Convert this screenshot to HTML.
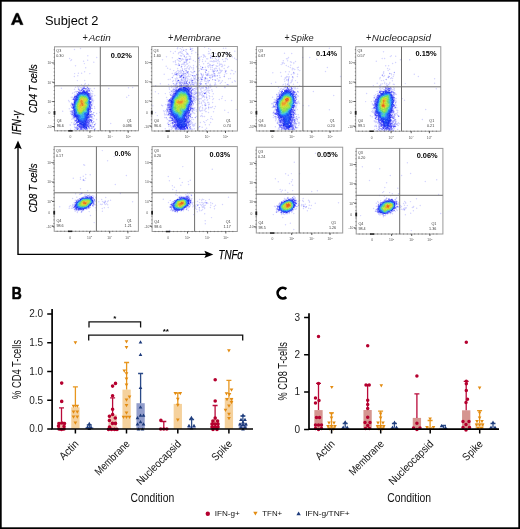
<!DOCTYPE html>
<html><head><meta charset="utf-8"><style>
html,body{margin:0;padding:0;background:#fff;}
svg{display:block;will-change:transform;font-family:"Liberation Sans", sans-serif;}
</style></head><body>
<svg width="520" height="529" viewBox="0 0 520 529">
<rect x="0" y="0" width="520" height="529" fill="none" stroke="#000" stroke-width="3.4"/>
<path d="M11.1 24.7 L15.9 13.4 Q17.15 12.6 18.4 13.4 L23.2 24.7 L20.3 24.7 L19.3 22.2 L15.0 22.2 L14.0 24.7 Z M15.55 20.2 L18.75 20.2 L17.15 16.0 Z" fill="#000" fill-rule="evenodd" stroke="#000" stroke-width="0.35" stroke-linejoin="round"/>
<text x="45.00" y="25.10" font-size="12.6" textLength="53.50" lengthAdjust="spacingAndGlyphs" >Subject 2</text>
<text x="82.60" y="40.9" font-size="10" fill="#222" textLength="5.40" lengthAdjust="spacingAndGlyphs">+</text>
<text x="88.70" y="40.8" font-size="9" font-style="italic" fill="#222" textLength="22.10" lengthAdjust="spacingAndGlyphs">Actin</text>
<text x="168.00" y="40.9" font-size="10" fill="#222" textLength="5.50" lengthAdjust="spacingAndGlyphs">+</text>
<text x="174.10" y="40.8" font-size="9" font-style="italic" fill="#222" textLength="46.60" lengthAdjust="spacingAndGlyphs">Membrane</text>
<text x="284.50" y="40.9" font-size="10" fill="#222" textLength="5.10" lengthAdjust="spacingAndGlyphs">+</text>
<text x="290.60" y="40.8" font-size="9" font-style="italic" fill="#222" textLength="23.10" lengthAdjust="spacingAndGlyphs">Spike</text>
<text x="365.90" y="40.9" font-size="10" fill="#222" textLength="5.40" lengthAdjust="spacingAndGlyphs">+</text>
<text x="371.80" y="40.8" font-size="9" font-style="italic" fill="#222" textLength="59.20" lengthAdjust="spacingAndGlyphs">Nucleocapsid</text>
<text x="21.50" y="134.80" font-size="12.8" font-style="italic" textLength="23.80" lengthAdjust="spacingAndGlyphs" transform="rotate(-90 21.50 134.80)" stroke="#000" stroke-width="0.25">IFN-γ</text>
<text x="37.10" y="113.00" font-size="10.2" font-style="italic" textLength="48.80" lengthAdjust="spacingAndGlyphs" transform="rotate(-90 37.10 113.00)" stroke="#000" stroke-width="0.2">CD4 T cells</text>
<text x="37.30" y="212.60" font-size="10.2" font-style="italic" textLength="49.00" lengthAdjust="spacingAndGlyphs" transform="rotate(-90 37.30 212.60)" stroke="#000" stroke-width="0.2">CD8 T cells</text>
<text x="218.50" y="258.70" font-size="13.4" font-style="italic" textLength="24.40" lengthAdjust="spacingAndGlyphs" stroke="#000" stroke-width="0.25">TNFα</text>
<path d="M18 254.4 V146 M17.3 254.4 H207" stroke="#000" stroke-width="1.4" fill="none"/>
<path d="M18 140.4 L14.2 149.2 L18 147.6 L21.8 149.2 Z" fill="#000"/>
<path d="M213.3 254.4 L204.4 250.7 L206 254.4 L204.4 258.1 Z" fill="#000"/>
<defs><filter id="fb" x="-5%" y="-5%" width="110%" height="110%"><feGaussianBlur stdDeviation="0.6"/></filter></defs>
<g>
<g fill="none" stroke-linecap="round" stroke-width="1.45"><path d="M80.5 48.4h0M74.5 49.4h0M113.4 54.2h0M87.8 55.7h0M96.7 57.5h0M69.6 58.5h0M71.5 59.7h0M70.8 60.6h0M87.7 60.3h0M83.6 61.3h0M93.8 62.3h0M84.4 63.6h0M75.5 65.7h0M85.7 67.8h0M84.6 71.8h0M74.6 73.6h0M78.4 73.2h0M81.6 73.2h0M89.8 73.6h0M77.8 75.7h0M74.4 76.5h0M77.4 80.6h0M84.7 80.5h0M85.4 83.5h0M81.5 84.6h0M84.7 84.4h0M88.5 84.4h0M83.2 85.7h0M77.6 86.6h0M79.2 86.2h0M83.5 86.4h0M84.8 86.5h0M86.3 86.3h0M75.5 87.2h0M78.3 87.6h0M80.4 87.6h0M81.2 87.6h0M82.3 87.5h0M83.6 87.5h0M128.5 87.7h0M132.6 87.4h0M61.4 88.3h0M78.4 88.5h0M81.7 88.3h0M82.7 88.6h0M87.3 88.3h0M89.3 88.4h0M90.6 88.6h0M94.4 88.4h0M108.8 88.4h0M74.5 89.3h0M79.3 89.3h0M83.4 89.6h0M85.8 89.6h0M88.6 89.3h0M89.6 89.4h0M85.3 90.3h0M86.7 90.4h0M88.3 90.4h0M91.5 90.5h0M75.3 91.4h0M76.7 91.5h0M78.6 91.8h0M85.2 91.2h0M89.7 91.6h0M92.7 91.5h0M74.4 92.6h0M76.4 92.8h0M88.4 92.4h0M90.3 92.2h0M72.5 93.3h0M90.8 93.4h0M91.3 93.4h0M92.7 93.7h0M74.8 94.6h0M76.4 94.3h0M90.7 94.5h0M74.5 95.5h0M91.6 95.4h0M92.5 95.4h0M94.8 95.4h0M128.7 95.4h0M90.6 96.4h0M92.5 96.7h0M71.3 97.2h0M72.6 97.3h0M73.3 97.4h0M75.4 97.8h0M126.7 97.3h0M91.6 98.3h0M92.7 98.6h0M72.3 99.3h0M92.4 99.8h0M68.6 100.4h0M93.7 100.3h0M69.3 101.7h0M73.7 101.8h0M93.2 101.7h0M73.7 102.7h0M92.8 103.2h0M71.4 104.4h0M92.6 104.6h0M70.8 105.5h0M71.5 106.7h0M72.4 106.3h0M91.7 106.2h0M94.4 106.6h0M69.3 108.7h0M92.3 108.4h0M94.7 108.3h0M71.4 110.6h0M72.5 110.7h0M89.3 110.2h0M62.7 111.2h0M70.3 111.2h0M71.3 112.3h0M99.8 112.5h0M70.6 113.4h0M71.5 113.7h0M91.7 113.7h0M96.6 113.4h0M71.5 114.4h0M73.6 114.7h0M93.3 114.2h0M91.4 115.7h0M72.3 116.7h0M73.3 116.8h0M92.2 116.7h0M92.5 117.7h0M72.7 118.4h0M73.6 118.5h0M74.7 118.3h0M75.5 118.2h0M89.5 118.5h0M92.3 118.4h0M93.7 118.7h0M71.8 119.3h0M74.3 119.5h0M75.5 119.6h0M88.5 119.3h0M96.6 119.5h0M74.7 120.4h0M77.7 120.3h0M92.3 120.5h0M75.5 121.3h0M71.7 122.6h0M74.4 122.3h0M89.4 122.7h0M90.2 122.8h0M91.5 122.6h0M73.8 123.2h0M76.4 123.7h0M77.6 123.7h0M92.5 123.4h0M95.6 123.4h0M110.7 123.5h0M70.2 124.7h0M73.5 124.6h0M75.2 124.6h0M76.2 124.3h0M89.8 124.6h0M90.6 124.4h0M91.2 124.7h0M92.7 124.8h0M70.3 125.3h0M80.4 125.6h0M91.3 125.4h0M74.6 126.3h0M76.5 126.8h0M77.3 126.4h0M89.4 126.8h0M92.5 126.7h0M74.7 127.5h0M78.5 127.4h0M88.7 127.7h0M92.6 127.8h0M77.3 128.2h0M79.3 128.2h0M82.3 128.3h0M88.3 128.2h0M92.5 128.4h0M94.7 128.8h0M95.3 128.7h0M70.5 129.3h0M74.6 129.4h0M76.3 129.5h0M79.8 129.3h0M83.7 129.4h0" stroke="#2828f8" stroke-opacity="0.2"/>
<path d="M84.3 87.3h0M86.2 88.5h0M78.6 89.5h0M81.4 89.7h0M87.3 89.5h0M79.6 90.5h0M80.4 90.6h0M84.4 90.4h0M77.3 91.6h0M80.5 91.8h0M88.8 91.5h0M78.5 93.5h0M89.2 94.5h0M90.5 95.3h0M74.8 96.8h0M91.6 96.6h0M74.8 98.2h0M91.7 99.5h0M92.2 100.4h0M91.5 101.5h0M91.3 102.3h0M71.5 103.3h0M72.7 103.5h0M73.6 103.6h0M90.7 105.2h0M91.7 105.4h0M90.4 106.2h0M71.7 107.5h0M72.8 107.2h0M89.6 107.2h0M91.7 108.2h0M73.6 109.7h0M71.3 111.5h0M73.7 111.3h0M89.8 112.3h0M90.7 112.3h0M93.8 112.6h0M72.4 113.5h0M73.2 113.8h0M89.3 113.6h0M89.7 114.4h0M91.4 114.6h0M92.6 114.5h0M90.3 115.4h0M94.4 115.8h0M89.4 116.7h0M91.7 116.4h0M73.8 117.8h0M75.7 117.6h0M91.4 117.4h0M88.7 118.7h0M77.8 119.7h0M87.6 120.4h0M76.5 121.8h0M88.8 121.3h0M93.8 121.8h0M79.5 122.7h0M92.8 122.6h0M75.8 123.6h0M89.3 123.4h0M74.7 124.5h0M79.6 125.5h0M89.8 125.3h0M90.4 126.2h0M91.6 126.4h0M75.5 127.7h0M76.4 127.7h0M77.4 127.6h0M79.4 127.3h0M89.2 127.3h0M76.4 128.2h0M80.7 128.2h0M81.5 128.4h0M83.8 128.7h0M87.3 128.6h0M89.6 128.6h0M91.4 128.3h0M80.3 129.6h0M82.6 129.6h0M86.3 129.7h0M87.3 129.6h0" stroke="#2828f8" stroke-opacity="0.4"/>
<path d="M87.6 87.2h0M83.5 88.3h0M85.6 88.7h0M88.6 88.7h0M87.8 90.6h0M89.4 90.5h0M82.8 91.6h0M87.3 91.5h0M79.4 92.3h0M81.3 92.6h0M77.5 93.6h0M89.7 93.7h0M90.7 97.4h0M73.7 98.8h0M75.4 98.2h0M74.3 99.3h0M90.4 101.8h0M90.5 103.3h0M90.7 104.2h0M91.3 104.7h0M72.6 105.2h0M73.4 105.4h0M72.6 108.3h0M90.3 109.7h0M73.5 110.2h0M90.3 110.3h0M72.7 111.3h0M89.7 111.3h0M91.3 111.4h0M72.4 112.4h0M73.7 112.6h0M90.6 114.6h0M88.3 115.5h0M89.7 115.5h0M90.6 116.7h0M74.4 117.3h0M89.7 117.3h0M76.8 119.6h0M89.5 119.5h0M75.3 120.7h0M89.5 120.3h0M89.4 121.4h0M76.7 122.4h0M88.4 123.5h0M77.7 124.7h0M87.2 124.4h0M88.5 124.5h0M94.7 124.8h0M88.3 125.7h0M90.3 125.4h0M78.7 126.3h0M87.2 126.3h0M93.7 126.7h0M82.3 127.8h0M78.2 128.7h0M85.4 128.7h0M85.3 129.2h0M94.5 129.7h0" stroke="#2828f8" stroke-opacity="0.6"/>
<path d="M89.4 100.4h0" stroke="#1840f0" stroke-opacity="0.6"/>
<path d="M86.5 126.4h0" stroke="#1828f0" stroke-opacity="0.6"/>
<path d="M84.2 88.4h0M82.6 89.2h0M81.8 90.5h0M83.7 90.8h0M84.7 91.6h0M86.5 91.3h0M78.7 92.5h0M80.6 92.6h0M86.2 92.3h0M87.3 92.5h0M77.5 94.8h0M88.4 94.4h0M76.3 95.6h0M89.3 95.3h0M75.3 96.4h0M89.7 96.8h0M74.5 97.3h0M90.7 98.2h0M73.4 99.6h0M75.3 99.2h0M74.6 100.3h0M74.6 101.4h0M90.6 102.7h0M72.4 104.5h0M73.6 104.6h0M73.5 106.5h0M90.4 107.3h0M73.7 108.6h0M89.4 108.7h0M90.4 108.7h0M89.3 109.6h0M72.2 114.7h0M73.7 115.8h0M74.8 115.3h0M74.4 116.2h0M88.5 116.8h0M76.7 117.8h0M88.3 117.4h0M76.7 118.7h0M87.5 118.3h0M87.2 119.7h0M90.6 119.8h0M76.3 120.5h0M86.4 120.4h0M88.2 120.3h0M90.6 120.3h0M91.6 120.2h0M77.6 121.5h0M86.3 121.3h0M91.3 121.7h0M77.3 122.4h0M78.8 122.3h0M86.6 122.4h0M87.3 122.8h0M88.7 122.3h0M79.7 123.4h0M86.7 123.4h0M78.3 124.8h0M79.4 124.7h0M80.8 124.7h0M85.4 124.3h0M86.5 124.7h0M77.5 125.6h0M81.4 125.2h0M86.4 125.6h0M87.2 125.3h0M79.7 126.5h0M80.7 126.3h0M81.4 126.7h0M82.6 126.6h0M88.3 126.8h0M80.5 127.7h0M81.6 127.8h0M84.4 128.2h0M86.5 128.5h0M77.5 129.2h0M81.2 129.2h0" stroke="#2828f8" stroke-opacity="0.8"/>
<path d="M87.5 93.5h0M74.6 112.4h0M87.7 116.6h0" stroke="#1830f0" stroke-opacity="0.8"/>
<path d="M89.2 104.8h0" stroke="#1840f0" stroke-opacity="0.8"/>
<path d="M86.7 115.6h0M82.3 123.7h0" stroke="#1838f0" stroke-opacity="0.8"/>
<path d="M80.2 122.6h0M84.2 127.4h0" stroke="#1828f0" stroke-opacity="0.8"/>
<path d="M83.6 91.2h0M88.6 93.6h0M90.2 99.3h0M75.4 116.4h0M78.7 121.7h0M87.2 121.7h0" stroke="#2828f8"/>
<path d="M82.3 92.3h0M83.6 92.7h0M84.7 92.3h0M85.8 92.7h0M88.3 95.6h0M76.4 96.7h0M89.5 97.7h0M74.5 102.4h0M73.6 107.5h0M88.3 113.5h0M74.3 114.4h0M88.6 114.4h0M75.5 115.5h0M76.7 116.4h0M87.8 117.5h0M86.4 119.7h0M78.5 120.4h0M79.3 121.3h0M85.7 122.3h0M80.4 123.5h0M85.7 123.7h0M82.8 125.3h0M85.3 125.3h0M83.3 126.2h0M83.3 127.3h0M86.5 127.5h0" stroke="#1828f0"/>
<path d="M79.4 93.2h0M77.8 95.2h0M76.3 97.3h0M75.3 100.3h0M74.8 103.4h0M74.7 104.3h0M89.5 106.8h0M88.3 109.5h0M88.4 110.4h0M88.5 111.7h0M88.6 112.8h0M74.3 113.4h0M76.5 115.6h0M87.3 115.5h0M77.7 116.4h0M77.2 117.6h0M77.8 118.7h0M86.6 118.3h0M85.3 120.7h0M85.5 121.6h0M84.3 122.8h0M83.6 123.2h0M84.4 123.8h0M81.2 124.4h0M82.6 124.6h0M83.6 124.4h0M84.5 124.3h0M83.5 125.6h0M84.4 125.3h0M84.4 126.4h0M85.3 126.7h0M85.8 127.6h0" stroke="#1830f0"/>
<path d="M80.4 93.8h0M81.6 93.4h0M83.3 93.3h0M84.7 93.7h0M89.6 99.6h0M75.3 101.4h0M89.2 103.5h0M74.5 109.5h0M75.5 113.2h0M87.5 113.7h0M76.2 114.7h0M79.4 120.3h0M84.4 120.6h0M81.5 121.7h0M82.3 121.8h0M83.2 121.6h0" stroke="#1840f0"/>
<path d="M82.3 93.2h0M86.4 93.8h0M78.8 94.5h0M87.4 94.5h0M88.6 96.6h0M76.3 98.7h0M89.3 98.4h0M76.5 99.5h0M89.6 101.5h0M89.7 102.4h0M89.3 105.3h0M88.2 108.4h0M74.6 110.7h0M74.5 111.6h0M75.3 114.7h0M86.5 114.6h0M87.5 114.4h0M77.4 115.7h0M86.6 116.3h0M86.3 117.5h0M78.4 119.4h0M85.2 119.4h0M80.6 121.8h0M84.4 121.6h0M81.8 122.7h0M82.3 122.6h0M83.3 122.2h0M81.7 123.7h0" stroke="#1838f0"/>
<path d="M85.6 93.4h0M77.7 96.6h0M77.5 97.5h0M76.4 100.3h0M74.5 105.8h0M74.2 108.6h0M85.3 114.3h0M85.7 115.8h0M78.2 116.3h0M78.3 117.5h0M78.2 118.4h0M85.5 118.3h0M80.5 120.6h0" stroke="#1848f0"/>
<path d="M79.3 94.2h0M86.2 94.6h0M78.3 95.4h0M87.7 95.4h0M88.7 97.8h0M77.3 98.7h0M77.3 99.4h0M75.4 102.5h0M74.7 106.7h0M88.8 107.7h0M75.6 112.3h0M87.8 112.4h0M86.2 113.3h0M77.3 114.7h0M78.7 115.8h0M85.3 116.5h0M85.5 117.4h0M79.3 119.6h0M84.3 119.2h0M81.4 120.6h0M82.3 120.6h0M83.6 120.7h0" stroke="#1850f8"/>
<path d="M80.4 94.8h0M85.4 94.6h0M77.2 100.6h0M76.3 101.8h0M84.6 114.8h0M84.8 115.5h0M79.4 117.3h0M79.5 118.7h0M80.7 119.5h0" stroke="#2070f8"/>
<path d="M81.3 94.4h0M78.5 96.8h0M88.2 106.3h0M75.6 109.8h0M79.3 115.3h0M84.7 116.3h0M84.6 117.6h0M82.3 119.6h0" stroke="#2078f8"/>
<path d="M82.7 94.3h0M83.2 94.7h0M84.5 94.6h0M75.6 103.5h0M75.5 104.7h0M87.7 108.2h0M75.7 110.3h0M87.6 111.6h0" stroke="#2060f8"/>
<path d="M79.5 95.5h0M88.7 103.2h0M75.6 106.5h0M77.8 113.7h0M80.7 117.6h0M83.6 118.6h0" stroke="#2890f0"/>
<path d="M80.4 95.4h0M82.8 95.5h0M79.5 96.5h0M87.5 97.7h0M86.7 110.3h0M83.7 112.5h0M81.7 114.3h0M82.4 114.7h0M82.5 115.7h0" stroke="#38b8d8"/>
<path d="M81.3 95.3h0M78.7 100.7h0M76.5 108.4h0" stroke="#40c8c8"/>
<path d="M83.3 95.3h0M76.4 110.3h0M86.6 111.7h0M81.4 115.6h0M82.7 116.5h0" stroke="#30b0e0"/>
<path d="M84.3 95.8h0M76.3 102.7h0M83.8 113.7h0M83.3 116.4h0M82.6 117.7h0" stroke="#30a8e8"/>
<path d="M85.7 95.6h0" stroke="#38b0e0"/>
<path d="M86.4 95.4h0M88.2 99.2h0M88.6 100.7h0M88.4 104.7h0M75.6 107.2h0M87.7 107.4h0M76.7 111.3h0M84.4 112.6h0M83.5 114.7h0M80.6 115.7h0M81.8 116.4h0" stroke="#28a0f0"/>
<path d="M80.7 96.4h0M84.5 96.6h0" stroke="#58d888"/>
<path d="M81.7 96.6h0M77.8 104.4h0M77.3 108.8h0M77.6 109.7h0M83.5 110.7h0M82.6 111.2h0" stroke="#78d858"/>
<path d="M82.7 96.6h0M86.4 97.6h0M87.6 99.7h0M77.3 103.7h0M86.6 103.4h0M85.5 109.2h0M81.7 112.4h0" stroke="#70d860"/>
<path d="M83.6 96.5h0M85.2 108.4h0M77.5 110.3h0" stroke="#68d868"/>
<path d="M85.5 96.5h0M87.7 98.7h0" stroke="#58d088"/>
<path d="M86.8 96.7h0" stroke="#48c8b8"/>
<path d="M87.3 96.6h0" stroke="#2088f0"/>
<path d="M78.6 97.4h0M78.5 114.3h0M80.2 118.3h0" stroke="#2888f0"/>
<path d="M79.5 97.5h0M87.4 101.7h0M87.5 103.7h0M76.4 106.6h0M76.3 107.7h0" stroke="#48d0b0"/>
<path d="M80.2 97.6h0M86.4 101.3h0M77.3 107.3h0" stroke="#80e058"/>
<path d="M81.4 97.6h0M82.5 97.4h0M78.8 103.7h0M85.8 106.8h0M83.5 108.8h0M83.7 109.8h0M82.7 110.3h0" stroke="#a0e040"/>
<path d="M83.8 97.4h0M86.5 98.7h0M79.4 100.3h0M84.3 108.7h0M84.8 109.4h0M78.3 110.4h0" stroke="#98e048"/>
<path d="M84.6 97.5h0M85.3 97.8h0M86.2 104.5h0M77.5 105.5h0M85.7 107.5h0M78.5 111.2h0" stroke="#88e050"/>
<path d="M78.3 98.5h0M88.3 105.3h0M85.7 112.5h0M81.2 118.5h0M82.4 118.4h0" stroke="#2898f0"/>
<path d="M79.8 98.3h0M86.7 102.7h0M87.8 105.6h0" stroke="#60d880"/>
<path d="M80.7 98.4h0M81.7 111.7h0" stroke="#a8e038"/>
<path d="M81.6 98.6h0M80.3 99.5h0M84.8 101.3h0M79.2 103.6h0M84.5 103.3h0M85.5 105.7h0M82.8 107.6h0M81.7 108.4h0M80.5 110.6h0" stroke="#c8d830"/>
<path d="M82.8 98.4h0M78.2 105.3h0M83.8 106.5h0M84.3 106.5h0M81.5 110.7h0" stroke="#c0d830"/>
<path d="M83.5 98.7h0M84.3 98.7h0M85.3 98.7h0M86.3 99.5h0M79.3 102.6h0M84.6 102.6h0M78.6 104.2h0M83.3 107.2h0M84.4 107.5h0M79.4 111.3h0M80.7 111.8h0" stroke="#b8e030"/>
<path d="M88.7 98.3h0M88.7 101.2h0M88.3 102.7h0M75.4 105.7h0M75.3 108.7h0M76.4 112.5h0M86.6 112.5h0M84.4 113.8h0M80.3 116.7h0M81.6 119.3h0" stroke="#2080f0"/>
<path d="M78.7 99.4h0M81.3 117.6h0M83.4 117.6h0" stroke="#28a8f0"/>
<path d="M79.4 99.5h0M78.4 112.8h0M80.3 113.7h0" stroke="#70d858"/>
<path d="M81.4 99.2h0M83.8 105.5h0" stroke="#e0c028"/>
<path d="M82.3 99.3h0M83.3 100.7h0M83.3 101.7h0M83.5 102.3h0M79.4 105.5h0M79.7 106.5h0M81.4 106.8h0M79.3 108.4h0M80.7 108.3h0M80.7 109.8h0" stroke="#e0d028"/>
<path d="M83.5 99.7h0M84.4 99.3h0M85.7 100.8h0M79.5 104.3h0M82.2 106.4h0" stroke="#d0d830"/>
<path d="M85.7 99.4h0M81.3 107.7h0" stroke="#d8d830"/>
<path d="M80.4 100.7h0M80.7 102.4h0M84.6 105.6h0M79.5 107.7h0" stroke="#e0c828"/>
<path d="M81.5 100.8h0M81.8 103.3h0" stroke="#e88020"/>
<path d="M82.6 100.6h0M80.6 101.2h0M80.3 103.2h0" stroke="#e8b828"/>
<path d="M84.5 100.7h0" stroke="#d8d828"/>
<path d="M86.6 100.8h0M79.6 101.4h0M85.3 101.5h0M85.2 104.7h0" stroke="#b0e038"/>
<path d="M87.2 100.7h0M86.6 107.5h0" stroke="#68d870"/>
<path d="M77.6 101.6h0M79.3 114.2h0" stroke="#30b0e8"/>
<path d="M78.4 101.3h0" stroke="#60d878"/>
<path d="M81.2 101.3h0" stroke="#e87018"/>
<path d="M82.7 101.5h0M82.6 105.4h0" stroke="#e8a020"/>
<path d="M77.7 102.5h0M82.6 112.6h0" stroke="#50d0a0"/>
<path d="M78.7 102.6h0M85.6 102.4h0M77.4 106.8h0M86.2 106.5h0" stroke="#80e050"/>
<path d="M81.4 102.5h0M81.3 104.3h0M80.5 105.8h0" stroke="#e89020"/>
<path d="M82.7 102.7h0M81.7 105.6h0" stroke="#f09820"/>
<path d="M87.4 102.5h0M76.5 103.5h0M76.6 109.4h0M80.3 114.5h0" stroke="#40c0d0"/>
<path d="M82.2 103.8h0" stroke="#e86018"/>
<path d="M83.7 103.2h0" stroke="#e8b020"/>
<path d="M85.5 103.6h0M79.6 112.4h0M80.4 112.7h0" stroke="#90e048"/>
<path d="M76.3 104.2h0M82.6 113.4h0" stroke="#40c8c0"/>
<path d="M80.7 104.5h0" stroke="#e8b028"/>
<path d="M82.7 104.7h0" stroke="#e86818"/>
<path d="M83.4 104.6h0" stroke="#e8a820"/>
<path d="M84.3 104.3h0M79.4 109.6h0M81.3 109.6h0" stroke="#d8d028"/>
<path d="M87.6 104.5h0M85.6 110.8h0M77.2 111.6h0M83.8 111.5h0M81.4 113.6h0" stroke="#58d090"/>
<path d="M76.2 105.6h0M78.5 113.3h0" stroke="#50d0a8"/>
<path d="M86.2 105.4h0" stroke="#a8e040"/>
<path d="M78.6 106.5h0M78.6 107.7h0M78.4 108.3h0M82.7 108.2h0M82.4 109.3h0M79.2 110.4h0" stroke="#c0e030"/>
<path d="M80.3 106.8h0M80.5 107.6h0" stroke="#e8c028"/>
<path d="M87.4 106.3h0M86.4 108.5h0M86.5 109.7h0M77.8 112.7h0" stroke="#40c0c8"/>
<path d="M74.3 107.3h0M87.3 109.7h0M87.7 110.4h0M75.8 111.3h0M76.2 113.2h0" stroke="#1858f8"/>
<path d="M78.7 109.6h0" stroke="#b8e038"/>
<path d="M84.2 110.3h0M79.4 113.4h0" stroke="#68d860"/>
<path d="M84.5 111.6h0" stroke="#48d0b8"/>
<path d="M85.8 111.6h0" stroke="#48c8c0"/>
<path d="M85.2 113.4h0M79.2 116.2h0" stroke="#1860f8"/>
<path d="M83.3 115.3h0" stroke="#30a8f0"/>
<path d="M84.4 118.5h0M83.4 119.2h0" stroke="#2068f8"/></g>
<g fill="none" stroke-linecap="round" stroke-width="1.45"><path d="M177.7 47.8h0M182.5 47.4h0M190.2 47.6h0M204.6 47.3h0M177.4 48.7h0M180.2 48.5h0M191.5 48.7h0M192.6 48.4h0M208.7 48.4h0M223.5 48.3h0M225.8 48.2h0M181.7 49.7h0M210.5 49.7h0M192.8 50.4h0M170.6 51.4h0M175.3 51.5h0M180.6 51.6h0M182.2 51.7h0M185.8 51.3h0M191.6 51.3h0M208.7 51.4h0M234.8 51.3h0M178.7 52.8h0M179.8 52.2h0M180.6 52.2h0M186.7 52.6h0M195.8 52.5h0M226.3 52.3h0M173.4 53.3h0M178.4 53.8h0M181.3 53.2h0M182.5 53.8h0M191.7 53.5h0M208.4 53.7h0M209.7 53.5h0M215.4 53.4h0M228.6 53.4h0M183.5 54.6h0M186.5 54.2h0M188.3 54.5h0M203.3 54.7h0M226.6 54.8h0M180.4 55.4h0M181.7 55.6h0M184.3 55.6h0M203.7 55.6h0M204.5 55.3h0M210.8 55.5h0M166.5 56.7h0M181.2 56.3h0M186.6 56.8h0M189.3 56.3h0M190.5 56.6h0M201.3 56.5h0M204.6 56.3h0M205.5 56.7h0M217.3 56.4h0M229.6 56.7h0M232.4 56.8h0M172.4 57.8h0M185.5 57.6h0M186.3 57.7h0M199.7 57.3h0M203.5 57.2h0M218.6 57.4h0M219.3 57.5h0M178.6 58.3h0M182.6 58.7h0M190.5 58.2h0M206.7 58.7h0M207.7 58.7h0M210.7 58.3h0M212.5 58.2h0M215.5 58.2h0M225.5 58.7h0M226.5 58.2h0M234.6 58.3h0M162.5 59.7h0M177.4 59.8h0M182.2 59.5h0M183.3 59.6h0M185.4 59.3h0M190.7 59.2h0M199.7 59.8h0M202.6 59.6h0M216.3 59.7h0M218.5 59.6h0M222.6 59.5h0M227.4 59.5h0M236.3 59.5h0M175.5 60.7h0M178.7 60.4h0M181.5 60.3h0M187.4 60.5h0M193.4 60.4h0M199.5 60.4h0M213.7 60.6h0M217.4 60.6h0M218.2 60.6h0M173.3 61.8h0M175.2 61.5h0M179.2 61.3h0M180.3 61.5h0M184.2 61.8h0M186.5 61.8h0M195.4 61.6h0M202.5 61.4h0M205.5 61.3h0M210.2 61.3h0M211.6 61.3h0M212.4 61.6h0M213.6 61.8h0M214.4 61.4h0M215.2 61.3h0M216.4 61.6h0M219.2 61.7h0M223.7 61.4h0M225.3 61.2h0M175.5 62.6h0M185.7 62.3h0M186.4 62.8h0M189.5 62.3h0M199.3 62.3h0M178.6 63.5h0M183.4 63.3h0M187.7 63.8h0M203.6 63.8h0M207.7 63.4h0M208.6 63.2h0M217.6 63.3h0M219.8 63.8h0M175.5 64.5h0M176.6 64.4h0M178.6 64.5h0M181.5 64.5h0M182.5 64.3h0M183.5 64.4h0M184.8 64.6h0M186.8 64.2h0M199.3 64.8h0M209.6 64.4h0M210.4 64.7h0M213.7 64.7h0M219.6 64.7h0M220.8 64.5h0M221.6 64.2h0M178.4 65.4h0M185.2 65.3h0M188.7 65.7h0M193.5 65.5h0M208.3 65.7h0M209.6 65.8h0M210.4 65.3h0M211.5 65.6h0M216.2 65.7h0M219.3 65.4h0M222.6 65.3h0M224.7 65.2h0M166.2 66.3h0M184.7 66.5h0M187.4 66.6h0M190.4 66.4h0M196.7 66.8h0M197.3 66.3h0M200.7 66.4h0M207.8 66.3h0M216.8 66.4h0M217.6 66.3h0M221.5 66.4h0M222.5 66.6h0M228.6 66.5h0M181.2 67.3h0M187.2 67.7h0M189.6 67.7h0M191.6 67.8h0M193.5 67.5h0M205.4 67.3h0M208.4 67.2h0M210.6 67.3h0M212.4 67.5h0M227.6 67.5h0M167.6 68.3h0M177.6 68.4h0M182.4 68.5h0M184.7 68.6h0M185.5 68.6h0M186.4 68.8h0M188.6 68.8h0M193.5 68.2h0M198.4 68.4h0M200.2 68.6h0M214.4 68.6h0M215.4 68.3h0M216.6 68.4h0M219.3 68.3h0M224.2 68.4h0M170.2 69.3h0M182.5 69.6h0M184.6 69.5h0M189.4 69.2h0M193.2 69.7h0M202.2 69.3h0M203.7 69.6h0M205.3 69.4h0M210.6 69.3h0M212.4 69.8h0M214.5 69.6h0M219.8 69.5h0M173.7 70.6h0M177.7 70.5h0M178.7 70.6h0M180.5 70.2h0M185.7 70.7h0M199.3 70.4h0M213.4 70.4h0M214.6 70.3h0M215.2 70.4h0M219.7 70.6h0M220.4 70.4h0M221.4 70.5h0M222.2 70.4h0M225.4 70.5h0M226.3 70.7h0M231.4 70.3h0M232.6 70.6h0M176.6 71.8h0M179.3 71.4h0M180.2 71.5h0M181.3 71.3h0M186.6 71.7h0M190.7 71.6h0M193.7 71.7h0M198.7 71.3h0M205.4 71.2h0M208.7 71.8h0M212.5 71.2h0M214.5 71.5h0M216.8 71.6h0M221.3 71.4h0M235.4 71.7h0M175.7 72.4h0M178.5 72.5h0M180.6 72.6h0M181.4 72.4h0M183.8 72.2h0M191.6 72.3h0M192.3 72.7h0M193.4 72.7h0M213.4 72.3h0M218.7 72.5h0M220.4 72.5h0M225.3 72.8h0M172.3 73.5h0M174.6 73.3h0M176.4 73.7h0M178.3 73.6h0M179.4 73.6h0M180.6 73.2h0M182.4 73.5h0M184.5 73.7h0M188.6 73.2h0M200.8 73.4h0M207.2 73.6h0M208.6 73.7h0M213.6 73.5h0M218.2 73.5h0M219.7 73.3h0M226.7 73.6h0M230.6 73.8h0M233.8 73.7h0M164.2 74.2h0M174.5 74.6h0M178.8 74.3h0M181.7 74.4h0M182.4 74.3h0M186.3 74.2h0M188.8 74.4h0M190.8 74.8h0M198.3 74.4h0M203.4 74.3h0M205.8 74.5h0M208.7 74.4h0M211.8 74.5h0M212.8 74.7h0M214.8 74.8h0M224.5 74.7h0M173.5 75.8h0M176.7 75.5h0M177.4 75.5h0M180.6 75.4h0M184.8 75.8h0M185.5 75.5h0M188.4 75.7h0M193.4 75.4h0M195.7 75.8h0M197.6 75.7h0M201.7 75.5h0M202.5 75.4h0M203.3 75.6h0M206.7 75.2h0M208.7 75.2h0M209.3 75.4h0M210.5 75.4h0M211.2 75.2h0M212.6 75.2h0M213.3 75.7h0M219.5 75.5h0M183.7 76.6h0M185.5 76.7h0M186.8 76.7h0M187.4 76.4h0M188.6 76.4h0M189.8 76.5h0M193.6 76.3h0M202.4 76.5h0M214.4 76.5h0M215.5 76.5h0M176.8 77.6h0M179.4 77.6h0M181.8 77.3h0M184.5 77.6h0M185.3 77.2h0M186.6 77.6h0M193.7 77.7h0M195.5 77.2h0M197.7 77.6h0M198.8 77.5h0M200.6 77.6h0M204.4 77.8h0M205.5 77.4h0M210.8 77.3h0M212.3 77.5h0M219.5 77.4h0M220.3 77.4h0M175.3 78.6h0M176.5 78.7h0M177.5 78.7h0M181.6 78.3h0M183.2 78.5h0M184.3 78.6h0M187.7 78.5h0M191.5 78.2h0M193.7 78.7h0M200.7 78.7h0M201.8 78.2h0M204.7 78.3h0M207.2 78.8h0M210.6 78.6h0M217.3 78.8h0M228.6 78.7h0M230.4 78.5h0M168.3 79.5h0M170.2 79.3h0M175.6 79.3h0M182.2 79.3h0M183.8 79.7h0M184.6 79.2h0M185.6 79.4h0M187.5 79.3h0M189.2 79.7h0M190.8 79.2h0M191.5 79.3h0M194.3 79.8h0M195.2 79.2h0M196.6 79.5h0M197.6 79.4h0M199.8 79.7h0M202.3 79.5h0M204.5 79.8h0M205.6 79.6h0M214.8 79.8h0M173.4 80.5h0M175.5 80.5h0M182.7 80.4h0M183.6 80.5h0M190.5 80.6h0M193.5 80.6h0M204.5 80.7h0M207.5 80.4h0M208.8 80.5h0M218.7 80.3h0M219.5 80.5h0M222.4 80.7h0M234.7 80.8h0M172.7 81.4h0M176.2 81.8h0M177.3 81.7h0M179.6 81.6h0M180.5 81.3h0M183.2 81.8h0M185.7 81.6h0M187.3 81.5h0M189.5 81.5h0M191.6 81.5h0M195.4 81.3h0M200.4 81.6h0M201.7 81.2h0M205.2 81.3h0M206.6 81.7h0M208.4 81.8h0M218.5 81.3h0M235.3 81.4h0M176.5 82.7h0M178.2 82.5h0M182.6 82.2h0M183.6 82.7h0M188.6 82.6h0M191.6 82.4h0M193.2 82.7h0M194.2 82.4h0M195.3 82.8h0M196.2 82.5h0M208.2 82.7h0M215.2 82.6h0M221.3 82.2h0M225.3 82.6h0M232.3 82.3h0M160.4 83.8h0M177.3 83.5h0M179.5 83.8h0M183.6 83.6h0M185.6 83.8h0M189.5 83.3h0M191.3 83.5h0M194.7 83.7h0M196.5 83.3h0M197.2 83.4h0M199.4 83.4h0M206.5 83.7h0M215.3 83.4h0M220.3 83.5h0M168.6 84.5h0M174.8 84.2h0M175.7 84.6h0M176.2 84.5h0M179.3 84.6h0M180.8 84.7h0M183.6 84.5h0M185.7 84.5h0M190.4 84.6h0M196.8 84.5h0M210.3 84.3h0M214.6 84.6h0M215.7 84.5h0M228.5 84.7h0M155.6 85.7h0M171.4 85.7h0M173.8 85.4h0M174.5 85.5h0M176.7 85.4h0M177.2 85.4h0M182.2 85.4h0M193.3 85.8h0M194.4 85.7h0M196.6 85.5h0M206.7 85.5h0M207.2 85.6h0M209.7 85.2h0M210.7 85.8h0M214.7 85.6h0M172.7 86.7h0M178.6 86.5h0M182.7 86.2h0M183.3 86.4h0M189.5 86.3h0M191.5 86.8h0M195.5 86.4h0M198.7 86.3h0M200.7 86.2h0M203.4 86.3h0M204.4 86.4h0M210.7 86.4h0M211.8 86.5h0M224.7 86.4h0M169.2 87.8h0M171.5 87.4h0M174.2 87.6h0M175.6 87.2h0M179.7 87.5h0M187.5 87.3h0M190.6 87.5h0M196.3 87.3h0M197.8 87.6h0M199.4 87.2h0M201.5 87.5h0M202.4 87.4h0M203.4 87.5h0M210.2 87.4h0M216.5 87.3h0M224.6 87.5h0M225.3 87.6h0M173.4 88.4h0M175.4 88.7h0M177.8 88.5h0M178.7 88.8h0M192.7 88.4h0M195.4 88.5h0M196.7 88.4h0M200.4 88.5h0M201.8 88.5h0M203.3 88.5h0M206.3 88.5h0M207.8 88.7h0M208.6 88.8h0M169.5 89.3h0M175.4 89.5h0M177.7 89.5h0M191.8 89.6h0M193.3 89.3h0M195.7 89.8h0M196.7 89.2h0M197.5 89.2h0M200.7 89.5h0M205.4 89.8h0M206.4 89.7h0M211.8 89.8h0M171.2 90.6h0M172.2 90.8h0M173.2 90.3h0M174.7 90.3h0M190.4 90.5h0M193.4 90.7h0M194.5 90.8h0M201.2 90.6h0M204.2 90.5h0M207.6 90.6h0M208.3 90.7h0M209.6 90.4h0M155.4 91.8h0M172.3 91.3h0M191.4 91.5h0M195.7 91.5h0M201.5 91.5h0M202.5 91.6h0M206.5 91.7h0M212.3 91.3h0M169.8 92.4h0M172.5 92.7h0M173.7 92.8h0M174.7 92.3h0M192.7 92.8h0M194.4 92.4h0M196.6 92.5h0M197.8 92.7h0M198.2 92.3h0M199.5 92.5h0M200.5 92.7h0M201.5 92.6h0M203.7 92.8h0M208.3 92.3h0M158.5 93.6h0M165.4 93.6h0M171.3 93.7h0M193.3 93.4h0M197.5 93.4h0M199.3 93.4h0M202.6 93.6h0M209.4 93.3h0M213.3 93.7h0M192.2 94.4h0M195.3 94.7h0M199.4 94.7h0M200.6 94.3h0M202.3 94.5h0M206.6 94.7h0M198.5 95.7h0M201.4 95.5h0M209.2 95.7h0M192.4 96.5h0M194.5 96.6h0M196.4 96.2h0M197.5 96.3h0M204.5 96.3h0M206.5 96.4h0M209.7 96.4h0M212.3 96.5h0M222.4 96.5h0M166.6 97.5h0M192.4 97.6h0M194.5 97.6h0M195.2 97.5h0M202.3 97.2h0M204.6 97.4h0M195.6 98.5h0M196.6 98.3h0M198.6 98.5h0M199.8 98.4h0M200.4 98.6h0M201.4 98.7h0M209.5 98.3h0M213.5 98.6h0M221.8 98.5h0M167.3 99.8h0M191.3 99.6h0M192.6 99.8h0M193.3 99.3h0M196.7 99.5h0M197.5 99.7h0M198.7 99.6h0M199.3 99.3h0M204.8 99.7h0M207.7 99.6h0M212.8 99.6h0M219.3 99.5h0M168.7 100.3h0M195.5 100.4h0M198.7 100.6h0M202.7 100.8h0M203.2 100.4h0M207.2 100.3h0M225.3 100.6h0M231.6 100.4h0M167.3 101.6h0M193.6 101.7h0M194.6 101.2h0M199.5 101.8h0M203.6 101.3h0M168.3 102.6h0M195.3 102.6h0M201.5 102.2h0M204.3 102.5h0M207.7 102.4h0M208.7 102.5h0M212.6 102.4h0M168.8 103.7h0M198.8 103.5h0M199.6 103.5h0M201.4 103.4h0M205.5 103.3h0M165.8 104.6h0M193.4 104.5h0M197.3 104.8h0M204.7 104.6h0M205.7 104.6h0M208.6 104.7h0M209.3 104.3h0M152.8 105.7h0M161.6 105.3h0M162.6 105.7h0M191.7 105.6h0M192.8 105.5h0M202.4 105.3h0M204.7 105.5h0M167.6 106.8h0M168.6 106.3h0M191.6 106.3h0M200.5 106.8h0M212.5 106.8h0M215.4 106.4h0M167.4 107.5h0M192.8 107.3h0M194.8 107.7h0M197.6 107.6h0M199.4 107.5h0M202.5 107.5h0M210.6 107.4h0M211.5 107.6h0M167.4 108.5h0M191.7 108.2h0M199.5 108.5h0M202.6 108.7h0M205.4 108.3h0M206.3 108.2h0M208.6 108.8h0M214.4 108.6h0M189.2 109.6h0M196.3 109.6h0M199.3 109.4h0M205.3 109.7h0M236.3 109.6h0M163.6 110.7h0M165.6 110.6h0M168.7 110.2h0M169.5 110.3h0M191.7 110.5h0M192.5 110.6h0M194.6 110.3h0M199.7 110.4h0M201.2 110.5h0M202.2 110.5h0M204.3 110.3h0M224.7 110.3h0M164.3 111.8h0M166.4 111.5h0M190.8 111.4h0M196.6 111.3h0M200.3 111.3h0M205.5 111.6h0M206.3 111.6h0M213.5 111.7h0M155.6 112.6h0M166.7 112.8h0M170.5 112.2h0M192.6 112.8h0M193.6 112.7h0M208.5 112.5h0M228.2 112.4h0M164.5 113.6h0M168.7 113.5h0M191.4 113.4h0M194.6 113.5h0M202.2 113.6h0M164.6 114.7h0M165.5 114.7h0M166.8 114.3h0M191.3 114.7h0M157.4 115.6h0M167.3 115.3h0M168.5 115.2h0M169.4 115.5h0M201.7 115.5h0M171.3 116.7h0M196.7 116.5h0M200.7 116.2h0M202.7 116.4h0M204.5 116.4h0M211.3 116.6h0M164.7 117.5h0M169.3 117.8h0M185.6 117.4h0M187.4 117.4h0M190.7 117.7h0M191.6 117.6h0M170.3 118.5h0M173.2 118.7h0M189.5 118.2h0M210.8 118.5h0M167.3 119.3h0M171.4 119.3h0M191.8 119.4h0M193.5 119.4h0M207.7 119.6h0M212.5 119.3h0M168.6 120.4h0M170.7 120.8h0M190.5 120.5h0M206.3 120.6h0M172.7 121.7h0M173.4 121.8h0M191.4 121.4h0M203.6 121.6h0M168.3 122.3h0M171.5 122.8h0M191.3 122.3h0M192.5 122.8h0M200.4 122.5h0M204.7 122.5h0M210.6 122.4h0M167.5 123.5h0M170.4 123.5h0M189.3 123.8h0M190.6 123.3h0M191.6 123.5h0M195.3 123.5h0M169.7 124.7h0M172.7 124.3h0M192.5 124.5h0M193.7 124.5h0M194.5 124.7h0M205.4 124.7h0M209.4 124.8h0M170.6 125.6h0M189.3 125.5h0M192.4 125.3h0M193.6 125.3h0M194.6 125.7h0M168.7 126.4h0M170.2 126.6h0M188.6 126.5h0M189.7 126.3h0M193.3 126.3h0M171.4 127.5h0M172.5 127.6h0M174.7 127.7h0M177.8 127.4h0M190.6 127.8h0M198.5 127.7h0M202.2 127.3h0M165.3 128.7h0M172.4 128.5h0M174.8 128.6h0M194.4 128.8h0M206.6 128.3h0M169.3 129.2h0M171.3 129.5h0M178.7 129.5h0M185.6 129.4h0M186.3 129.6h0M187.7 129.7h0M188.7 129.5h0M189.7 129.8h0M191.5 129.3h0M192.7 129.3h0M205.4 129.8h0" stroke="#2828f8" stroke-opacity="0.2"/>
<path d="M186.2 49.6h0M183.7 50.3h0M187.5 53.7h0M197.7 54.5h0M184.4 56.5h0M212.8 56.2h0M210.6 57.5h0M180.6 58.8h0M186.5 59.8h0M187.4 59.5h0M189.3 59.2h0M186.2 60.7h0M184.5 62.8h0M212.6 65.5h0M181.6 66.4h0M201.5 69.2h0M182.4 70.4h0M186.2 70.6h0M217.4 70.5h0M183.6 71.6h0M187.8 71.6h0M188.2 71.7h0M194.6 71.5h0M213.8 71.4h0M225.6 71.4h0M205.6 72.4h0M177.3 73.7h0M183.5 73.8h0M185.3 73.4h0M214.6 73.6h0M175.5 74.4h0M183.6 74.7h0M196.7 74.5h0M201.5 74.3h0M207.4 74.4h0M179.4 75.6h0M182.5 75.5h0M194.7 75.8h0M207.2 75.5h0M214.8 75.4h0M217.3 75.8h0M181.5 76.6h0M212.5 76.6h0M224.3 76.5h0M172.4 77.4h0M180.3 77.3h0M202.3 77.2h0M209.7 77.4h0M185.7 78.3h0M194.8 78.6h0M198.2 78.3h0M181.3 79.7h0M212.7 79.6h0M177.5 80.8h0M181.7 80.3h0M185.2 80.3h0M187.3 80.6h0M191.8 80.7h0M209.4 80.6h0M215.5 80.2h0M184.7 81.7h0M186.5 81.7h0M179.6 82.8h0M180.4 82.4h0M181.5 82.2h0M184.6 82.4h0M192.5 82.5h0M173.4 83.6h0M176.4 83.8h0M180.5 83.5h0M182.8 83.3h0M186.2 83.6h0M200.3 83.3h0M201.3 83.7h0M205.6 83.8h0M181.4 84.3h0M188.3 84.4h0M192.2 84.2h0M193.5 84.5h0M200.6 84.4h0M227.3 84.6h0M175.7 85.8h0M179.6 85.7h0M183.6 85.3h0M184.3 85.6h0M185.2 85.7h0M188.5 85.4h0M190.7 85.3h0M199.3 85.8h0M180.5 86.3h0M184.8 86.3h0M188.2 86.2h0M176.3 87.4h0M177.4 87.3h0M180.6 87.7h0M181.3 87.7h0M182.8 87.4h0M186.4 87.3h0M189.4 87.3h0M191.5 87.4h0M205.8 87.2h0M206.5 87.8h0M176.2 88.7h0M189.4 88.4h0M191.2 88.5h0M194.3 88.6h0M173.3 89.8h0M174.3 89.5h0M176.3 89.4h0M190.3 89.3h0M175.7 90.6h0M171.4 91.6h0M173.4 91.7h0M174.5 91.6h0M190.3 91.6h0M189.6 92.4h0M205.6 92.7h0M173.5 93.6h0M190.3 93.7h0M195.4 93.3h0M196.2 93.3h0M205.7 93.3h0M170.4 94.6h0M172.8 94.7h0M190.4 94.4h0M191.4 94.8h0M194.2 94.4h0M170.6 95.3h0M171.3 95.4h0M172.7 95.7h0M173.8 95.6h0M191.7 95.7h0M203.2 95.8h0M193.3 96.3h0M203.2 96.6h0M171.6 97.7h0M191.6 97.4h0M206.7 97.8h0M170.5 98.2h0M170.6 99.5h0M194.4 99.3h0M192.2 100.5h0M193.6 100.4h0M169.5 101.8h0M169.6 102.3h0M169.2 103.4h0M170.7 103.7h0M190.7 103.4h0M192.6 103.6h0M193.5 103.6h0M167.6 104.3h0M190.7 104.3h0M167.4 105.6h0M205.6 105.5h0M169.6 106.8h0M189.8 107.4h0M191.5 107.8h0M208.7 107.2h0M168.5 108.3h0M169.3 108.4h0M189.5 108.4h0M193.8 108.5h0M166.7 109.3h0M167.3 109.2h0M168.7 109.5h0M193.5 109.7h0M167.6 111.5h0M168.4 111.6h0M192.5 111.2h0M168.7 112.5h0M169.7 112.4h0M190.2 113.7h0M170.5 115.6h0M170.4 116.7h0M172.4 116.8h0M166.3 117.7h0M171.8 117.4h0M172.4 117.3h0M192.3 117.6h0M195.3 117.4h0M187.4 118.2h0M188.6 119.8h0M189.3 119.4h0M169.7 120.4h0M173.7 120.7h0M187.4 120.4h0M188.7 120.7h0M189.8 120.4h0M169.8 121.2h0M188.4 121.5h0M172.3 123.4h0M173.5 123.2h0M187.5 123.3h0M188.4 123.3h0M187.2 124.3h0M189.6 124.8h0M190.3 124.6h0M173.4 125.5h0M175.5 125.2h0M187.7 125.4h0M188.4 125.8h0M172.3 126.2h0M174.6 126.4h0M176.2 126.2h0M187.3 126.7h0M190.5 126.6h0M199.7 126.6h0M175.4 127.3h0M177.5 128.3h0M178.6 128.7h0M186.7 128.3h0M190.6 128.7h0M175.6 129.7h0M176.6 129.6h0M177.8 129.6h0M179.7 129.7h0M182.5 129.5h0" stroke="#2828f8" stroke-opacity="0.4"/>
<path d="M190.5 49.3h0M179.5 58.6h0M198.7 58.3h0M179.4 65.3h0M202.6 67.5h0M206.4 70.3h0M187.3 72.7h0M176.5 74.3h0M192.4 75.6h0M180.3 76.7h0M205.6 78.2h0M201.7 79.5h0M192.4 80.4h0M197.7 80.4h0M186.3 82.7h0M189.6 82.8h0M184.7 83.7h0M187.2 83.7h0M180.3 85.7h0M186.4 85.7h0M187.3 85.8h0M177.7 86.4h0M179.3 86.6h0M185.5 86.7h0M208.6 86.7h0M189.5 89.3h0M192.7 89.8h0M175.3 91.3h0M189.7 91.7h0M175.8 92.7h0M190.7 92.4h0M191.3 92.4h0M173.5 94.8h0M172.4 96.3h0M193.8 97.7h0M171.3 98.4h0M171.7 99.2h0M168.7 101.2h0M192.3 102.5h0M191.4 103.8h0M168.4 104.5h0M169.6 104.4h0M168.2 105.4h0M169.3 105.2h0M190.7 106.7h0M168.2 107.3h0M169.4 107.5h0M190.4 107.6h0M167.4 110.2h0M190.3 110.3h0M169.5 111.4h0M189.4 111.5h0M187.2 113.3h0M168.4 114.4h0M171.5 114.6h0M187.5 114.6h0M188.6 114.7h0M190.3 114.6h0M187.4 115.4h0M187.2 116.2h0M190.3 116.4h0M170.3 117.4h0M171.7 118.3h0M188.2 118.5h0M172.7 119.7h0M173.5 119.8h0M174.3 119.6h0M187.2 119.4h0M171.5 120.4h0M174.8 120.3h0M188.6 122.7h0M175.7 123.2h0M176.3 123.6h0M168.6 124.4h0M175.7 124.6h0M188.5 124.6h0M174.4 125.5h0M175.3 126.6h0M189.6 127.7h0M175.6 128.5h0M176.2 128.5h0M181.5 129.5h0M184.6 129.5h0" stroke="#2828f8" stroke-opacity="0.6"/>
<path d="M182.6 88.3h0" stroke="#1830f0" stroke-opacity="0.6"/>
<path d="M189.3 105.6h0M170.7 108.6h0M188.7 111.6h0" stroke="#1828f0" stroke-opacity="0.6"/>
<path d="M181.5 75.7h0M183.5 77.4h0M178.6 80.4h0M181.7 85.8h0M181.5 86.3h0M186.7 86.5h0M187.6 86.7h0M185.6 87.7h0M188.4 87.5h0M179.5 88.8h0M180.2 88.6h0M187.2 88.7h0M188.2 88.6h0M190.2 88.5h0M188.8 89.4h0M176.2 90.3h0M189.2 90.7h0M191.5 90.7h0M174.3 93.5h0M189.2 93.3h0M191.7 93.6h0M204.7 93.5h0M174.4 94.3h0M191.5 96.3h0M172.5 97.3h0M191.5 98.6h0M169.6 99.8h0M169.2 100.5h0M170.4 100.2h0M191.4 100.2h0M170.3 101.3h0M191.6 101.5h0M192.3 101.6h0M170.5 102.7h0M170.7 104.7h0M191.4 104.8h0M170.3 105.7h0M190.3 105.2h0M170.2 106.6h0M189.3 106.4h0M170.4 107.6h0M190.8 108.4h0M192.3 108.7h0M169.7 109.5h0M190.6 109.4h0M189.4 110.6h0M170.7 111.4h0M187.7 112.8h0M188.6 112.5h0M189.5 112.6h0M169.4 113.8h0M170.7 113.5h0M171.4 113.7h0M186.5 113.7h0M188.5 113.4h0M170.7 114.5h0M186.5 114.5h0M171.3 115.5h0M172.4 115.5h0M186.3 115.3h0M188.7 115.4h0M189.8 115.7h0M185.7 116.2h0M186.5 116.6h0M188.2 116.6h0M173.8 117.7h0M186.6 117.6h0M188.4 117.4h0M172.4 118.4h0M174.4 118.3h0M185.2 118.3h0M186.8 118.3h0M175.4 119.7h0M186.4 119.3h0M172.7 120.2h0M175.5 120.2h0M186.5 120.4h0M174.2 121.4h0M175.5 121.6h0M176.4 121.4h0M186.2 121.4h0M187.8 121.8h0M189.7 121.7h0M172.7 122.8h0M174.5 122.5h0M175.6 122.6h0M176.3 122.6h0M186.7 122.6h0M187.8 122.5h0M186.2 123.4h0M174.6 124.8h0M176.6 124.6h0M176.3 125.4h0M173.7 126.7h0M186.7 126.3h0M176.5 127.7h0M186.4 127.2h0M182.5 128.8h0M183.6 128.6h0M184.4 128.5h0M185.4 128.7h0M187.5 128.5h0M180.6 129.2h0M183.2 129.6h0" stroke="#2828f8" stroke-opacity="0.8"/>
<path d="M189.6 95.4h0M190.4 97.6h0M190.8 101.8h0M173.5 115.8h0M184.3 122.6h0M185.6 123.6h0" stroke="#1830f0" stroke-opacity="0.8"/>
<path d="M171.5 112.4h0M185.2 122.3h0M180.3 125.7h0M186.6 125.6h0M179.6 128.3h0" stroke="#1828f0" stroke-opacity="0.8"/>
<path d="M182.5 119.4h0" stroke="#1840f0" stroke-opacity="0.8"/>
<path d="M182.5 122.5h0M183.5 122.5h0M185.8 124.8h0M184.5 125.6h0" stroke="#1838f0" stroke-opacity="0.8"/>
<path d="M183.6 87.8h0M184.3 87.4h0M181.2 88.3h0M186.5 88.6h0M179.6 89.2h0M187.5 89.4h0M188.6 90.7h0M189.7 94.7h0M173.7 96.7h0M190.3 96.8h0M172.6 98.6h0M171.2 100.5h0M171.5 101.5h0M190.6 102.6h0M170.5 109.5h0M170.3 110.3h0M188.8 110.4h0M186.7 112.7h0M185.2 114.2h0M185.3 115.5h0M174.5 117.4h0M185.7 119.4h0M176.7 120.6h0M185.6 120.3h0M177.5 121.5h0M185.5 121.2h0M177.4 124.6h0M186.3 124.8h0M177.6 125.4h0M178.5 125.5h0M177.4 126.6h0M184.5 126.7h0M185.3 126.3h0M181.6 127.8h0M182.3 127.3h0M183.7 127.3h0M180.3 128.6h0" stroke="#1828f0"/>
<path d="M183.3 88.6h0M184.7 88.3h0M185.5 88.6h0M180.5 89.3h0M183.4 89.6h0M184.2 89.6h0M185.5 89.5h0M186.2 89.8h0M177.5 90.7h0M187.8 90.6h0M176.4 91.3h0M175.5 93.4h0M175.7 94.3h0M174.2 95.5h0M190.3 98.4h0M171.7 102.4h0M171.8 103.6h0M188.5 107.6h0M188.5 108.2h0M188.5 109.7h0M171.4 111.7h0M187.4 111.6h0M185.4 113.5h0M172.3 114.5h0M174.4 116.2h0M184.4 117.7h0M175.3 118.7h0M184.7 118.7h0M176.6 119.5h0M177.6 120.3h0M178.3 120.6h0M178.5 121.7h0M184.4 121.5h0M177.6 122.7h0M178.2 122.8h0M177.7 123.7h0M178.6 123.7h0M178.8 124.7h0M179.6 124.4h0M180.7 124.6h0M181.5 124.5h0M182.4 124.6h0M179.6 125.8h0M181.6 125.7h0M185.6 125.5h0M178.3 126.4h0M179.4 126.2h0M180.7 126.5h0M181.3 126.4h0M182.4 126.5h0M183.6 126.7h0M178.3 127.5h0M179.7 127.5h0M180.5 127.5h0" stroke="#1830f0"/>
<path d="M178.4 89.5h0M190.8 95.6h0M173.3 116.3h0M184.6 127.7h0M187.3 127.7h0M181.6 128.3h0" stroke="#2828f8"/>
<path d="M181.6 89.7h0M182.3 89.6h0M178.5 90.4h0M184.4 90.3h0M185.4 90.5h0M186.3 90.6h0M188.3 91.2h0M176.2 92.5h0M188.2 92.7h0M188.5 93.8h0M188.5 94.4h0M173.3 97.3h0M172.4 99.4h0M190.3 99.5h0M190.6 100.8h0M171.7 104.3h0M189.6 104.5h0M187.8 110.4h0M186.7 111.6h0M185.3 112.6h0M184.7 114.2h0M184.3 115.2h0M184.4 116.3h0M175.3 117.4h0M176.4 118.6h0M177.8 119.2h0M181.7 119.8h0M183.7 119.4h0M184.3 119.8h0M179.4 120.3h0M180.3 120.4h0M181.2 120.7h0M184.3 120.8h0M179.4 121.7h0M180.8 121.3h0M182.3 121.4h0M183.7 121.7h0M179.6 122.7h0M180.6 122.2h0M181.4 122.6h0M179.6 123.3h0M180.7 123.6h0M181.2 123.4h0M182.7 123.6h0M184.4 123.2h0M184.7 124.5h0M182.6 125.8h0" stroke="#1838f0"/>
<path d="M179.3 90.6h0M177.7 91.5h0M187.2 91.7h0M174.6 96.7h0M189.6 96.4h0M172.2 100.8h0M172.6 101.8h0M189.8 103.3h0M171.6 105.8h0M171.5 106.7h0M188.5 106.7h0M171.7 107.2h0M187.4 108.4h0M187.5 109.5h0M171.7 110.3h0M172.7 112.7h0M172.3 113.3h0M184.8 113.8h0M173.6 114.5h0M174.2 115.5h0M175.3 116.3h0M176.4 117.5h0M183.8 117.2h0M183.6 118.7h0M178.6 119.5h0M179.4 119.2h0M180.7 119.6h0M182.2 120.4h0M183.3 120.6h0M181.7 121.7h0M183.7 123.6h0M183.4 124.3h0M183.5 125.3h0" stroke="#1840f0"/>
<path d="M180.8 90.4h0M183.7 90.3h0M186.6 91.4h0M176.7 93.8h0M189.3 97.8h0M172.3 102.4h0M188.5 105.6h0M186.4 110.3h0M185.5 111.7h0M176.7 116.4h0M177.4 118.6h0M182.5 118.3h0" stroke="#1848f0"/>
<path d="M181.4 90.2h0M178.3 91.5h0M185.8 91.2h0M177.3 92.3h0M187.6 93.6h0M176.4 94.7h0M188.4 95.6h0M189.6 98.8h0M189.8 102.8h0M172.3 103.6h0M187.5 107.3h0M171.6 109.4h0M172.7 111.6h0M184.8 112.2h0M174.8 114.6h0M183.8 114.7h0M176.4 115.6h0M177.2 117.5h0M182.5 117.2h0M178.7 118.5h0M181.7 118.8h0" stroke="#1850f8"/>
<path d="M182.5 90.7h0M187.7 92.6h0M175.5 95.3h0M173.3 98.5h0M171.3 108.6h0M175.3 115.8h0M183.6 115.5h0M183.7 116.8h0" stroke="#1848f8"/>
<path d="M179.5 91.4h0M186.5 92.4h0M177.4 93.2h0M187.5 94.5h0M187.6 106.6h0M172.4 110.2h0M184.4 111.5h0M183.7 113.3h0M178.3 117.4h0M181.4 117.7h0" stroke="#2068f8"/>
<path d="M180.3 91.6h0M182.7 91.3h0M177.4 94.8h0M188.3 97.4h0M173.6 102.5h0M186.6 108.5h0M174.4 113.5h0M180.4 117.8h0" stroke="#2080f0"/>
<path d="M181.8 91.8h0M185.2 92.2h0M173.3 111.8h0M183.3 112.3h0M182.4 114.6h0M178.3 115.6h0M179.4 117.7h0" stroke="#2888f0"/>
<path d="M183.6 91.3h0M175.2 96.5h0M188.3 96.5h0M173.3 100.7h0M173.8 101.4h0M189.5 101.6h0M188.8 103.6h0M172.6 105.4h0M173.7 112.7h0M176.5 114.3h0M182.3 115.3h0M182.4 116.4h0" stroke="#2070f8"/>
<path d="M184.3 91.7h0M174.4 97.4h0M172.7 104.5h0M185.2 110.8h0M173.3 113.7h0M177.7 116.3h0M179.6 118.6h0M180.3 118.2h0" stroke="#1858f8"/>
<path d="M178.8 92.5h0M189.8 100.6h0M172.7 106.7h0M178.6 116.4h0" stroke="#2078f8"/>
<path d="M179.2 92.6h0M187.3 95.7h0M175.5 97.6h0M188.3 102.4h0M186.7 107.6h0M173.5 110.7h0M182.3 113.6h0M181.3 115.7h0" stroke="#30a8e8"/>
<path d="M180.4 92.6h0M182.7 92.6h0" stroke="#38c0d0"/>
<path d="M181.5 92.3h0M186.5 94.5h0M173.4 105.6h0" stroke="#40c0d0"/>
<path d="M183.6 92.7h0M185.4 93.7h0M178.5 94.2h0M174.7 99.8h0M187.3 104.4h0M186.7 106.5h0M174.6 111.5h0M175.8 112.8h0M178.7 114.6h0M180.3 116.6h0" stroke="#38b8d8"/>
<path d="M184.3 92.4h0M176.2 113.2h0" stroke="#28a0f0"/>
<path d="M178.3 93.7h0M186.4 93.4h0M174.4 98.2h0M173.6 103.7h0M172.4 108.5h0M185.5 109.6h0M184.6 110.3h0M183.3 111.5h0M175.6 113.4h0" stroke="#2898f0"/>
<path d="M179.3 93.3h0M186.3 105.3h0M173.5 106.2h0M185.3 108.6h0M173.5 109.6h0M182.8 110.5h0M182.4 111.7h0M182.4 112.5h0M181.6 114.8h0M180.5 115.8h0" stroke="#40c8c8"/>
<path d="M180.4 93.6h0M186.5 104.3h0M174.3 109.3h0" stroke="#58d098"/>
<path d="M181.4 93.3h0M185.2 94.3h0M177.7 112.7h0M180.6 114.2h0" stroke="#58d088"/>
<path d="M182.7 93.5h0M187.7 99.2h0M174.6 102.5h0M181.8 109.7h0M182.3 109.5h0M181.7 111.5h0" stroke="#58d090"/>
<path d="M183.7 93.5h0M179.4 94.5h0M175.6 98.7h0M175.7 111.7h0M181.3 113.2h0" stroke="#50d0a0"/>
<path d="M184.7 93.4h0M178.3 95.3h0M177.4 96.5h0M187.7 97.6h0M187.4 98.8h0M174.5 100.3h0M173.6 107.5h0M173.6 108.7h0" stroke="#48d0b0"/>
<path d="M180.6 94.5h0M176.5 98.3h0M175.4 99.8h0M174.8 105.7h0M174.8 106.5h0M175.3 109.2h0" stroke="#70d860"/>
<path d="M181.6 94.6h0M182.6 94.7h0M178.3 97.5h0M187.3 100.4h0M187.8 101.4h0M174.2 104.4h0M185.5 105.3h0M175.4 107.5h0M181.3 108.3h0M183.8 108.7h0M184.5 108.2h0M180.7 110.3h0M180.4 111.3h0" stroke="#78d858"/>
<path d="M183.5 94.6h0M184.8 94.5h0M186.8 103.2h0M185.3 106.6h0M180.5 113.6h0" stroke="#68d860"/>
<path d="M176.5 95.3h0" stroke="#2088f0"/>
<path d="M177.4 95.4h0M173.3 104.6h0" stroke="#38b0e0"/>
<path d="M179.5 95.5h0M178.7 96.6h0M174.6 107.5h0" stroke="#68d870"/>
<path d="M180.5 95.2h0M185.3 95.3h0M179.5 96.7h0" stroke="#80e050"/>
<path d="M181.2 95.2h0M182.3 95.6h0M178.5 98.2h0M186.2 99.4h0M175.2 100.2h0M175.5 101.7h0M175.6 106.5h0M176.5 107.8h0M176.6 108.5h0M176.8 109.8h0M178.2 111.4h0" stroke="#90e048"/>
<path d="M183.6 95.4h0M184.8 95.5h0M186.4 97.4h0M177.3 98.4h0M186.7 98.3h0M186.7 102.3h0M185.4 104.6h0M176.3 110.4h0M179.7 111.7h0" stroke="#88e050"/>
<path d="M186.3 95.7h0M174.7 103.4h0M185.6 107.6h0M181.2 112.6h0" stroke="#60d878"/>
<path d="M176.8 96.8h0M188.4 99.3h0" stroke="#30b0e0"/>
<path d="M180.6 96.8h0M176.6 99.7h0M184.3 104.4h0" stroke="#98e040"/>
<path d="M181.4 96.7h0M182.6 96.7h0M183.4 96.7h0M175.4 103.4h0M177.7 106.7h0M177.7 107.4h0M179.7 108.3h0M177.6 110.7h0" stroke="#a8e038"/>
<path d="M184.4 96.3h0M180.3 97.5h0M179.5 98.3h0M178.4 99.6h0M175.6 104.5h0M176.6 105.3h0M177.6 105.5h0M181.6 106.4h0M180.3 107.6h0M183.5 107.3h0" stroke="#b0e038"/>
<path d="M185.7 96.6h0M175.6 102.3h0M184.4 103.2h0M184.5 106.5h0" stroke="#a8e040"/>
<path d="M186.3 96.3h0M182.3 108.3h0" stroke="#80e058"/>
<path d="M187.4 96.5h0M188.8 101.6h0M174.2 110.7h0" stroke="#48c8c0"/>
<path d="M176.5 97.7h0" stroke="#50d0b0"/>
<path d="M177.4 97.7h0M187.8 102.6h0M176.8 111.7h0" stroke="#68d868"/>
<path d="M179.4 97.3h0M186.4 101.3h0M185.7 103.7h0M179.2 110.5h0" stroke="#98e048"/>
<path d="M181.3 97.8h0M184.3 97.6h0M180.7 98.6h0M179.6 99.3h0M182.3 104.7h0" stroke="#c0d830"/>
<path d="M182.8 97.6h0M185.8 100.7h0M184.2 102.5h0M178.2 105.7h0M179.7 105.5h0M181.3 105.5h0M182.3 105.8h0M182.4 106.6h0M178.3 108.5h0M178.4 109.3h0" stroke="#c0e030"/>
<path d="M183.5 97.4h0M176.6 100.7h0M184.6 101.4h0M183.6 103.8h0M176.2 104.4h0M177.4 104.7h0M178.4 104.3h0M179.6 104.5h0M181.6 104.6h0M180.7 105.3h0" stroke="#c8d830"/>
<path d="M185.7 97.3h0M185.4 98.8h0M185.2 99.2h0M185.4 101.5h0M185.4 102.4h0M183.5 104.3h0M183.4 105.7h0M178.5 106.4h0M179.5 106.5h0M180.6 106.8h0M183.7 106.6h0M178.5 107.6h0M179.5 107.3h0M182.2 107.4h0M177.5 109.4h0M178.5 110.6h0" stroke="#b8e030"/>
<path d="M181.7 98.7h0M182.4 98.4h0M184.7 98.4h0M180.3 99.7h0M184.5 100.4h0M176.8 103.4h0M180.8 104.4h0" stroke="#d0d830"/>
<path d="M183.2 98.4h0M184.6 99.6h0" stroke="#d8d830"/>
<path d="M188.4 98.5h0M187.2 105.5h0M172.7 107.7h0M172.2 109.3h0M177.6 114.5h0" stroke="#2890f0"/>
<path d="M173.2 99.8h0M189.5 99.8h0M188.6 104.7h0" stroke="#1860f8"/>
<path d="M177.2 99.7h0M177.4 108.3h0" stroke="#b8e038"/>
<path d="M181.6 99.4h0M182.3 99.8h0" stroke="#d8d028"/>
<path d="M183.5 99.2h0M177.8 100.2h0M178.7 100.2h0M179.3 100.6h0M183.7 100.8h0M183.5 101.3h0M176.6 102.5h0M183.7 102.6h0M177.4 103.3h0M178.7 103.7h0M182.4 103.5h0" stroke="#e0d028"/>
<path d="M180.7 100.4h0M182.7 100.2h0" stroke="#e0c828"/>
<path d="M181.6 100.6h0M179.3 103.4h0" stroke="#e0c028"/>
<path d="M186.7 100.5h0M175.5 105.2h0M184.3 105.4h0M176.2 106.4h0M181.6 107.6h0M184.6 107.6h0M179.3 109.8h0" stroke="#a0e040"/>
<path d="M188.7 100.6h0M184.2 109.8h0" stroke="#48d0b8"/>
<path d="M174.4 101.6h0M187.8 103.5h0M176.6 112.5h0" stroke="#48c8b8"/>
<path d="M176.4 101.5h0" stroke="#d8d828"/>
<path d="M177.8 101.3h0M178.6 101.3h0M179.6 101.5h0M182.7 101.3h0" stroke="#e8a020"/>
<path d="M180.7 101.7h0" stroke="#e89820"/>
<path d="M181.8 101.8h0M180.6 102.3h0" stroke="#e88020"/>
<path d="M177.5 102.3h0" stroke="#f09820"/>
<path d="M178.4 102.7h0" stroke="#e89020"/>
<path d="M179.5 102.7h0" stroke="#e88820"/>
<path d="M181.3 102.2h0" stroke="#e87020"/>
<path d="M182.6 102.3h0M181.4 103.3h0" stroke="#e8a820"/>
<path d="M180.4 103.4h0" stroke="#e8b020"/>
<path d="M174.3 108.6h0" stroke="#60d880"/>
<path d="M175.3 108.4h0M178.5 112.7h0" stroke="#70d858"/>
<path d="M180.3 108.7h0" stroke="#90e050"/>
<path d="M180.4 109.3h0M177.5 111.3h0M179.5 112.6h0M180.5 112.7h0" stroke="#80d858"/>
<path d="M183.6 109.8h0M181.2 110.3h0M178.6 113.8h0" stroke="#50d0a8"/>
<path d="M186.8 109.8h0M175.6 114.7h0M177.5 115.6h0" stroke="#2060f8"/>
<path d="M175.8 110.7h0M179.3 113.2h0" stroke="#60d870"/>
<path d="M183.3 110.6h0M179.4 116.3h0" stroke="#30b0e8"/>
<path d="M174.5 112.3h0M181.5 116.8h0" stroke="#28a8f0"/>
<path d="M177.7 113.2h0" stroke="#38b8e0"/>
<path d="M179.3 114.7h0" stroke="#50d098"/>
<path d="M179.2 115.4h0" stroke="#38b8d0"/></g>
<g fill="none" stroke-linecap="round" stroke-width="1.45"><path d="M329.4 48.3h0M284.5 53.3h0M291.7 53.4h0M324.2 54.4h0M288.5 57.4h0M302.7 57.4h0M309.7 57.5h0M286.5 58.7h0M287.7 58.7h0M316.8 59.3h0M283.3 60.7h0M287.6 60.8h0M290.4 61.8h0M295.5 61.5h0M282.3 62.7h0M283.2 62.6h0M291.5 62.3h0M293.8 62.6h0M282.5 63.8h0M284.3 63.5h0M293.8 63.5h0M281.2 64.6h0M286.3 65.4h0M290.7 65.2h0M288.4 66.4h0M290.3 67.4h0M297.4 67.8h0M298.4 67.3h0M327.4 67.4h0M292.4 68.3h0M293.6 68.8h0M292.3 69.8h0M294.8 69.4h0M298.2 69.7h0M299.8 70.6h0M285.6 71.8h0M289.3 71.7h0M325.5 71.5h0M272.8 72.7h0M280.6 72.5h0M293.3 73.8h0M294.5 73.6h0M288.3 74.3h0M291.4 74.5h0M297.6 74.3h0M281.4 76.3h0M286.6 76.4h0M287.7 76.6h0M289.4 76.7h0M297.4 76.5h0M340.6 76.5h0M285.3 77.4h0M286.6 77.2h0M288.7 77.3h0M292.5 77.6h0M293.2 77.8h0M285.5 78.3h0M288.7 78.4h0M284.4 79.2h0M286.7 79.4h0M292.3 79.5h0M286.5 80.3h0M291.4 80.8h0M292.4 80.7h0M295.5 80.6h0M284.7 81.3h0M288.3 81.3h0M291.5 81.4h0M275.7 82.3h0M288.6 82.6h0M290.7 82.7h0M291.4 82.6h0M297.5 82.4h0M271.4 83.4h0M285.4 83.8h0M288.6 83.2h0M283.3 84.5h0M288.5 84.3h0M293.5 84.2h0M285.6 85.3h0M288.3 85.5h0M299.6 85.6h0M282.6 86.3h0M284.4 86.8h0M285.7 86.5h0M287.3 86.6h0M288.6 86.5h0M290.6 86.7h0M292.3 86.5h0M302.4 86.4h0M278.5 87.5h0M284.3 87.7h0M289.4 87.4h0M290.4 87.3h0M293.8 87.3h0M295.2 87.6h0M281.3 88.5h0M284.6 88.3h0M286.5 88.6h0M289.7 88.8h0M294.3 88.8h0M295.8 88.8h0M297.7 88.2h0M280.5 89.3h0M282.6 89.5h0M284.7 89.3h0M285.6 89.6h0M289.3 89.4h0M279.5 90.4h0M281.7 90.7h0M282.3 90.5h0M290.3 90.4h0M279.7 91.6h0M294.6 91.5h0M313.4 91.4h0M278.5 92.7h0M279.8 92.4h0M295.4 92.3h0M298.4 92.2h0M278.5 93.5h0M279.5 93.7h0M296.5 93.2h0M278.6 94.8h0M295.5 94.4h0M297.6 95.4h0M333.7 95.5h0M296.8 96.7h0M298.4 96.3h0M272.6 97.3h0M276.6 97.8h0M277.7 97.3h0M278.5 97.5h0M294.8 97.7h0M296.8 97.6h0M295.4 98.7h0M296.2 98.8h0M274.4 99.4h0M275.7 99.7h0M276.3 99.4h0M275.4 100.5h0M275.8 101.4h0M297.2 101.6h0M298.6 101.3h0M296.3 102.3h0M297.5 102.8h0M298.8 102.6h0M271.7 103.8h0M272.4 103.4h0M273.2 103.8h0M275.4 103.7h0M294.8 103.4h0M297.6 103.8h0M299.5 103.6h0M273.3 104.2h0M275.4 105.4h0M276.3 105.3h0M295.3 105.7h0M296.7 105.8h0M303.3 105.5h0M308.8 105.7h0M295.4 106.4h0M272.3 107.5h0M273.4 107.3h0M274.6 107.4h0M275.6 107.6h0M294.4 107.4h0M295.7 107.7h0M296.3 107.3h0M275.7 108.5h0M292.4 108.4h0M293.7 108.3h0M295.8 108.5h0M295.2 109.6h0M297.4 109.5h0M329.4 109.7h0M274.2 110.6h0M295.7 110.6h0M294.4 111.7h0M295.4 111.8h0M274.3 112.2h0M295.3 112.6h0M273.2 113.2h0M274.5 113.4h0M293.4 113.4h0M274.4 114.2h0M294.7 114.6h0M298.2 114.8h0M273.5 115.5h0M274.8 116.7h0M276.6 116.4h0M277.2 116.4h0M293.7 116.4h0M294.3 116.6h0M273.3 117.6h0M275.6 117.4h0M294.8 117.4h0M298.3 117.4h0M299.2 117.4h0M275.5 118.6h0M276.4 118.6h0M295.7 118.5h0M276.2 119.5h0M278.8 119.6h0M280.4 119.5h0M293.6 119.7h0M295.3 119.6h0M275.6 120.7h0M278.2 120.4h0M295.7 120.3h0M277.7 121.6h0M292.4 121.5h0M297.4 121.2h0M277.4 122.6h0M278.5 122.5h0M293.5 122.6h0M295.6 122.6h0M298.6 122.5h0M299.4 122.4h0M278.8 123.6h0M280.4 123.6h0M281.4 123.6h0M292.8 123.3h0M293.6 123.5h0M298.5 123.5h0M299.5 123.8h0M278.5 124.8h0M293.8 124.8h0M294.3 124.4h0M295.5 124.4h0M294.7 125.6h0M295.6 125.4h0M298.7 125.6h0M275.4 126.8h0M279.6 126.7h0M281.6 126.6h0M282.5 126.4h0M296.4 127.4h0M297.6 127.7h0M278.5 128.6h0M281.7 128.3h0M282.8 128.6h0M289.3 128.2h0M291.2 128.5h0M292.7 128.4h0M294.2 128.4h0M296.2 128.5h0M278.2 129.7h0M279.8 129.5h0M283.6 129.5h0M287.7 129.6h0" stroke="#2828f8" stroke-opacity="0.2"/>
<path d="M293.7 72.5h0M292.6 76.7h0M288.4 79.4h0M288.3 80.6h0M287.5 84.2h0M289.3 85.4h0M285.4 87.3h0M291.5 87.5h0M288.3 88.8h0M292.3 88.7h0M283.3 89.3h0M286.7 89.7h0M287.2 89.8h0M291.4 89.5h0M292.4 90.4h0M293.2 90.5h0M280.8 91.6h0M281.7 91.5h0M292.6 91.3h0M297.7 91.5h0M280.4 93.6h0M294.5 93.7h0M276.8 94.5h0M294.4 94.3h0M280.6 95.8h0M295.4 95.6h0M277.3 96.3h0M278.4 96.5h0M295.7 96.7h0M276.8 98.6h0M296.5 99.5h0M276.5 100.5h0M276.5 101.7h0M295.4 101.6h0M275.6 102.5h0M295.8 103.5h0M296.6 103.6h0M275.6 104.7h0M294.5 104.5h0M273.6 105.7h0M273.4 106.7h0M275.5 106.4h0M276.5 106.5h0M276.4 107.5h0M275.3 109.4h0M292.5 109.2h0M293.4 110.5h0M276.5 111.5h0M273.5 112.2h0M276.8 113.8h0M291.6 113.6h0M292.6 113.7h0M275.6 114.3h0M292.6 114.5h0M295.8 114.3h0M277.6 115.4h0M291.4 115.6h0M292.7 115.4h0M275.3 116.4h0M292.2 116.4h0M296.4 116.7h0M277.3 117.6h0M279.7 117.5h0M278.7 118.4h0M291.7 118.2h0M292.4 118.3h0M293.6 118.5h0M296.8 118.7h0M297.4 119.6h0M293.4 120.7h0M294.6 120.5h0M279.5 121.5h0M290.4 121.6h0M279.6 122.4h0M281.7 122.3h0M292.8 122.5h0M294.6 122.3h0M277.4 123.3h0M294.5 123.5h0M295.3 123.3h0M296.5 123.7h0M293.5 125.7h0M283.7 126.5h0M293.7 126.6h0M295.4 126.6h0M279.2 127.7h0M280.6 127.3h0M284.4 127.8h0M285.6 127.6h0M290.6 127.4h0M291.8 127.7h0M283.3 128.4h0M293.5 128.7h0M284.6 129.2h0M286.2 129.5h0M289.5 129.5h0M290.4 129.3h0M291.7 129.4h0M293.4 129.8h0M294.6 129.5h0" stroke="#2828f8" stroke-opacity="0.4"/>
<path d="M287.7 88.4h0M291.5 88.2h0M290.8 89.6h0M291.3 90.7h0M291.6 91.2h0M292.3 92.6h0M281.7 93.3h0M279.6 94.6h0M280.4 94.7h0M296.3 94.4h0M293.4 95.3h0M294.3 98.7h0M294.6 99.5h0M274.2 102.3h0M295.7 102.8h0M276.2 104.6h0M274.5 106.6h0M294.6 106.3h0M293.2 109.4h0M293.4 111.7h0M276.3 112.7h0M292.6 112.5h0M294.5 113.4h0M277.5 114.2h0M293.6 115.5h0M279.8 116.2h0M280.2 118.6h0M281.5 118.7h0M282.3 118.6h0M279.2 119.7h0M294.5 119.6h0M279.8 120.6h0M281.3 121.8h0M282.3 121.7h0M294.7 121.3h0M282.4 122.7h0M282.6 123.7h0M279.4 124.6h0M281.2 124.4h0M292.7 124.8h0M280.6 125.3h0M282.7 125.7h0M292.2 125.2h0M280.2 126.5h0M284.5 126.8h0M281.6 127.6h0M282.2 127.7h0M283.8 127.7h0M292.7 127.7h0M293.5 127.7h0M295.8 127.4h0M284.6 128.6h0M285.7 128.7h0M281.8 129.3h0M285.5 129.5h0M292.5 129.3h0" stroke="#2828f8" stroke-opacity="0.6"/>
<path d="M278.4 100.2h0M292.4 106.4h0" stroke="#1840f0" stroke-opacity="0.6"/>
<path d="M293.3 104.3h0" stroke="#1848f0" stroke-opacity="0.6"/>
<path d="M286.6 125.4h0" stroke="#1830f0" stroke-opacity="0.6"/>
<path d="M287.3 87.5h0M288.5 89.7h0M284.7 90.7h0M285.6 90.4h0M287.5 90.4h0M288.3 90.4h0M289.4 90.3h0M282.4 91.4h0M289.3 91.7h0M290.7 91.4h0M293.6 91.5h0M281.7 92.6h0M293.4 92.7h0M294.7 92.3h0M292.2 93.5h0M293.5 94.2h0M279.6 95.7h0M279.3 96.2h0M294.8 96.3h0M295.7 97.7h0M278.2 98.6h0M277.4 99.8h0M277.2 100.5h0M294.4 100.6h0M295.4 100.6h0M294.5 101.3h0M276.4 102.6h0M294.2 102.5h0M276.7 103.6h0M294.2 105.6h0M293.4 106.3h0M276.6 109.5h0M276.4 110.4h0M291.6 110.6h0M292.2 110.3h0M294.5 110.3h0M277.4 111.5h0M291.5 111.7h0M292.3 111.3h0M277.2 112.3h0M291.6 112.2h0M293.7 112.5h0M275.2 113.5h0M277.5 113.2h0M276.3 114.2h0M293.3 114.4h0M278.2 115.3h0M278.7 116.3h0M291.6 116.4h0M278.6 117.3h0M280.6 117.3h0M291.4 117.4h0M292.2 117.7h0M293.7 117.2h0M279.6 118.3h0M281.4 119.4h0M282.4 119.8h0M291.2 119.7h0M292.8 119.4h0M280.3 120.5h0M281.3 120.2h0M282.6 120.5h0M290.7 120.4h0M291.6 120.7h0M292.3 120.6h0M280.4 121.5h0M291.8 121.4h0M280.4 122.5h0M290.4 122.6h0M291.5 122.6h0M291.3 123.4h0M279.8 125.6h0M281.5 125.6h0M291.3 126.6h0M292.3 126.3h0M286.8 128.5h0M287.6 128.5h0M288.4 128.7h0M288.6 129.3h0" stroke="#2828f8" stroke-opacity="0.8"/>
<path d="M282.5 93.5h0" stroke="#1830f0" stroke-opacity="0.8"/>
<path d="M281.5 94.8h0M282.5 117.2h0M283.4 118.4h0M283.5 121.5h0M283.7 122.3h0M291.2 124.4h0M291.6 125.7h0M285.7 126.4h0M286.4 127.4h0" stroke="#1828f0" stroke-opacity="0.8"/>
<path d="M286.5 90.3h0M293.5 107.7h0" stroke="#2828f8"/>
<path d="M284.8 91.3h0M285.7 91.5h0M290.6 92.3h0M291.3 93.5h0M281.6 95.2h0M280.3 96.7h0M293.8 96.7h0M279.5 98.4h0M277.3 103.3h0M293.6 105.8h0M277.6 107.6h0M292.5 107.3h0M291.5 109.5h0M290.4 110.5h0M278.7 111.4h0M278.8 112.8h0M290.4 112.7h0M278.2 113.2h0M279.5 115.5h0M290.8 115.3h0M281.7 116.7h0M283.7 117.8h0M290.6 117.6h0M290.5 118.7h0M284.5 120.7h0M289.6 121.6h0M289.4 122.2h0M290.6 123.3h0M284.4 124.3h0M285.4 124.2h0M290.4 124.7h0M285.3 125.7h0M289.6 125.5h0M290.3 125.6h0M287.5 126.7h0M288.7 126.3h0" stroke="#1830f0"/>
<path d="M286.3 91.6h0M287.3 91.3h0M288.7 91.6h0M292.8 94.7h0M279.7 97.6h0M278.3 99.3h0M277.4 101.5h0M277.3 102.7h0M277.6 108.3h0M277.7 109.7h0M277.8 110.7h0M290.7 111.3h0M278.5 114.3h0M291.5 114.4h0M280.3 116.8h0M290.8 116.4h0M281.3 117.4h0M283.7 119.5h0M290.4 119.6h0M283.8 120.6h0M283.5 123.7h0M283.4 124.2h0M283.6 125.7h0M284.2 125.4h0M286.6 126.2h0M289.5 126.5h0M290.3 126.4h0M287.7 127.6h0M288.6 127.6h0M289.3 127.5h0" stroke="#1828f0"/>
<path d="M283.7 92.7h0M282.8 94.4h0M292.5 95.7h0M280.5 97.6h0M293.4 97.7h0M277.5 104.4h0M277.8 106.3h0M278.3 110.2h0M290.6 113.7h0M290.6 114.5h0M280.6 115.7h0M289.8 115.6h0M282.6 116.6h0M289.6 116.7h0M284.3 117.6h0M289.3 117.4h0M284.4 118.2h0M284.6 119.3h0M289.3 120.3h0M284.4 121.6h0M284.6 122.3h0M288.4 122.8h0M284.3 123.3h0M288.2 123.8h0M289.7 123.3h0M286.7 124.3h0M287.2 124.4h0M288.4 124.2h0M287.3 125.7h0M288.8 125.4h0" stroke="#1838f0"/>
<path d="M284.3 92.8h0M285.7 92.2h0M286.2 92.4h0M287.4 92.5h0M288.7 92.8h0M289.6 92.5h0M283.4 93.3h0M291.5 94.3h0M281.8 96.7h0M293.6 98.6h0M293.5 99.8h0M277.4 105.3h0M278.4 109.7h0M279.5 114.6h0M283.6 116.3h0M289.5 118.4h0M289.4 119.6h0M285.3 120.3h0M288.4 121.2h0M285.6 122.3h0M287.8 122.7h0M285.2 123.6h0M286.5 123.4h0M287.5 123.7h0" stroke="#1840f0"/>
<path d="M284.5 93.6h0M282.7 95.5h0M279.6 99.6h0M278.7 108.3h0M291.2 108.5h0M289.4 111.3h0M279.3 112.2h0M289.6 112.4h0M279.2 113.5h0M289.7 114.3h0M281.6 115.7h0M288.3 115.2h0M284.8 116.3h0M288.6 116.3h0M285.4 117.6h0M288.5 117.8h0M285.5 118.8h0M285.4 119.8h0M288.4 120.4h0M285.4 121.5h0M286.6 121.3h0M286.2 122.7h0" stroke="#1848f0"/>
<path d="M285.5 93.5h0M283.4 94.4h0M292.8 96.5h0M281.7 97.6h0M280.6 98.6h0M293.6 100.6h0M278.8 101.4h0M293.3 101.8h0M278.6 102.6h0M290.8 109.7h0M289.6 110.7h0M279.7 111.6h0M280.6 114.6h0M287.5 114.4h0M285.3 115.7h0M286.4 115.2h0M287.6 115.5h0M286.4 116.7h0M287.4 116.6h0M286.6 117.2h0M287.8 117.7h0M286.5 118.8h0M287.2 118.6h0M288.4 118.3h0M287.3 119.8h0M287.2 120.7h0" stroke="#1850f8"/>
<path d="M286.6 93.7h0M293.8 102.6h0M278.8 103.5h0M286.5 114.6h0M283.3 115.7h0" stroke="#2060f8"/>
<path d="M287.3 93.3h0M289.3 93.4h0M283.7 95.4h0M290.4 95.5h0M292.7 98.6h0M280.3 99.7h0M279.3 100.2h0M280.8 112.4h0M280.3 113.6h0M281.8 114.4h0M285.6 114.8h0" stroke="#2078f8"/>
<path d="M288.4 93.5h0M292.4 99.7h0M278.4 104.3h0M286.5 113.4h0" stroke="#2080f0"/>
<path d="M290.7 93.6h0M289.7 113.5h0M288.5 114.6h0M285.6 116.7h0M286.4 119.3h0M288.4 119.6h0M286.3 120.8h0M287.6 121.8h0" stroke="#1848f8"/>
<path d="M284.4 94.7h0M292.4 97.6h0M279.3 110.5h0M287.4 113.4h0" stroke="#2068f8"/>
<path d="M285.5 94.4h0M281.7 98.6h0M279.7 109.3h0M288.6 111.4h0" stroke="#2888f0"/>
<path d="M286.8 94.5h0M292.6 104.3h0M279.5 108.3h0M290.6 108.5h0M280.5 111.3h0M285.6 113.7h0M284.4 114.5h0" stroke="#2898f0"/>
<path d="M287.3 94.6h0M288.3 94.7h0M289.5 95.7h0M279.7 101.3h0M292.4 103.6h0M288.3 110.2h0" stroke="#30a8e8"/>
<path d="M289.7 94.4h0M278.6 105.7h0M291.7 106.4h0M289.6 109.8h0M287.6 112.7h0" stroke="#2890f0"/>
<path d="M290.7 94.5h0M291.2 95.6h0M293.4 103.3h0M292.5 105.5h0M278.8 107.8h0M288.5 113.7h0M282.5 115.4h0M284.4 115.8h0" stroke="#1858f8"/>
<path d="M284.7 95.6h0M290.7 96.7h0M279.3 107.6h0M280.5 110.5h0M286.4 112.2h0" stroke="#30b0e0"/>
<path d="M285.7 95.5h0M291.7 103.7h0M285.7 112.6h0" stroke="#40c8c8"/>
<path d="M286.4 95.3h0M287.5 95.6h0M281.8 111.7h0" stroke="#48c8c0"/>
<path d="M288.7 95.3h0" stroke="#38c0d0"/>
<path d="M282.5 96.8h0M278.2 106.5h0M291.3 107.5h0M288.6 112.3h0" stroke="#2070f8"/>
<path d="M283.7 96.5h0M291.4 97.7h0M292.2 102.8h0M287.4 111.5h0M281.5 112.6h0M281.3 113.3h0" stroke="#38b8d8"/>
<path d="M284.2 96.5h0M288.4 96.7h0M290.3 97.4h0M291.4 100.3h0M285.3 111.6h0" stroke="#60d880"/>
<path d="M285.5 96.4h0M282.5 99.6h0M290.5 101.8h0M289.4 104.6h0M288.2 108.8h0M282.8 110.8h0M286.7 110.8h0M283.4 111.5h0M284.8 111.5h0" stroke="#70d860"/>
<path d="M286.2 96.4h0M281.7 100.4h0M289.8 102.7h0M281.5 109.7h0" stroke="#78d858"/>
<path d="M287.7 96.4h0M280.5 107.4h0" stroke="#70d858"/>
<path d="M289.2 96.5h0M282.5 98.4h0" stroke="#48d0b0"/>
<path d="M291.6 96.6h0" stroke="#2088f0"/>
<path d="M282.2 97.7h0M292.3 100.7h0M292.3 101.6h0M282.5 114.5h0M283.5 114.4h0" stroke="#28a0f0"/>
<path d="M283.2 97.3h0" stroke="#50d098"/>
<path d="M284.6 97.2h0M290.3 98.5h0M288.3 103.7h0M289.7 105.6h0M280.8 106.6h0M286.6 108.5h0M285.4 109.6h0M283.6 110.4h0" stroke="#88e050"/>
<path d="M285.7 97.3h0M284.5 98.8h0M287.4 104.5h0M288.5 105.5h0M281.2 106.3h0M286.5 106.5h0M287.6 106.8h0M288.7 106.7h0M283.3 107.5h0" stroke="#b8e030"/>
<path d="M286.6 97.6h0M287.3 97.5h0M283.7 100.7h0M282.4 101.5h0M281.7 102.8h0M287.5 102.5h0M287.6 105.4h0" stroke="#c8d830"/>
<path d="M288.5 97.4h0M281.3 107.5h0M284.6 107.2h0" stroke="#b0e038"/>
<path d="M289.7 97.4h0M290.5 99.5h0M280.4 103.2h0M282.4 109.7h0" stroke="#90e048"/>
<path d="M283.8 98.6h0M287.8 108.5h0" stroke="#80e058"/>
<path d="M285.7 98.6h0M282.6 102.3h0M282.6 105.6h0" stroke="#e8b828"/>
<path d="M286.7 98.6h0M287.5 98.5h0M285.6 99.5h0M286.3 99.7h0M287.8 99.3h0M288.5 99.5h0M285.8 100.6h0M286.4 100.8h0M287.6 100.3h0M286.3 101.7h0" stroke="#e86018"/>
<path d="M288.7 98.2h0M285.3 103.2h0" stroke="#e89020"/>
<path d="M289.5 98.6h0M281.4 104.3h0" stroke="#d8d830"/>
<path d="M291.4 98.6h0M291.4 101.5h0M290.7 103.4h0M290.7 107.2h0M280.7 109.5h0M282.3 112.6h0" stroke="#50d0a8"/>
<path d="M281.6 99.4h0M280.2 100.3h0M279.7 102.8h0M283.5 113.3h0" stroke="#40c0d0"/>
<path d="M283.3 99.5h0M281.3 101.6h0M289.2 101.3h0M288.2 102.5h0M286.7 107.6h0M287.6 107.8h0M282.8 108.5h0M283.7 108.7h0M284.4 108.4h0" stroke="#a0e040"/>
<path d="M284.3 99.5h0M288.6 101.4h0M281.4 103.2h0M281.6 105.3h0M282.3 106.6h0M283.3 106.7h0" stroke="#d0d830"/>
<path d="M289.3 99.6h0M284.3 100.6h0M283.2 101.4h0M286.5 104.8h0M286.5 105.5h0" stroke="#e0d028"/>
<path d="M291.4 99.4h0M279.3 104.7h0M289.6 108.4h0M281.4 110.4h0M287.3 110.7h0M284.4 112.7h0" stroke="#50d0a0"/>
<path d="M282.6 100.7h0M285.5 107.7h0" stroke="#a8e038"/>
<path d="M288.2 100.6h0M285.8 101.6h0M284.8 103.6h0" stroke="#e87820"/>
<path d="M289.7 100.4h0" stroke="#d8d828"/>
<path d="M290.6 100.6h0M280.5 104.4h0M288.2 104.5h0M289.2 106.4h0M288.8 107.5h0M285.4 108.2h0M283.5 109.7h0M284.6 109.6h0M284.6 110.5h0" stroke="#98e048"/>
<path d="M280.3 101.2h0M290.5 106.3h0M282.6 111.8h0" stroke="#60d878"/>
<path d="M284.8 101.4h0M286.5 102.4h0M285.6 104.2h0" stroke="#e8c028"/>
<path d="M287.2 101.5h0M283.2 103.2h0" stroke="#e88820"/>
<path d="M280.8 102.7h0M289.4 107.4h0M285.3 110.4h0" stroke="#80e050"/>
<path d="M283.2 102.8h0M285.3 102.3h0M282.7 104.7h0M283.5 104.3h0M284.5 104.2h0" stroke="#e8a020"/>
<path d="M284.6 102.6h0" stroke="#e8a820"/>
<path d="M290.5 102.7h0M289.6 103.5h0M287.7 109.5h0" stroke="#60d870"/>
<path d="M291.3 102.3h0M290.4 104.8h0M279.6 105.6h0M283.3 112.5h0" stroke="#58d090"/>
<path d="M279.3 103.4h0" stroke="#48c8b8"/>
<path d="M282.4 103.7h0" stroke="#e89820"/>
<path d="M286.8 103.3h0" stroke="#e8b020"/>
<path d="M287.4 103.7h0M285.8 106.4h0M282.6 107.5h0" stroke="#c0e030"/>
<path d="M291.5 104.8h0" stroke="#40c0c8"/>
<path d="M280.3 105.4h0" stroke="#98e040"/>
<path d="M283.5 105.2h0" stroke="#e0c028"/>
<path d="M284.7 105.5h0" stroke="#e0c828"/>
<path d="M285.5 105.6h0" stroke="#d8d028"/>
<path d="M290.6 105.5h0" stroke="#58d888"/>
<path d="M291.3 105.2h0" stroke="#30a8f0"/>
<path d="M279.3 106.3h0M288.3 109.2h0M282.3 113.6h0" stroke="#40c8c0"/>
<path d="M284.5 106.6h0" stroke="#c0d830"/>
<path d="M280.3 108.5h0" stroke="#60d888"/>
<path d="M281.4 108.3h0" stroke="#90e050"/>
<path d="M286.5 109.5h0" stroke="#80d858"/>
<path d="M286.2 111.4h0" stroke="#50d0b0"/>
<path d="M284.8 113.8h0" stroke="#30b0e8"/></g>
<g fill="none" stroke-linecap="round" stroke-width="1.45"><path d="M383.5 51.8h0M391.3 55.7h0M390.3 56.6h0M395.7 56.3h0M382.2 58.5h0M384.6 58.5h0M400.4 59.7h0M409.7 59.8h0M376.3 61.3h0M395.6 62.5h0M392.6 63.5h0M385.7 65.7h0M388.6 65.7h0M387.6 68.4h0M389.6 69.3h0M388.2 70.5h0M383.7 71.7h0M383.5 72.8h0M383.6 73.6h0M391.2 73.6h0M382.4 74.6h0M391.5 74.7h0M393.8 74.7h0M414.3 74.2h0M384.5 75.4h0M383.7 76.4h0M388.4 76.3h0M393.3 76.5h0M418.4 76.5h0M380.2 77.4h0M391.7 77.7h0M379.8 78.7h0M390.7 78.5h0M392.6 78.6h0M434.6 78.8h0M381.4 80.6h0M383.5 80.4h0M392.4 80.7h0M384.7 82.3h0M389.8 82.4h0M377.2 83.3h0M382.3 83.8h0M384.5 83.4h0M386.7 83.4h0M389.7 83.7h0M405.3 83.6h0M434.6 83.3h0M380.8 84.3h0M386.2 84.2h0M388.4 84.5h0M393.3 84.3h0M394.3 84.4h0M373.4 85.6h0M379.5 85.8h0M380.7 85.2h0M386.6 85.4h0M387.3 85.5h0M383.4 86.7h0M384.5 86.4h0M385.5 86.6h0M388.6 86.5h0M389.3 86.4h0M380.3 87.2h0M384.3 87.3h0M386.5 87.4h0M387.3 87.5h0M393.7 87.7h0M379.7 88.5h0M382.3 88.3h0M390.4 88.3h0M394.4 88.7h0M436.3 88.7h0M380.8 89.3h0M383.4 89.2h0M384.6 89.7h0M386.4 89.8h0M388.5 89.3h0M391.8 89.4h0M392.6 89.6h0M393.2 89.7h0M379.2 90.7h0M380.3 90.4h0M381.7 90.8h0M387.7 90.3h0M391.6 90.6h0M394.5 90.2h0M377.2 91.4h0M390.6 91.3h0M392.6 91.4h0M382.2 92.8h0M392.2 92.5h0M366.6 93.5h0M377.4 93.6h0M379.2 93.7h0M391.6 93.7h0M394.4 93.6h0M395.6 93.7h0M375.7 94.7h0M379.8 94.5h0M392.7 94.5h0M394.6 94.4h0M395.6 94.3h0M396.3 94.4h0M374.2 95.8h0M393.2 95.6h0M394.2 95.7h0M376.2 96.4h0M393.7 96.5h0M374.2 98.3h0M375.8 98.3h0M393.2 98.5h0M394.4 98.5h0M395.6 98.4h0M396.3 98.5h0M402.2 98.6h0M373.8 100.3h0M374.7 100.7h0M394.4 100.4h0M395.7 100.7h0M404.5 100.2h0M365.6 101.6h0M371.5 101.6h0M373.7 101.4h0M394.4 101.5h0M396.2 101.3h0M374.7 102.3h0M375.2 102.6h0M372.4 103.8h0M395.3 103.5h0M372.5 104.8h0M394.4 104.7h0M395.8 104.6h0M396.2 105.4h0M394.8 106.2h0M394.8 107.3h0M396.8 107.8h0M372.2 108.7h0M374.5 108.5h0M393.7 108.5h0M394.8 108.2h0M374.4 109.4h0M425.7 109.5h0M372.6 110.6h0M374.3 110.5h0M396.8 110.2h0M397.7 110.5h0M371.7 111.6h0M372.5 111.8h0M373.7 111.6h0M392.7 111.8h0M394.3 111.5h0M372.6 112.2h0M373.5 112.4h0M397.6 112.3h0M391.5 113.5h0M393.3 113.3h0M395.5 113.6h0M396.3 113.5h0M374.7 114.3h0M391.8 114.4h0M397.3 114.2h0M370.4 115.7h0M374.3 115.6h0M392.2 115.8h0M394.5 115.2h0M395.3 115.3h0M397.7 115.4h0M372.2 116.8h0M375.4 116.4h0M377.6 116.8h0M375.8 117.4h0M377.8 117.3h0M394.8 117.5h0M377.6 118.3h0M394.3 118.6h0M377.3 119.6h0M391.7 119.6h0M422.4 119.5h0M374.3 120.7h0M393.7 120.3h0M395.8 120.3h0M374.4 121.6h0M375.5 121.3h0M376.6 121.5h0M380.7 121.3h0M391.2 121.5h0M375.5 122.6h0M376.5 122.3h0M377.3 122.3h0M378.5 122.3h0M390.5 122.3h0M391.2 122.8h0M398.4 122.7h0M377.7 123.3h0M378.6 123.6h0M379.6 123.4h0M382.2 123.3h0M395.5 123.6h0M397.5 123.6h0M398.3 123.2h0M399.7 123.7h0M380.5 124.6h0M391.8 124.6h0M392.6 124.7h0M393.4 124.4h0M395.3 124.4h0M375.2 125.4h0M376.3 125.2h0M378.6 125.6h0M379.4 125.5h0M380.5 125.6h0M392.4 125.7h0M395.5 125.6h0M397.7 125.3h0M398.3 125.4h0M374.7 126.4h0M378.6 126.3h0M378.5 127.7h0M393.6 127.8h0M376.8 128.6h0M380.6 128.4h0M384.6 128.3h0M394.5 128.7h0M374.5 129.4h0M381.4 129.3h0M385.4 129.3h0M387.5 129.4h0M393.2 129.2h0M397.6 129.5h0M376.3 130.6h0M377.7 130.5h0M381.2 130.5h0M388.6 130.7h0M392.2 130.4h0" stroke="#2828f8" stroke-opacity="0.2"/>
<path d="M394.4 72.4h0M389.7 73.5h0M382.4 75.5h0M389.3 76.6h0M388.3 77.5h0M386.2 79.5h0M387.3 86.3h0M385.7 87.3h0M388.3 87.3h0M390.3 87.7h0M386.6 88.8h0M387.3 88.3h0M391.2 88.3h0M385.2 89.7h0M389.5 89.8h0M390.6 89.8h0M386.2 90.7h0M379.6 91.7h0M381.6 91.5h0M382.5 91.5h0M380.3 92.2h0M391.6 92.5h0M394.6 92.7h0M393.8 93.3h0M378.4 94.3h0M380.3 94.4h0M393.6 94.7h0M377.3 96.5h0M374.3 97.5h0M376.7 97.4h0M394.4 97.7h0M376.4 98.6h0M377.3 98.8h0M393.4 99.7h0M394.5 99.7h0M374.8 101.2h0M395.7 102.5h0M373.6 105.4h0M393.5 105.4h0M374.7 106.7h0M373.8 107.5h0M373.5 108.4h0M375.6 108.7h0M393.5 110.3h0M392.4 112.6h0M393.7 112.3h0M374.4 113.3h0M390.6 113.7h0M376.4 114.8h0M392.5 114.4h0M394.6 114.3h0M376.7 116.5h0M391.7 116.3h0M392.4 116.3h0M393.3 116.2h0M394.3 116.3h0M393.8 117.8h0M379.3 118.5h0M376.2 119.5h0M394.7 119.8h0M395.5 119.5h0M394.4 120.7h0M379.4 121.7h0M392.5 121.4h0M393.5 121.2h0M395.8 121.4h0M380.3 122.3h0M392.3 122.4h0M393.3 122.6h0M395.6 122.7h0M381.5 123.6h0M392.3 123.7h0M394.8 123.4h0M379.3 124.3h0M394.6 124.5h0M396.7 124.3h0M393.4 125.3h0M394.3 125.6h0M376.3 126.6h0M379.4 126.5h0M380.6 126.3h0M392.6 126.2h0M379.5 127.8h0M382.6 127.5h0M389.3 127.3h0M379.7 128.5h0M381.2 128.7h0M382.5 128.3h0M390.6 128.7h0M391.7 128.3h0M392.3 128.5h0M378.6 129.5h0M388.8 129.7h0M390.7 129.3h0M379.6 130.5h0M383.6 130.5h0M384.3 130.7h0" stroke="#2828f8" stroke-opacity="0.4"/>
<path d="M385.7 88.2h0M387.6 89.7h0M380.7 91.5h0M387.4 91.7h0M388.6 91.6h0M393.3 92.3h0M377.6 95.5h0M392.3 95.5h0M378.4 96.4h0M375.3 101.7h0M374.7 103.3h0M374.2 104.4h0M394.3 105.5h0M375.5 106.2h0M393.7 106.5h0M375.4 107.7h0M395.4 107.4h0M392.4 108.4h0M392.6 109.3h0M393.2 111.7h0M375.4 113.8h0M390.2 116.4h0M398.7 116.2h0M376.6 117.6h0M378.8 117.5h0M379.7 117.4h0M391.3 117.3h0M393.5 118.2h0M378.7 120.4h0M380.7 120.3h0M391.7 120.6h0M378.7 121.8h0M379.7 122.5h0M381.5 122.4h0M390.5 123.4h0M382.7 124.3h0M389.4 125.5h0M391.4 125.7h0M381.6 126.3h0M383.4 126.3h0M395.5 126.5h0M383.3 127.5h0M384.4 127.6h0M385.3 127.7h0M388.6 127.6h0M382.3 129.7h0M384.5 129.8h0M386.6 129.4h0M389.3 129.5h0M391.7 129.7h0M386.2 130.3h0M389.2 130.6h0M390.3 130.3h0M393.5 130.7h0" stroke="#2828f8" stroke-opacity="0.6"/>
<path d="M390.7 93.6h0" stroke="#1828f0" stroke-opacity="0.6"/>
<path d="M380.6 118.5h0M390.4 118.3h0" stroke="#1830f0" stroke-opacity="0.6"/>
<path d="M384.7 120.6h0" stroke="#1848f0" stroke-opacity="0.6"/>
<path d="M388.5 88.8h0M389.6 88.6h0M385.8 90.4h0M388.8 90.5h0M389.4 90.8h0M383.2 91.5h0M386.5 91.2h0M391.8 91.6h0M379.5 92.3h0M390.7 92.5h0M380.7 93.2h0M381.3 93.8h0M391.3 94.8h0M378.5 95.7h0M379.5 95.7h0M392.8 96.6h0M377.7 97.5h0M378.6 97.7h0M393.8 97.4h0M375.7 99.7h0M376.5 99.3h0M377.4 99.2h0M375.8 100.7h0M376.2 100.4h0M393.6 100.4h0M376.5 101.7h0M393.6 101.5h0M376.5 102.8h0M393.4 102.4h0M375.6 103.3h0M376.5 103.8h0M375.5 104.3h0M393.4 104.8h0M375.2 105.4h0M392.8 105.4h0M392.5 106.4h0M374.5 107.7h0M392.3 107.6h0M392.5 110.5h0M375.4 111.2h0M391.7 111.3h0M375.3 112.3h0M376.5 112.5h0M391.4 112.2h0M376.7 113.5h0M377.4 113.4h0M375.3 114.5h0M375.4 115.2h0M376.5 115.8h0M377.3 115.4h0M390.7 115.6h0M391.4 115.4h0M378.5 116.6h0M392.3 117.7h0M375.4 118.2h0M378.6 118.2h0M378.2 119.4h0M379.2 119.7h0M380.7 119.6h0M379.7 120.3h0M381.2 120.4h0M381.7 121.4h0M390.4 121.7h0M382.7 122.3h0M389.3 122.7h0M380.5 123.8h0M389.7 123.2h0M391.6 123.8h0M381.6 124.4h0M383.4 124.4h0M389.8 124.2h0M390.4 124.4h0M381.3 125.6h0M382.8 125.4h0M383.5 125.4h0M390.4 125.6h0M384.2 126.4h0M389.5 126.2h0M390.3 126.5h0M391.4 126.5h0M393.5 126.7h0M394.4 126.5h0M386.8 127.3h0M390.7 127.7h0M391.3 127.8h0M385.5 128.6h0M386.5 128.2h0M387.7 128.7h0M388.2 128.4h0M389.4 128.8h0" stroke="#2828f8" stroke-opacity="0.8"/>
<path d="M384.8 91.2h0M390.4 112.2h0M378.5 115.5h0" stroke="#1828f0" stroke-opacity="0.8"/>
<path d="M384.2 92.3h0M376.3 108.4h0M385.3 124.5h0" stroke="#1838f0" stroke-opacity="0.8"/>
<path d="M386.8 118.6h0" stroke="#1850f8" stroke-opacity="0.8"/>
<path d="M390.6 119.5h0" stroke="#1830f0" stroke-opacity="0.8"/>
<path d="M385.8 91.6h0M382.3 93.4h0M381.3 94.3h0M391.3 95.2h0M392.6 97.7h0M377.8 100.3h0M376.3 104.4h0M376.4 105.6h0M391.4 110.8h0M376.8 111.4h0M389.6 115.5h0M390.3 117.2h0M381.8 119.2h0M382.3 120.8h0M390.5 120.2h0M389.7 121.6h0M383.7 122.4h0M388.7 122.5h0M383.7 123.6h0M388.6 123.5h0M388.3 124.7h0M384.4 125.7h0M388.4 125.5h0M385.2 126.5h0M388.8 126.6h0M387.3 127.6h0" stroke="#1828f0"/>
<path d="M383.4 92.2h0M386.3 92.6h0M387.6 92.5h0M389.6 92.4h0M379.4 96.6h0M378.4 98.5h0M392.8 98.7h0M377.5 101.8h0M392.5 103.5h0M392.7 104.2h0M376.3 106.4h0M376.8 107.6h0M391.3 109.6h0M390.3 111.7h0M377.8 112.5h0M389.7 113.4h0M378.3 114.6h0M389.3 114.8h0M379.3 116.8h0M389.3 116.3h0M389.4 117.3h0M382.2 119.8h0M389.5 120.4h0M383.6 121.4h0M387.8 121.8h0M388.6 121.4h0M387.5 122.7h0M387.4 123.4h0M384.4 124.7h0M385.3 125.6h0M387.3 126.8h0" stroke="#1830f0"/>
<path d="M385.7 92.4h0M388.5 92.5h0M382.5 94.4h0M380.2 95.8h0M391.7 96.8h0M392.5 99.4h0M392.8 100.2h0M392.8 101.2h0M377.3 102.5h0M392.4 102.3h0M391.3 108.7h0M376.2 110.5h0M390.3 110.6h0M389.7 112.7h0M378.6 113.3h0M379.5 115.4h0M381.6 118.5h0M389.4 118.5h0M383.5 119.4h0M389.7 119.6h0M383.2 120.4h0M387.6 120.6h0M388.4 120.5h0M386.5 122.5h0M384.7 123.2h0M386.5 123.7h0M387.7 124.4h0M386.6 125.7h0M387.7 125.3h0" stroke="#1838f0"/>
<path d="M383.6 93.7h0M390.4 94.7h0M379.3 97.6h0M391.3 97.4h0M377.6 103.6h0M391.8 106.4h0M391.7 107.6h0M376.4 109.3h0M377.4 111.8h0M379.3 114.3h0M388.8 114.6h0M388.4 115.2h0M388.7 116.7h0M380.5 117.3h0M388.3 117.5h0M382.7 118.3h0M388.3 118.5h0M387.4 119.5h0M388.3 119.4h0M386.3 120.7h0M384.5 121.8h0M386.6 121.3h0M384.8 122.4h0M385.5 122.7h0M385.2 123.4h0M386.8 124.6h0" stroke="#1840f0"/>
<path d="M384.2 93.8h0M385.5 93.7h0M387.8 93.5h0M388.2 93.4h0M383.3 94.4h0M390.3 95.4h0M380.8 96.6h0M391.3 98.6h0M391.6 104.4h0M377.4 105.4h0M377.3 106.7h0M377.3 107.2h0M377.5 110.3h0M387.5 114.4h0M387.5 115.5h0M380.5 116.4h0M387.6 116.6h0M385.5 118.7h0" stroke="#1850f8"/>
<path d="M386.4 93.5h0M388.6 113.5h0M387.8 117.4h0M385.3 119.7h0" stroke="#1848f8"/>
<path d="M389.6 93.6h0M381.5 95.2h0M378.4 99.3h0M377.6 104.8h0M391.4 105.5h0M390.7 109.6h0M389.4 111.3h0M378.5 112.3h0M379.6 113.4h0M383.3 118.7h0M384.4 118.6h0M387.4 118.7h0M384.4 119.5h0M386.5 119.4h0M385.6 120.4h0M385.7 121.5h0" stroke="#1848f0"/>
<path d="M384.6 94.6h0M390.4 97.7h0M379.6 98.7h0M391.4 99.7h0M391.6 100.5h0M378.7 111.3h0M380.6 114.2h0M383.6 117.5h0M384.2 117.6h0" stroke="#2068f8"/>
<path d="M385.4 94.5h0M386.4 94.5h0M383.5 95.2h0M380.6 97.5h0M378.3 103.6h0" stroke="#2888f0"/>
<path d="M387.4 94.4h0M388.3 94.7h0M390.2 101.2h0M390.4 103.4h0M390.5 105.3h0M378.5 108.6h0M388.5 110.4h0M379.3 111.6h0M381.5 112.4h0M385.7 115.8h0" stroke="#28a0f0"/>
<path d="M389.7 94.3h0M381.4 96.8h0M388.3 111.2h0M387.7 112.6h0" stroke="#2080f0"/>
<path d="M382.8 95.7h0M390.2 96.3h0M378.6 100.5h0M391.6 102.6h0M391.8 103.6h0M377.3 108.7h0M390.7 108.4h0M389.3 110.7h0M379.5 112.4h0M388.3 112.3h0M387.4 113.6h0M381.3 117.7h0M386.4 117.7h0" stroke="#1858f8"/>
<path d="M384.7 95.5h0M389.7 95.4h0M382.4 96.4h0M378.6 104.4h0M378.8 109.6h0M381.8 115.5h0M384.8 116.4h0" stroke="#30a8e8"/>
<path d="M385.8 95.5h0M389.7 99.7h0" stroke="#48c8c0"/>
<path d="M386.7 95.6h0M388.3 95.7h0M381.2 111.8h0M382.3 112.3h0M383.4 113.3h0M384.4 114.5h0" stroke="#48c8b8"/>
<path d="M387.6 95.5h0M388.5 102.5h0M389.4 105.4h0" stroke="#58d098"/>
<path d="M383.8 96.6h0M383.6 114.7h0" stroke="#48d0b8"/>
<path d="M384.6 96.2h0M388.8 101.5h0M379.2 106.5h0" stroke="#58d090"/>
<path d="M385.8 96.4h0M388.6 106.8h0M387.6 107.8h0M380.4 108.5h0M380.3 109.3h0" stroke="#70d860"/>
<path d="M386.2 96.5h0" stroke="#70d858"/>
<path d="M387.6 96.3h0M386.4 108.5h0M382.5 110.8h0" stroke="#80e050"/>
<path d="M388.4 96.8h0M380.3 99.3h0M386.6 111.7h0" stroke="#60d880"/>
<path d="M389.6 96.6h0M379.8 100.6h0M379.7 101.4h0M380.7 111.3h0M382.3 116.4h0M383.3 116.4h0" stroke="#38b8d8"/>
<path d="M381.5 97.3h0M380.3 98.5h0M389.3 100.7h0M389.3 101.7h0M379.2 102.8h0M388.2 108.2h0M382.5 114.6h0" stroke="#40c8c8"/>
<path d="M382.5 97.2h0M388.5 98.6h0M380.6 100.7h0M388.5 103.3h0M387.3 108.4h0" stroke="#68d868"/>
<path d="M383.7 97.4h0M387.6 97.3h0M387.5 99.4h0M387.3 103.8h0M386.4 107.3h0M384.6 109.7h0" stroke="#90e048"/>
<path d="M384.3 97.4h0M386.7 100.2h0M381.3 101.3h0M386.2 102.3h0M380.3 104.5h0M380.3 105.5h0M384.5 108.5h0M385.4 108.4h0M384.5 111.7h0" stroke="#a0e040"/>
<path d="M385.2 97.6h0M386.6 103.8h0" stroke="#a8e038"/>
<path d="M386.3 97.6h0M387.5 106.3h0M381.7 108.5h0M383.3 109.5h0M385.7 110.4h0" stroke="#98e048"/>
<path d="M388.6 97.5h0M388.6 99.4h0M380.3 101.6h0M379.4 104.7h0M381.7 110.5h0" stroke="#68d870"/>
<path d="M389.2 97.4h0M379.8 110.3h0M386.3 112.6h0" stroke="#38c0d0"/>
<path d="M381.3 98.2h0M382.6 111.4h0" stroke="#68d860"/>
<path d="M382.8 98.5h0M387.7 98.3h0M381.2 100.6h0M386.7 101.6h0M387.4 104.3h0M387.3 105.5h0M383.2 110.3h0" stroke="#98e040"/>
<path d="M383.6 98.5h0M385.5 98.4h0" stroke="#c0d830"/>
<path d="M384.4 98.4h0M382.6 100.4h0M385.4 100.3h0M385.5 101.7h0M385.6 102.3h0M381.8 104.4h0M381.7 105.3h0M382.3 107.4h0" stroke="#d0d830"/>
<path d="M386.6 98.5h0M386.5 99.2h0M381.2 107.6h0M383.8 108.6h0M384.5 110.7h0" stroke="#b0e038"/>
<path d="M389.8 98.2h0M389.4 102.5h0M382.7 113.3h0" stroke="#40c0d0"/>
<path d="M390.5 98.8h0M390.5 107.3h0M386.7 114.2h0" stroke="#2078f8"/>
<path d="M379.5 99.5h0M378.7 107.2h0M385.6 114.3h0" stroke="#28a8f0"/>
<path d="M381.3 99.4h0M380.4 106.7h0M381.8 109.5h0M382.8 109.5h0M385.3 109.5h0M383.8 111.7h0" stroke="#88e050"/>
<path d="M382.6 99.7h0M386.7 104.7h0M386.2 105.6h0M386.8 106.3h0" stroke="#c0e030"/>
<path d="M383.4 99.6h0" stroke="#e8c028"/>
<path d="M384.7 99.8h0M384.6 104.6h0" stroke="#e8b020"/>
<path d="M385.7 99.7h0M385.4 104.7h0" stroke="#d8d830"/>
<path d="M390.2 99.3h0M390.5 100.5h0M390.3 102.3h0M390.3 104.6h0M389.6 108.7h0M378.3 110.4h0M381.7 113.6h0M381.8 114.5h0" stroke="#2898f0"/>
<path d="M383.6 100.4h0M383.6 102.4h0M382.3 104.4h0" stroke="#e89020"/>
<path d="M384.7 100.6h0" stroke="#e8a020"/>
<path d="M387.3 100.6h0M388.5 105.7h0" stroke="#80e058"/>
<path d="M388.3 100.7h0" stroke="#58d088"/>
<path d="M378.3 101.5h0" stroke="#1860f8"/>
<path d="M382.6 101.4h0" stroke="#d8d828"/>
<path d="M383.6 101.3h0" stroke="#e87820"/>
<path d="M384.7 101.5h0M383.4 103.6h0" stroke="#e8a820"/>
<path d="M387.6 101.5h0M380.8 102.3h0M388.8 104.7h0M380.2 107.3h0M386.6 109.7h0M386.7 110.5h0M385.7 111.3h0M384.4 112.4h0" stroke="#78d858"/>
<path d="M391.7 101.8h0M377.8 109.5h0M380.4 115.4h0M385.4 117.3h0" stroke="#2060f8"/>
<path d="M378.5 102.5h0M389.6 109.8h0M380.3 113.3h0M386.3 115.2h0M386.6 116.8h0M382.5 117.3h0" stroke="#2070f8"/>
<path d="M381.7 102.5h0M385.2 107.7h0" stroke="#b8e030"/>
<path d="M382.4 102.3h0M384.4 102.6h0M383.3 107.6h0" stroke="#e0d028"/>
<path d="M387.6 102.2h0" stroke="#80d858"/>
<path d="M379.3 103.3h0M379.6 107.7h0M379.8 109.5h0M387.5 109.8h0M380.5 110.4h0M383.7 115.6h0" stroke="#50d0a0"/>
<path d="M380.2 103.3h0" stroke="#90e050"/>
<path d="M381.6 103.8h0M385.5 103.4h0M381.5 106.3h0M384.6 107.5h0" stroke="#c8d830"/>
<path d="M382.5 103.7h0" stroke="#e0c028"/>
<path d="M384.4 103.4h0M385.5 105.6h0M385.6 106.6h0" stroke="#d8d028"/>
<path d="M389.6 103.3h0M389.6 106.4h0M379.2 108.7h0M387.3 110.8h0" stroke="#48d0b0"/>
<path d="M383.5 104.3h0" stroke="#e87020"/>
<path d="M389.7 104.8h0M388.3 107.5h0M384.6 113.3h0M382.5 115.7h0" stroke="#50d0a8"/>
<path d="M378.6 105.3h0M378.2 106.3h0M388.7 109.4h0M387.5 111.8h0M385.6 113.7h0" stroke="#30b0e0"/>
<path d="M379.5 105.2h0M383.4 112.3h0" stroke="#60d878"/>
<path d="M382.3 105.5h0M383.4 105.4h0M383.4 106.5h0" stroke="#e86018"/>
<path d="M384.5 105.8h0" stroke="#e88020"/>
<path d="M382.4 106.5h0M384.3 106.7h0" stroke="#e88820"/>
<path d="M390.2 106.2h0M386.7 113.2h0M381.7 116.7h0M385.5 116.6h0" stroke="#2890f0"/>
<path d="M389.4 107.5h0" stroke="#38b8e0"/>
<path d="M382.2 108.4h0" stroke="#a8e040"/>
<path d="M380.5 112.4h0" stroke="#2088f0"/>
<path d="M385.7 112.4h0" stroke="#50d098"/>
<path d="M390.4 114.6h0M382.5 121.3h0M383.5 128.3h0" stroke="#2828f8"/>
<path d="M384.4 115.6h0" stroke="#40c8c0"/></g>
<g fill="none" stroke-linecap="round" stroke-width="1.45"><path d="M102.3 150.6h0M114.2 156.4h0M107.6 160.8h0M83.7 164.8h0M84.6 165.3h0M85.8 174.4h0M90.2 174.7h0M126.4 175.5h0M83.3 176.2h0M80.5 177.4h0M73.3 178.3h0M85.6 178.3h0M80.4 179.3h0M83.4 179.5h0M84.7 180.4h0M115.3 184.5h0M80.5 188.7h0M87.6 190.7h0M75.6 193.7h0M82.5 193.3h0M120.4 193.5h0M79.6 194.2h0M80.8 194.3h0M84.8 194.7h0M86.3 194.8h0M89.5 194.7h0M85.3 195.7h0M87.7 195.4h0M89.7 195.4h0M92.6 195.7h0M83.3 196.6h0M84.3 196.7h0M93.8 196.3h0M76.8 197.3h0M81.3 197.6h0M82.5 197.6h0M93.3 197.7h0M95.7 197.4h0M105.7 197.4h0M72.6 198.5h0M80.4 198.7h0M96.3 198.3h0M77.6 199.7h0M78.7 199.4h0M79.6 199.5h0M93.4 199.5h0M101.7 199.5h0M75.3 200.2h0M76.3 200.8h0M93.3 200.7h0M96.3 200.3h0M108.3 200.7h0M110.5 200.3h0M93.7 201.6h0M94.2 201.3h0M95.5 201.4h0M98.8 201.7h0M102.5 201.4h0M107.4 201.8h0M132.6 201.7h0M74.3 202.4h0M103.7 202.2h0M74.4 203.6h0M92.4 203.3h0M104.6 203.7h0M106.6 203.7h0M72.7 204.4h0M74.3 204.3h0M91.5 204.2h0M92.8 204.3h0M94.7 204.6h0M95.7 204.8h0M100.4 204.3h0M101.6 204.6h0M102.2 204.2h0M105.4 204.6h0M107.7 204.8h0M70.4 205.6h0M72.5 205.4h0M73.5 205.5h0M74.4 205.7h0M96.7 205.6h0M59.7 206.8h0M69.5 206.5h0M72.3 206.4h0M93.3 206.5h0M87.2 207.7h0M89.3 207.6h0M90.3 207.2h0M95.5 207.7h0M104.4 207.7h0M108.2 207.4h0M69.2 208.2h0M71.4 208.3h0M72.5 208.3h0M74.5 208.7h0M87.4 208.8h0M89.3 208.6h0M102.3 208.5h0M77.7 209.7h0M77.7 210.3h0M83.6 210.5h0M96.4 210.2h0M75.2 211.3h0M77.4 211.7h0M89.2 211.6h0M102.4 211.3h0M77.4 212.5h0M81.3 212.3h0M90.5 215.4h0M94.2 222.6h0" stroke="#2828f8" stroke-opacity="0.2"/>
<path d="M83.4 180.3h0M81.3 193.2h0M88.3 195.8h0M87.6 196.2h0M89.3 196.5h0M90.5 196.5h0M84.7 197.2h0M88.3 197.5h0M90.3 197.7h0M79.5 198.6h0M92.5 198.3h0M93.5 198.3h0M92.5 199.6h0M77.3 200.2h0M78.6 200.2h0M94.5 200.4h0M77.6 201.5h0M105.2 201.2h0M104.8 202.6h0M93.7 204.7h0M89.6 206.7h0M73.6 207.5h0M74.5 209.5h0M75.4 209.7h0M82.6 209.7h0M78.8 210.5h0M82.4 210.4h0M81.7 211.7h0" stroke="#2828f8" stroke-opacity="0.4"/>
<path d="M91.3 196.4h0M83.4 197.6h0M85.7 197.3h0M92.3 197.7h0M81.4 198.4h0M94.5 199.6h0M75.5 202.5h0M93.7 202.3h0M93.7 203.5h0M92.7 205.6h0M74.3 207.3h0M75.5 207.3h0M75.7 208.5h0M77.3 208.7h0M86.6 208.7h0" stroke="#2828f8" stroke-opacity="0.6"/>
<path d="M86.2 196.8h0M86.3 197.6h0M89.7 197.4h0M91.6 197.2h0M76.7 201.3h0M76.4 202.6h0M92.5 202.2h0M75.3 204.6h0M90.2 205.3h0M74.7 206.3h0M75.7 206.6h0M88.5 207.7h0M76.2 208.2h0M85.5 208.4h0M76.6 209.7h0M78.5 209.4h0M79.6 209.6h0M80.5 209.5h0M81.5 209.4h0M83.5 209.4h0" stroke="#2828f8" stroke-opacity="0.8"/>
<path d="M89.6 205.6h0" stroke="#1830f0" stroke-opacity="0.8"/>
<path d="M87.7 197.5h0" stroke="#2828f8"/>
<path d="M82.4 198.2h0M90.5 198.3h0M76.3 203.4h0M86.7 207.6h0M79.7 208.4h0M80.6 208.3h0M81.2 208.5h0M82.6 208.7h0" stroke="#1838f0"/>
<path d="M83.7 198.6h0M77.5 202.4h0M76.5 204.5h0M76.2 205.3h0" stroke="#1848f0"/>
<path d="M84.7 198.6h0M85.4 198.7h0M86.5 198.6h0M88.3 198.4h0M81.6 199.2h0M88.5 205.6h0M87.4 206.7h0M85.3 207.5h0" stroke="#1850f8"/>
<path d="M87.5 198.3h0M80.5 200.6h0M90.5 203.5h0M89.7 204.5h0M78.2 207.4h0" stroke="#1858f8"/>
<path d="M89.4 198.8h0M91.6 202.3h0" stroke="#1848f8"/>
<path d="M91.3 198.3h0M80.5 199.5h0M92.6 200.4h0M92.7 201.5h0M75.8 205.4h0M88.5 206.2h0M83.4 208.6h0M84.3 208.6h0" stroke="#1828f0"/>
<path d="M82.6 199.7h0M77.7 204.4h0M78.5 206.6h0" stroke="#28a0f0"/>
<path d="M83.5 199.7h0M86.6 199.8h0" stroke="#48c8c0"/>
<path d="M84.5 199.5h0M90.4 200.7h0M78.3 204.6h0" stroke="#48d0b0"/>
<path d="M85.8 199.4h0M78.3 203.6h0M78.7 205.2h0" stroke="#40c8c8"/>
<path d="M87.4 199.5h0M81.3 206.6h0" stroke="#50d0a0"/>
<path d="M88.5 199.4h0M80.8 206.2h0" stroke="#50d0a8"/>
<path d="M89.8 199.3h0M89.5 203.4h0M87.2 205.8h0M79.3 206.4h0" stroke="#38c0d0"/>
<path d="M90.5 199.4h0M77.3 203.7h0M83.2 207.8h0" stroke="#2080f0"/>
<path d="M91.6 199.6h0M78.5 201.5h0M76.8 206.3h0M77.5 207.5h0" stroke="#1840f0"/>
<path d="M79.2 200.6h0M91.7 203.5h0M90.6 204.7h0M76.5 207.8h0M78.7 208.6h0" stroke="#1830f0"/>
<path d="M81.8 200.4h0" stroke="#38b0e0"/>
<path d="M82.7 200.4h0M80.7 202.2h0" stroke="#68d860"/>
<path d="M83.4 200.8h0M86.8 200.3h0M80.7 203.4h0" stroke="#90e048"/>
<path d="M84.4 200.7h0M81.5 205.3h0" stroke="#98e048"/>
<path d="M85.5 200.3h0" stroke="#90e050"/>
<path d="M87.5 200.7h0M85.3 205.3h0" stroke="#a8e040"/>
<path d="M88.3 200.5h0M82.7 201.6h0M82.5 205.7h0" stroke="#b0e038"/>
<path d="M89.6 200.4h0M87.7 204.5h0" stroke="#88e050"/>
<path d="M91.4 200.4h0" stroke="#2068f8"/>
<path d="M79.3 201.4h0M91.8 201.7h0M79.7 207.3h0" stroke="#2070f8"/>
<path d="M80.6 201.4h0M90.8 202.5h0M88.3 204.7h0" stroke="#38b8d8"/>
<path d="M81.3 201.5h0" stroke="#68d868"/>
<path d="M83.7 201.6h0M88.3 201.8h0M82.4 202.3h0" stroke="#d8d028"/>
<path d="M84.3 201.6h0M87.7 201.4h0" stroke="#e0d028"/>
<path d="M85.7 201.7h0M86.8 201.4h0M82.3 204.7h0" stroke="#d0d830"/>
<path d="M89.5 201.3h0" stroke="#a8e038"/>
<path d="M90.6 201.7h0" stroke="#58d090"/>
<path d="M78.6 202.2h0M77.3 205.2h0M80.4 207.4h0M81.7 207.5h0" stroke="#2888f0"/>
<path d="M79.4 202.3h0" stroke="#40c8c0"/>
<path d="M81.6 202.3h0" stroke="#a0e040"/>
<path d="M83.3 202.3h0M85.7 202.4h0" stroke="#e88820"/>
<path d="M84.2 202.2h0M83.7 203.5h0M84.7 203.2h0M85.4 203.7h0" stroke="#e86018"/>
<path d="M86.4 202.7h0" stroke="#e8a020"/>
<path d="M87.3 202.6h0" stroke="#e0c028"/>
<path d="M88.5 202.8h0M87.2 203.2h0M86.3 204.6h0" stroke="#c8d830"/>
<path d="M89.5 202.7h0" stroke="#80e058"/>
<path d="M79.6 203.4h0" stroke="#70d860"/>
<path d="M81.7 203.3h0M81.5 204.7h0" stroke="#c0e030"/>
<path d="M82.2 203.3h0M83.3 204.2h0" stroke="#e8c028"/>
<path d="M86.7 203.5h0" stroke="#e8b028"/>
<path d="M88.3 203.7h0M79.6 204.3h0M86.4 205.2h0" stroke="#78d858"/>
<path d="M80.5 204.7h0" stroke="#98e040"/>
<path d="M84.5 204.2h0" stroke="#e8b020"/>
<path d="M85.6 204.7h0" stroke="#e8b828"/>
<path d="M79.2 205.5h0" stroke="#68d870"/>
<path d="M80.7 205.7h0" stroke="#80e050"/>
<path d="M83.4 205.2h0M84.3 205.3h0" stroke="#b8e030"/>
<path d="M77.8 206.4h0" stroke="#1860f8"/>
<path d="M82.4 206.5h0M84.6 206.3h0" stroke="#60d878"/>
<path d="M83.4 206.5h0" stroke="#60d880"/>
<path d="M85.7 206.5h0" stroke="#48d0b8"/>
<path d="M86.8 206.4h0" stroke="#28a8f0"/>
<path d="M82.5 207.4h0" stroke="#2898f0"/>
<path d="M84.5 207.4h0" stroke="#2078f8"/></g>
<g fill="none" stroke-linecap="round" stroke-width="1.45"><path d="M182.8 166.6h0M212.3 169.3h0M168.3 176.4h0M179.7 178.4h0M169.4 180.7h0M190.3 180.2h0M188.3 181.6h0M182.3 182.5h0M188.6 184.4h0M172.4 185.7h0M180.8 185.3h0M174.4 187.3h0M172.7 189.4h0M176.4 190.4h0M176.5 192.4h0M179.4 192.4h0M187.6 193.5h0M189.6 193.6h0M175.8 194.7h0M185.8 194.6h0M191.2 194.7h0M177.3 195.6h0M187.7 195.8h0M188.4 195.3h0M179.3 196.4h0M180.7 196.3h0M181.3 196.5h0M182.2 196.7h0M183.7 196.7h0M185.8 196.4h0M178.5 197.6h0M189.6 197.2h0M228.5 197.2h0M178.4 198.5h0M179.6 198.3h0M191.8 198.4h0M163.3 199.3h0M190.7 199.5h0M191.4 199.2h0M199.6 199.5h0M202.4 199.2h0M203.7 199.6h0M209.3 199.4h0M170.3 200.4h0M201.7 200.3h0M205.7 200.6h0M172.3 201.6h0M194.6 201.7h0M197.5 201.4h0M168.5 202.5h0M171.8 202.7h0M192.7 202.4h0M194.5 202.7h0M199.5 202.6h0M201.4 202.5h0M202.8 202.5h0M204.8 202.4h0M205.6 202.5h0M207.2 202.8h0M210.7 202.8h0M190.6 203.5h0M192.2 203.4h0M203.5 203.7h0M206.6 203.6h0M207.8 203.3h0M212.5 203.4h0M170.4 204.8h0M190.4 204.4h0M192.5 204.3h0M197.2 204.4h0M198.5 204.7h0M200.4 204.5h0M202.4 204.5h0M222.5 204.5h0M188.3 205.4h0M190.4 205.7h0M193.3 205.8h0M195.4 205.2h0M201.5 205.4h0M203.8 205.4h0M204.3 205.7h0M205.2 205.3h0M210.8 205.2h0M215.5 205.3h0M169.5 206.8h0M171.6 206.7h0M172.4 206.4h0M188.7 206.7h0M192.8 206.7h0M195.7 206.4h0M202.3 206.8h0M203.7 206.5h0M214.3 206.5h0M169.7 207.6h0M186.4 207.6h0M188.2 207.4h0M195.6 207.2h0M202.4 207.6h0M203.6 207.3h0M204.6 207.7h0M210.4 207.4h0M186.6 208.4h0M187.7 208.7h0M195.4 208.5h0M204.6 208.4h0M214.5 208.7h0M171.4 209.5h0M172.6 209.5h0M173.5 209.3h0M183.7 209.4h0M194.4 209.2h0M196.7 209.3h0M199.3 209.8h0M202.6 209.6h0M170.6 210.3h0M175.7 210.2h0M180.6 210.7h0M183.5 210.7h0M188.4 210.4h0M199.8 210.7h0M201.6 210.4h0M174.8 211.6h0M197.3 211.7h0M177.2 212.6h0M204.7 213.8h0M193.6 214.6h0M211.5 217.6h0M205.2 220.8h0M205.3 223.7h0M169.8 230.4h0" stroke="#2828f8" stroke-opacity="0.2"/>
<path d="M191.5 195.6h0M186.4 196.3h0M188.7 196.6h0M182.6 197.5h0M183.7 197.4h0M187.8 197.8h0M188.3 198.7h0M189.5 198.7h0M176.7 199.7h0M173.5 201.4h0M174.4 201.7h0M189.6 201.4h0M190.7 201.8h0M173.5 202.8h0M189.7 202.8h0M206.4 202.8h0M172.2 203.6h0M172.3 204.7h0M188.6 204.7h0M189.3 204.6h0M171.5 205.5h0M197.6 205.5h0M170.7 206.6h0M187.4 206.5h0M189.3 206.7h0M171.5 207.3h0M172.3 207.3h0M199.4 207.7h0M171.6 208.7h0M173.6 208.6h0M184.5 208.6h0M186.4 209.4h0M172.4 210.7h0M173.4 210.4h0M174.2 210.5h0M179.3 210.3h0M177.5 211.6h0" stroke="#2828f8" stroke-opacity="0.4"/>
<path d="M179.7 197.5h0M184.4 197.4h0M185.5 197.6h0M186.8 197.6h0M188.6 197.6h0M187.4 199.7h0M189.3 199.3h0M174.7 200.6h0M175.4 200.4h0M189.4 203.8h0M170.6 207.3h0M176.4 210.6h0M181.5 210.4h0M175.3 211.4h0" stroke="#2828f8" stroke-opacity="0.6"/>
<path d="M186.4 206.3h0" stroke="#1828f0" stroke-opacity="0.6"/>
<path d="M187.2 196.8h0M181.4 197.4h0M180.3 198.3h0M181.2 198.6h0M182.7 198.3h0M185.4 198.7h0M186.6 198.4h0M187.6 198.7h0M188.6 199.6h0M189.7 200.7h0M190.8 200.7h0M190.7 202.5h0M173.4 203.5h0M171.3 204.4h0M172.8 205.5h0M185.8 207.2h0M183.5 208.7h0M174.4 209.2h0M182.5 209.5h0M177.4 210.7h0M178.8 210.3h0" stroke="#2828f8" stroke-opacity="0.8"/>
<path d="M183.3 198.2h0M184.6 198.7h0M177.5 199.4h0M188.4 200.4h0M188.3 201.6h0M174.7 202.7h0M188.4 203.4h0M173.2 204.3h0M173.7 207.3h0M175.3 209.7h0M176.3 209.7h0M181.3 209.6h0" stroke="#1828f0"/>
<path d="M178.8 199.7h0M186.3 199.6h0M176.6 200.7h0M187.6 200.5h0M175.7 201.4h0M173.2 205.7h0M187.7 205.3h0M173.3 206.6h0M174.3 208.4h0M179.6 209.6h0M180.2 209.6h0" stroke="#1838f0"/>
<path d="M179.8 199.3h0M174.3 203.6h0M182.3 208.5h0" stroke="#1840f0"/>
<path d="M180.8 199.6h0" stroke="#1848f8"/>
<path d="M181.3 199.3h0M185.4 199.5h0" stroke="#1858f8"/>
<path d="M182.7 199.3h0M174.3 206.6h0M181.8 208.5h0" stroke="#2078f8"/>
<path d="M183.8 199.4h0" stroke="#2888f0"/>
<path d="M184.6 199.6h0M177.7 200.7h0M176.5 201.6h0M174.5 205.7h0M184.8 206.7h0" stroke="#2080f0"/>
<path d="M178.4 200.6h0" stroke="#38c0d0"/>
<path d="M179.6 200.4h0" stroke="#40c8c8"/>
<path d="M180.8 200.4h0M175.5 206.2h0" stroke="#50d0a0"/>
<path d="M181.8 200.3h0" stroke="#60d878"/>
<path d="M182.4 200.2h0M183.7 200.3h0M179.7 207.7h0" stroke="#80e058"/>
<path d="M184.8 200.8h0M176.8 203.4h0" stroke="#68d868"/>
<path d="M185.6 200.8h0M186.8 203.7h0M176.8 207.5h0" stroke="#38b8d8"/>
<path d="M186.7 200.4h0" stroke="#2070f8"/>
<path d="M177.4 201.5h0M175.5 205.2h0" stroke="#58d090"/>
<path d="M178.5 201.5h0" stroke="#90e050"/>
<path d="M179.5 201.6h0" stroke="#a0e040"/>
<path d="M180.6 201.2h0M184.3 203.2h0M177.6 205.5h0M182.7 205.2h0M178.8 206.8h0" stroke="#b8e030"/>
<path d="M181.7 201.5h0M179.5 206.4h0" stroke="#d0d830"/>
<path d="M182.3 201.3h0M182.2 204.5h0" stroke="#e8b828"/>
<path d="M183.4 201.4h0M181.3 205.7h0" stroke="#d8d028"/>
<path d="M184.8 201.6h0" stroke="#a8e038"/>
<path d="M185.4 201.5h0M185.4 204.3h0M178.4 207.7h0" stroke="#60d880"/>
<path d="M186.5 201.7h0M175.7 203.3h0M186.7 204.2h0M175.3 207.4h0" stroke="#28a0f0"/>
<path d="M187.4 201.3h0M187.3 204.8h0M174.6 207.6h0M175.3 208.7h0" stroke="#1850f8"/>
<path d="M175.4 202.3h0M187.2 203.4h0M186.5 205.4h0M183.4 207.2h0" stroke="#2060f8"/>
<path d="M176.5 202.7h0" stroke="#48c8c0"/>
<path d="M177.7 202.2h0M184.7 204.3h0M183.2 205.3h0" stroke="#90e048"/>
<path d="M178.5 202.5h0M177.3 204.4h0M183.7 204.4h0M180.5 206.4h0" stroke="#c8d830"/>
<path d="M179.4 202.3h0M178.4 203.5h0M178.8 205.2h0" stroke="#e0d028"/>
<path d="M180.7 202.7h0M183.5 203.3h0" stroke="#e8a820"/>
<path d="M181.6 202.5h0" stroke="#e86818"/>
<path d="M182.4 202.8h0M180.5 203.6h0M181.3 203.4h0M182.7 203.6h0M179.2 204.3h0M180.6 204.3h0" stroke="#e86018"/>
<path d="M183.4 202.6h0" stroke="#e88020"/>
<path d="M184.3 202.8h0" stroke="#c0e030"/>
<path d="M185.7 202.7h0" stroke="#68d860"/>
<path d="M186.4 202.5h0M182.3 207.5h0M179.3 208.3h0" stroke="#30b0e0"/>
<path d="M187.2 202.8h0M176.4 208.4h0" stroke="#1860f8"/>
<path d="M188.5 202.3h0M184.5 207.2h0M177.4 209.6h0M178.5 209.6h0" stroke="#1830f0"/>
<path d="M177.6 203.7h0" stroke="#b0e038"/>
<path d="M179.7 203.7h0" stroke="#e89020"/>
<path d="M185.4 203.5h0M182.3 206.7h0M180.6 207.6h0" stroke="#78d858"/>
<path d="M174.8 204.7h0M177.8 208.4h0" stroke="#2068f8"/>
<path d="M175.3 204.3h0" stroke="#48d0b0"/>
<path d="M176.7 204.7h0M176.3 205.4h0" stroke="#88e050"/>
<path d="M178.7 204.8h0M180.6 205.3h0" stroke="#e8a020"/>
<path d="M181.7 204.5h0" stroke="#e88820"/>
<path d="M179.7 205.7h0" stroke="#f09820"/>
<path d="M184.7 205.3h0" stroke="#58d888"/>
<path d="M185.6 205.5h0" stroke="#38b0e0"/>
<path d="M176.7 206.4h0" stroke="#70d860"/>
<path d="M177.4 206.3h0" stroke="#98e048"/>
<path d="M181.3 206.5h0" stroke="#a8e040"/>
<path d="M183.6 206.6h0M177.4 207.5h0" stroke="#48c8b8"/>
<path d="M185.5 206.2h0" stroke="#1848f0"/>
<path d="M181.8 207.7h0" stroke="#58d088"/>
<path d="M178.7 208.6h0" stroke="#2890f0"/>
<path d="M180.8 208.5h0" stroke="#30a8e8"/></g>
<g fill="none" stroke-linecap="round" stroke-width="1.45"><path d="M315.5 153.2h0M294.3 162.3h0M285.6 173.7h0M291.4 173.6h0M299.5 173.7h0M288.3 175.3h0M275.4 178.7h0M292.4 179.7h0M278.3 181.7h0M291.5 181.7h0M289.5 183.5h0M292.6 185.3h0M280.2 189.4h0M282.3 190.3h0M285.3 190.3h0M292.7 190.6h0M317.4 190.7h0M281.2 191.7h0M311.7 191.5h0M287.8 192.4h0M285.3 194.3h0M293.6 196.4h0M294.4 196.7h0M287.7 197.4h0M288.4 197.5h0M295.4 197.7h0M284.5 198.4h0M288.2 198.8h0M289.4 198.8h0M291.7 198.5h0M294.3 198.6h0M295.3 198.2h0M303.2 198.5h0M284.7 199.6h0M285.8 199.2h0M286.6 199.6h0M291.6 199.5h0M283.3 200.4h0M284.3 200.8h0M293.7 200.7h0M296.5 200.2h0M299.6 200.4h0M302.6 200.5h0M308.5 200.3h0M294.7 201.4h0M296.7 201.7h0M298.5 201.3h0M303.4 201.5h0M309.4 201.2h0M296.8 202.6h0M309.5 202.3h0M338.5 202.7h0M298.3 203.7h0M315.3 203.3h0M278.7 204.3h0M301.7 204.4h0M303.3 204.6h0M305.2 204.3h0M276.6 205.6h0M277.5 205.7h0M278.3 205.7h0M301.5 205.7h0M303.3 205.5h0M309.3 205.3h0M311.4 205.5h0M274.5 206.3h0M275.4 206.8h0M295.2 206.4h0M297.7 206.6h0M304.5 206.3h0M294.4 207.8h0M305.5 207.4h0M278.8 208.7h0M293.7 208.3h0M294.4 208.7h0M296.4 208.8h0M303.5 208.5h0M308.7 208.3h0M310.6 208.6h0M276.3 209.3h0M277.2 209.4h0M293.6 209.2h0M295.5 209.3h0M276.7 210.2h0M293.2 210.6h0M307.4 210.7h0M276.4 211.7h0M277.5 211.5h0M278.4 211.6h0M280.2 211.7h0M291.6 211.6h0M292.3 211.6h0M280.5 212.6h0M282.5 212.7h0M291.7 212.5h0M281.8 213.5h0M283.4 213.7h0M286.3 213.7h0M287.5 213.8h0M289.2 213.4h0M293.8 213.5h0M273.3 214.6h0M281.5 214.5h0M283.3 214.2h0M284.7 214.6h0M282.8 217.5h0M290.4 223.2h0M285.5 224.7h0M293.8 229.4h0" stroke="#2828f8" stroke-opacity="0.2"/>
<path d="M287.4 198.3h0M290.8 198.6h0M293.5 198.8h0M292.6 199.5h0M294.7 199.6h0M285.7 200.4h0M283.6 201.3h0M295.2 201.5h0M279.7 203.3h0M294.7 203.5h0M295.6 204.7h0M279.7 205.6h0M298.4 205.3h0M296.5 206.6h0M303.6 206.4h0M306.3 206.8h0M277.6 207.6h0M278.2 207.5h0M276.5 212.2h0M289.3 212.3h0" stroke="#2828f8" stroke-opacity="0.4"/>
<path d="M292.6 197.7h0M288.6 199.4h0M290.7 199.5h0M295.7 200.5h0M296.3 203.5h0M280.4 204.4h0M295.2 205.7h0M277.5 206.4h0M278.6 206.5h0M277.2 208.7h0M292.7 209.5h0M278.6 210.5h0M279.4 210.2h0M291.6 210.4h0M289.6 211.4h0M285.4 212.7h0M287.3 212.4h0" stroke="#2828f8" stroke-opacity="0.6"/>
<path d="M280.6 209.5h0" stroke="#1840f0" stroke-opacity="0.6"/>
<path d="M280.7 210.3h0" stroke="#1828f0" stroke-opacity="0.6"/>
<path d="M289.2 199.7h0M293.3 199.4h0M286.3 200.5h0M294.7 200.5h0M293.6 201.3h0M281.5 202.3h0M294.3 202.4h0M295.4 202.6h0M281.3 203.4h0M295.8 203.4h0M294.2 206.7h0M278.2 209.4h0M279.6 209.8h0M290.7 210.8h0M281.6 211.8h0M281.3 212.4h0M283.6 212.6h0M284.7 212.3h0" stroke="#2828f8" stroke-opacity="0.8"/>
<path d="M282.4 203.6h0" stroke="#1848f0" stroke-opacity="0.8"/>
<path d="M287.3 200.5h0M291.7 200.2h0M283.7 202.6h0M293.5 202.3h0M279.7 207.4h0M293.6 207.3h0M279.7 208.8h0M291.8 209.8h0" stroke="#1830f0"/>
<path d="M288.2 200.7h0M289.3 200.3h0M293.7 203.7h0M280.2 205.3h0M292.5 208.7h0M281.5 210.2h0" stroke="#1840f0"/>
<path d="M290.6 200.8h0M285.3 201.7h0M292.8 201.5h0M289.7 210.6h0M282.8 211.6h0M286.4 211.6h0" stroke="#1838f0"/>
<path d="M292.4 200.4h0M282.2 202.2h0M288.3 211.6h0M286.5 212.4h0" stroke="#2828f8"/>
<path d="M284.6 201.4h0M294.4 204.6h0M294.6 205.6h0M279.5 206.8h0M287.8 211.8h0" stroke="#1828f0"/>
<path d="M286.4 201.6h0M280.3 207.8h0M281.5 209.2h0M282.3 210.6h0" stroke="#2068f8"/>
<path d="M287.6 201.4h0M290.5 201.7h0M289.7 209.7h0M283.4 210.4h0" stroke="#28a0f0"/>
<path d="M288.6 201.3h0" stroke="#48c8c0"/>
<path d="M289.6 201.6h0" stroke="#40c0d0"/>
<path d="M291.7 201.3h0M292.4 202.3h0M293.5 205.6h0M280.5 208.7h0M290.6 209.7h0M288.8 210.7h0" stroke="#1858f8"/>
<path d="M284.3 202.4h0M280.2 206.4h0" stroke="#2060f8"/>
<path d="M285.5 202.4h0" stroke="#30b0e8"/>
<path d="M286.4 202.3h0" stroke="#68d870"/>
<path d="M287.7 202.4h0M285.2 203.5h0M283.4 208.3h0" stroke="#88e050"/>
<path d="M288.6 202.4h0M283.7 206.6h0M284.8 207.4h0M286.2 208.3h0" stroke="#b8e030"/>
<path d="M289.7 202.3h0M291.6 204.3h0" stroke="#a0e040"/>
<path d="M290.7 202.4h0M282.4 205.7h0M285.6 209.6h0M286.7 209.7h0" stroke="#78d858"/>
<path d="M291.2 202.7h0M284.3 210.6h0M285.4 210.4h0" stroke="#38b8d8"/>
<path d="M283.5 203.2h0M292.7 203.4h0" stroke="#2898f0"/>
<path d="M284.6 203.3h0M282.3 208.2h0M283.5 209.5h0" stroke="#58d088"/>
<path d="M286.6 203.5h0M284.5 206.5h0M285.3 207.4h0" stroke="#c8d830"/>
<path d="M287.7 203.8h0M285.5 205.4h0" stroke="#e0c028"/>
<path d="M288.7 203.5h0" stroke="#e87020"/>
<path d="M289.2 203.3h0" stroke="#e8b828"/>
<path d="M290.6 203.3h0M287.5 208.8h0" stroke="#c0d830"/>
<path d="M291.5 203.5h0M287.7 209.5h0" stroke="#68d860"/>
<path d="M281.7 204.2h0M293.7 204.3h0M293.3 206.5h0M284.6 211.3h0" stroke="#1850f8"/>
<path d="M282.7 204.5h0" stroke="#38c0d0"/>
<path d="M283.7 204.4h0M284.4 209.5h0" stroke="#70d860"/>
<path d="M284.6 204.7h0M283.4 205.6h0M291.4 206.6h0M283.4 207.8h0" stroke="#a8e038"/>
<path d="M285.6 204.2h0M284.6 205.4h0" stroke="#d0d830"/>
<path d="M286.4 204.3h0" stroke="#e86818"/>
<path d="M287.6 204.7h0M288.5 204.5h0M289.4 204.7h0M286.8 205.5h0M287.5 205.3h0M288.4 205.4h0M289.4 205.3h0M287.4 206.2h0M288.4 206.6h0M289.7 206.3h0" stroke="#e86018"/>
<path d="M290.6 204.3h0M290.8 206.3h0" stroke="#e8b028"/>
<path d="M292.2 204.8h0" stroke="#48d0b8"/>
<path d="M281.4 205.3h0M281.5 208.7h0" stroke="#30a8e8"/>
<path d="M290.4 205.5h0M288.6 207.2h0" stroke="#e89820"/>
<path d="M291.7 205.6h0M290.6 207.4h0M288.8 208.2h0" stroke="#b0e038"/>
<path d="M292.2 205.6h0" stroke="#58d098"/>
<path d="M281.6 206.3h0M288.7 209.5h0" stroke="#50d0a8"/>
<path d="M282.4 206.6h0M284.4 208.3h0" stroke="#98e048"/>
<path d="M285.5 206.2h0" stroke="#d8d028"/>
<path d="M286.4 206.6h0" stroke="#e87820"/>
<path d="M292.2 206.5h0" stroke="#50d0b0"/>
<path d="M281.5 207.2h0" stroke="#40c8c0"/>
<path d="M282.3 207.2h0" stroke="#80e050"/>
<path d="M286.5 207.6h0" stroke="#e0d028"/>
<path d="M287.2 207.5h0" stroke="#e88820"/>
<path d="M289.7 207.2h0" stroke="#d8d830"/>
<path d="M291.6 207.4h0" stroke="#68d868"/>
<path d="M292.3 207.7h0M291.4 208.7h0" stroke="#2890f0"/>
<path d="M285.7 208.4h0" stroke="#a8e040"/>
<path d="M289.7 208.7h0" stroke="#80d858"/>
<path d="M290.2 208.7h0" stroke="#50d0a0"/>
<path d="M282.6 209.2h0" stroke="#30b0e0"/>
<path d="M286.5 210.7h0" stroke="#30a8f0"/>
<path d="M287.7 210.7h0" stroke="#2080f0"/>
<path d="M283.5 211.3h0M285.4 211.4h0" stroke="#1848f0"/></g>
<g fill="none" stroke-linecap="round" stroke-width="1.45"><path d="M407.4 162.7h0M362.4 166.7h0M379.7 168.8h0M410.6 173.4h0M390.3 175.5h0M401.6 175.4h0M436.7 179.8h0M369.5 180.5h0M425.3 181.5h0M386.6 182.7h0M384.8 187.4h0M397.8 188.2h0M383.7 191.6h0M382.7 192.6h0M389.6 192.6h0M392.3 193.8h0M398.5 193.8h0M438.6 194.5h0M379.5 195.5h0M390.7 195.8h0M384.4 196.2h0M396.6 197.7h0M389.3 198.6h0M396.5 198.5h0M416.5 198.7h0M385.7 199.2h0M386.4 199.8h0M390.6 199.8h0M380.7 200.7h0M393.7 200.4h0M395.8 200.7h0M377.8 201.4h0M383.6 201.8h0M404.7 201.4h0M410.5 201.6h0M378.4 202.8h0M380.8 202.5h0M398.2 202.4h0M405.6 202.5h0M376.3 203.3h0M395.6 203.4h0M397.3 203.7h0M399.3 203.3h0M403.6 203.5h0M405.7 203.3h0M379.2 204.3h0M395.3 204.8h0M397.6 204.6h0M398.4 204.2h0M399.3 204.5h0M395.6 205.6h0M400.4 205.5h0M404.5 205.3h0M407.3 205.6h0M420.2 205.4h0M376.3 206.3h0M377.4 206.7h0M398.7 206.4h0M399.3 206.3h0M401.5 206.4h0M413.6 206.4h0M396.8 207.4h0M398.3 207.5h0M400.6 207.2h0M405.3 207.8h0M406.3 207.7h0M412.4 207.4h0M413.3 207.3h0M373.6 208.4h0M395.2 208.6h0M396.2 208.4h0M403.5 208.6h0M404.3 208.2h0M405.7 208.6h0M416.7 208.2h0M375.8 209.7h0M393.6 209.4h0M396.8 209.8h0M399.4 209.3h0M401.3 209.2h0M402.8 209.6h0M403.5 209.5h0M392.7 210.8h0M397.3 210.6h0M413.4 210.8h0M390.7 211.2h0M395.2 211.5h0M377.5 212.5h0M389.4 212.7h0M391.6 212.7h0M379.5 213.6h0M380.7 213.5h0M381.3 213.7h0M388.4 213.2h0M390.3 213.7h0M392.5 213.7h0M410.7 213.2h0M440.7 213.4h0M378.7 214.3h0M379.5 214.7h0M380.4 214.7h0M381.4 214.3h0M385.5 214.3h0M405.4 214.8h0M360.6 215.6h0M384.7 215.6h0M385.6 215.6h0M383.4 216.7h0M411.3 230.6h0" stroke="#2828f8" stroke-opacity="0.2"/>
<path d="M386.7 198.2h0M395.2 199.5h0M384.4 200.2h0M385.5 200.3h0M391.8 200.3h0M395.3 201.7h0M381.6 202.7h0M395.4 202.7h0M378.5 204.6h0M396.3 204.5h0M379.8 205.6h0M396.6 206.8h0M377.4 208.5h0M376.7 209.7h0M404.5 209.7h0M378.5 210.2h0M393.7 210.6h0M375.5 211.2h0M391.5 211.3h0M392.7 211.2h0M382.4 213.2h0M387.7 213.7h0M382.6 214.6h0M383.3 214.5h0M383.7 215.6h0" stroke="#2828f8" stroke-opacity="0.4"/>
<path d="M392.3 199.5h0M386.2 200.8h0M388.7 200.7h0M384.3 201.3h0M394.7 201.7h0M396.7 201.4h0M382.7 202.3h0M396.3 202.4h0M380.4 203.3h0M381.3 203.3h0M378.4 205.2h0M397.5 206.4h0M395.4 207.7h0M377.5 209.6h0M377.6 210.2h0M394.3 210.3h0M378.3 212.5h0M379.2 212.4h0M388.3 212.3h0M390.5 212.4h0M386.8 213.5h0" stroke="#2828f8" stroke-opacity="0.6"/>
<path d="M388.8 199.3h0M391.5 199.4h0M387.7 200.7h0M389.6 200.2h0M390.4 200.2h0M392.2 200.4h0M385.3 201.7h0M393.6 201.3h0M394.4 202.5h0M396.5 203.7h0M378.5 206.7h0M378.7 207.4h0M394.6 208.3h0M377.2 211.6h0M378.8 211.4h0M387.7 212.7h0M383.6 213.3h0M385.4 213.5h0" stroke="#2828f8" stroke-opacity="0.8"/>
<path d="M393.4 203.7h0" stroke="#1858f8" stroke-opacity="0.8"/>
<path d="M394.7 207.6h0M378.3 208.4h0" stroke="#1828f0" stroke-opacity="0.8"/>
<path d="M384.4 212.4h0" stroke="#2890f0" stroke-opacity="0.8"/>
<path d="M386.5 212.7h0" stroke="#1838f0" stroke-opacity="0.8"/>
<path d="M386.4 201.7h0M392.3 201.3h0M394.6 203.5h0M393.3 208.5h0M378.8 209.3h0M392.5 209.4h0M391.6 210.5h0M379.5 211.2h0M389.7 211.8h0M381.7 212.5h0M384.3 213.3h0" stroke="#1828f0"/>
<path d="M387.6 201.8h0M383.7 202.4h0M393.7 202.2h0M379.3 206.3h0" stroke="#1830f0"/>
<path d="M388.5 201.5h0M391.4 201.5h0M382.7 203.3h0M380.5 205.3h0M394.6 206.5h0M379.3 210.7h0M388.5 211.3h0M382.6 212.7h0" stroke="#1840f0"/>
<path d="M389.7 201.8h0M390.4 201.3h0M381.6 204.8h0M394.7 205.2h0M379.7 207.8h0" stroke="#1848f0"/>
<path d="M384.3 202.7h0M390.3 210.3h0" stroke="#1850f8"/>
<path d="M385.5 202.3h0M385.7 212.6h0" stroke="#2068f8"/>
<path d="M386.4 202.4h0M383.5 203.2h0" stroke="#2078f8"/>
<path d="M387.2 202.3h0M393.5 204.8h0" stroke="#2890f0"/>
<path d="M388.4 202.6h0M393.6 206.4h0" stroke="#30a8e8"/>
<path d="M389.5 202.4h0M384.8 203.7h0M383.3 204.2h0M382.6 205.5h0M393.7 205.3h0M381.5 206.4h0" stroke="#38b8d8"/>
<path d="M390.7 202.8h0" stroke="#38c0d0"/>
<path d="M391.7 202.4h0" stroke="#28a8f0"/>
<path d="M392.4 202.5h0M380.3 206.2h0M392.4 208.4h0M391.4 209.5h0" stroke="#2060f8"/>
<path d="M385.4 203.2h0" stroke="#58d090"/>
<path d="M386.2 203.3h0M382.4 209.6h0M384.3 211.5h0" stroke="#70d860"/>
<path d="M387.2 203.2h0M384.5 205.4h0" stroke="#80d858"/>
<path d="M388.4 203.3h0" stroke="#80e058"/>
<path d="M389.8 203.4h0M391.8 203.6h0M391.8 207.4h0" stroke="#88e050"/>
<path d="M390.5 203.8h0M392.2 205.4h0M383.6 207.2h0M390.4 208.8h0" stroke="#98e048"/>
<path d="M392.7 203.5h0" stroke="#48c8b8"/>
<path d="M380.6 204.8h0M380.4 212.6h0" stroke="#2828f8"/>
<path d="M382.5 204.5h0M389.4 210.7h0" stroke="#2888f0"/>
<path d="M384.5 204.6h0" stroke="#68d868"/>
<path d="M385.8 204.7h0M384.6 206.4h0M383.8 209.8h0M388.6 209.3h0" stroke="#98e040"/>
<path d="M386.2 204.7h0M391.3 204.8h0M385.6 206.6h0M384.7 208.3h0M389.5 208.5h0M384.3 209.8h0" stroke="#c8d830"/>
<path d="M387.4 204.3h0M390.7 204.8h0M385.5 207.5h0" stroke="#d8d028"/>
<path d="M388.6 204.6h0" stroke="#d8d828"/>
<path d="M389.5 204.4h0M385.3 208.4h0" stroke="#d0d830"/>
<path d="M392.4 204.6h0M392.6 206.2h0M389.6 209.8h0M383.3 210.7h0M386.6 210.3h0" stroke="#78d858"/>
<path d="M394.6 204.7h0M380.4 211.7h0" stroke="#1838f0"/>
<path d="M381.2 205.6h0" stroke="#2080f0"/>
<path d="M383.3 205.2h0M381.3 207.6h0" stroke="#50d0a0"/>
<path d="M385.4 205.7h0" stroke="#b8e030"/>
<path d="M386.3 205.4h0" stroke="#e8b020"/>
<path d="M387.4 205.2h0M387.5 206.4h0M388.7 206.5h0" stroke="#e86018"/>
<path d="M388.5 205.8h0" stroke="#e86818"/>
<path d="M389.4 205.7h0M386.3 206.6h0M389.3 206.3h0" stroke="#e89020"/>
<path d="M390.2 205.5h0" stroke="#e8a020"/>
<path d="M391.3 205.3h0M390.2 206.5h0M389.2 207.6h0M387.3 208.3h0" stroke="#e0d028"/>
<path d="M382.7 206.3h0" stroke="#58d098"/>
<path d="M383.3 206.6h0M382.2 207.6h0" stroke="#70d858"/>
<path d="M391.3 206.3h0M384.3 207.7h0M390.6 207.4h0M386.2 209.2h0" stroke="#c0e030"/>
<path d="M380.3 207.7h0M380.4 209.8h0" stroke="#28a0f0"/>
<path d="M386.3 207.5h0" stroke="#f09820"/>
<path d="M387.7 207.6h0" stroke="#e87820"/>
<path d="M388.6 207.4h0" stroke="#e88020"/>
<path d="M392.4 207.7h0M391.4 208.7h0" stroke="#48c8c0"/>
<path d="M393.4 207.8h0M379.7 208.7h0M379.8 209.5h0M380.7 210.7h0M387.2 211.7h0" stroke="#1858f8"/>
<path d="M380.3 208.5h0M386.2 211.8h0" stroke="#30b0e0"/>
<path d="M381.5 208.3h0M385.4 211.7h0" stroke="#58d088"/>
<path d="M382.4 208.6h0" stroke="#80e050"/>
<path d="M383.2 208.7h0" stroke="#a8e038"/>
<path d="M386.7 208.6h0" stroke="#e0c828"/>
<path d="M388.7 208.4h0" stroke="#e0c028"/>
<path d="M381.6 209.4h0M390.7 209.5h0M387.5 210.3h0" stroke="#48d0b0"/>
<path d="M385.4 209.8h0" stroke="#c0d830"/>
<path d="M387.6 209.5h0M384.6 210.5h0" stroke="#a0e040"/>
<path d="M381.7 210.7h0" stroke="#2898f0"/>
<path d="M382.7 210.3h0" stroke="#40c8c8"/>
<path d="M385.6 210.3h0" stroke="#90e048"/>
<path d="M388.3 210.4h0" stroke="#40c0d0"/>
<path d="M381.3 211.3h0" stroke="#1848f8"/>
<path d="M382.5 211.5h0" stroke="#2088f0"/>
<path d="M383.7 211.4h0" stroke="#50d0a8"/>
<path d="M383.5 212.4h0" stroke="#2070f8"/></g>
</g>
<rect x="54.50" y="46.80" width="84.00" height="84.00" fill="none" stroke="#9a9a9a" stroke-width="1"/>
<path d="M100.3 46.8 V130.8 M54.5 85.8 H138.5" stroke="#6e6e6e" stroke-width="1" fill="none"/>
<text x="131.80" y="57.50" font-size="8.1" text-anchor="end" font-weight="bold" textLength="21.00" lengthAdjust="spacingAndGlyphs" >0.02%</text>
<text x="56.30" y="52.40" font-size="3.7" fill="#3a3a3a">Q3</text>
<text x="56.30" y="57.40" font-size="3.7" fill="#3a3a3a">0.30</text>
<text x="56.70" y="121.80" font-size="3.7" fill="#3a3a3a">Q4</text>
<text x="56.70" y="126.80" font-size="3.7" fill="#3a3a3a">96.6</text>
<text x="131.90" y="121.80" font-size="3.7" text-anchor="end" fill="#3a3a3a">Q1</text>
<text x="131.90" y="126.80" font-size="3.7" text-anchor="end" fill="#3a3a3a">0.096</text>
<text x="50.00" y="64.30" font-size="3.3" text-anchor="middle" fill="#555">10<tspan font-size="2.5" dy="-1.3">5</tspan></text>
<text x="50.00" y="83.60" font-size="3.3" text-anchor="middle" fill="#555">10<tspan font-size="2.5" dy="-1.3">4</tspan></text>
<text x="50.00" y="102.90" font-size="3.3" text-anchor="middle" fill="#555">10<tspan font-size="2.5" dy="-1.3">3</tspan></text>
<text x="49.50" y="114.30" font-size="3.3" text-anchor="middle" fill="#555">0</text>
<text x="50.00" y="127.80" font-size="3.3" text-anchor="middle" fill="#555">-10<tspan font-size="2.5" dy="-1.3">3</tspan></text>
<text x="70.50" y="138.10" font-size="3.3" text-anchor="middle" fill="#555">0</text>
<text x="89.90" y="138.10" font-size="3.3" text-anchor="middle" fill="#555">10<tspan font-size="2.5" dy="-1.3">3</tspan></text>
<text x="110.00" y="138.10" font-size="3.3" text-anchor="middle" fill="#555">10<tspan font-size="2.5" dy="-1.3">4</tspan></text>
<text x="128.20" y="138.10" font-size="3.3" text-anchor="middle" fill="#555">10<tspan font-size="2.5" dy="-1.3">5</tspan></text>
<path d="M53.60 49.80h1.2M53.60 53.50h1.2M53.60 57.20h1.2M53.60 60.90h1.2M53.60 64.60h1.2M53.60 68.30h1.2M53.60 72.00h1.2M53.60 75.70h1.2M53.60 79.40h1.2M53.60 83.10h1.2M53.60 86.80h1.2M53.60 90.50h1.2M53.60 94.20h1.2M53.60 97.90h1.2M53.60 101.60h1.2M53.60 105.30h1.2M53.60 109.00h1.2M53.60 112.70h1.2M53.60 116.40h1.2M53.60 120.10h1.2M53.60 123.80h1.2M53.60 127.50h1.2M57.50 130.20v1.2M61.20 130.20v1.2M64.90 130.20v1.2M68.60 130.20v1.2M72.30 130.20v1.2M76.00 130.20v1.2M79.70 130.20v1.2M83.40 130.20v1.2M87.10 130.20v1.2M90.80 130.20v1.2M94.50 130.20v1.2M98.20 130.20v1.2M101.90 130.20v1.2M105.60 130.20v1.2M109.30 130.20v1.2M113.00 130.20v1.2M116.70 130.20v1.2M120.40 130.20v1.2M124.10 130.20v1.2M127.80 130.20v1.2M131.50 130.20v1.2M135.20 130.20v1.2" stroke="#555" stroke-width="0.6" fill="none"/>
<path d="M52.30 63.00h2.2M52.30 82.30h2.2M52.30 101.60h2.2M52.30 126.50h2.2M89.90 130.80v2.0M110.00 130.80v2.0M128.20 130.80v2.0" stroke="#333" stroke-width="0.8" fill="none"/>
<rect x="53.60" y="111.00" width="1.8" height="3.8" fill="#222"/>
<rect x="68.30" y="130.10" width="4.2" height="1.5" fill="#222"/>
<rect x="151.80" y="46.50" width="85.60" height="84.50" fill="none" stroke="#9a9a9a" stroke-width="1"/>
<path d="M197.8 46.5 V131.0 M151.8 86.2 H237.4" stroke="#6e6e6e" stroke-width="1" fill="none"/>
<text x="231.80" y="56.60" font-size="8.1" text-anchor="end" font-weight="bold" textLength="20.60" lengthAdjust="spacingAndGlyphs" >1.07%</text>
<text x="153.60" y="52.10" font-size="3.7" fill="#3a3a3a">Q3</text>
<text x="153.60" y="57.10" font-size="3.7" fill="#3a3a3a">1.60</text>
<text x="154.00" y="122.00" font-size="3.7" fill="#3a3a3a">Q4</text>
<text x="154.00" y="127.00" font-size="3.7" fill="#3a3a3a">96.6</text>
<text x="230.80" y="122.00" font-size="3.7" text-anchor="end" fill="#3a3a3a">Q1</text>
<text x="230.80" y="127.00" font-size="3.7" text-anchor="end" fill="#3a3a3a">0.74</text>
<text x="147.30" y="64.00" font-size="3.3" text-anchor="middle" fill="#555">10<tspan font-size="2.5" dy="-1.3">5</tspan></text>
<text x="147.30" y="83.30" font-size="3.3" text-anchor="middle" fill="#555">10<tspan font-size="2.5" dy="-1.3">4</tspan></text>
<text x="147.30" y="102.60" font-size="3.3" text-anchor="middle" fill="#555">10<tspan font-size="2.5" dy="-1.3">3</tspan></text>
<text x="146.80" y="114.00" font-size="3.3" text-anchor="middle" fill="#555">0</text>
<text x="147.30" y="127.50" font-size="3.3" text-anchor="middle" fill="#555">-10<tspan font-size="2.5" dy="-1.3">3</tspan></text>
<text x="167.80" y="138.30" font-size="3.3" text-anchor="middle" fill="#555">0</text>
<text x="187.20" y="138.30" font-size="3.3" text-anchor="middle" fill="#555">10<tspan font-size="2.5" dy="-1.3">3</tspan></text>
<text x="207.30" y="138.30" font-size="3.3" text-anchor="middle" fill="#555">10<tspan font-size="2.5" dy="-1.3">4</tspan></text>
<text x="225.50" y="138.30" font-size="3.3" text-anchor="middle" fill="#555">10<tspan font-size="2.5" dy="-1.3">5</tspan></text>
<path d="M150.90 49.50h1.2M150.90 53.20h1.2M150.90 56.90h1.2M150.90 60.60h1.2M150.90 64.30h1.2M150.90 68.00h1.2M150.90 71.70h1.2M150.90 75.40h1.2M150.90 79.10h1.2M150.90 82.80h1.2M150.90 86.50h1.2M150.90 90.20h1.2M150.90 93.90h1.2M150.90 97.60h1.2M150.90 101.30h1.2M150.90 105.00h1.2M150.90 108.70h1.2M150.90 112.40h1.2M150.90 116.10h1.2M150.90 119.80h1.2M150.90 123.50h1.2M150.90 127.20h1.2M154.80 130.40v1.2M158.50 130.40v1.2M162.20 130.40v1.2M165.90 130.40v1.2M169.60 130.40v1.2M173.30 130.40v1.2M177.00 130.40v1.2M180.70 130.40v1.2M184.40 130.40v1.2M188.10 130.40v1.2M191.80 130.40v1.2M195.50 130.40v1.2M199.20 130.40v1.2M202.90 130.40v1.2M206.60 130.40v1.2M210.30 130.40v1.2M214.00 130.40v1.2M217.70 130.40v1.2M221.40 130.40v1.2M225.10 130.40v1.2M228.80 130.40v1.2M232.50 130.40v1.2" stroke="#555" stroke-width="0.6" fill="none"/>
<path d="M149.60 62.70h2.2M149.60 82.00h2.2M149.60 101.30h2.2M149.60 126.20h2.2M187.20 131.00v2.0M207.30 131.00v2.0M225.50 131.00v2.0" stroke="#333" stroke-width="0.8" fill="none"/>
<rect x="150.90" y="110.70" width="1.8" height="3.8" fill="#222"/>
<rect x="165.60" y="130.30" width="4.2" height="1.5" fill="#222"/>
<rect x="256.40" y="46.60" width="84.90" height="84.40" fill="none" stroke="#9a9a9a" stroke-width="1"/>
<path d="M302.9 46.6 V131.0 M256.4 86.4 H341.3" stroke="#6e6e6e" stroke-width="1" fill="none"/>
<text x="337.10" y="56.20" font-size="8.1" text-anchor="end" font-weight="bold" textLength="21.00" lengthAdjust="spacingAndGlyphs" >0.14%</text>
<text x="258.20" y="52.20" font-size="3.7" fill="#3a3a3a">Q3</text>
<text x="258.20" y="57.20" font-size="3.7" fill="#3a3a3a">0.67</text>
<text x="258.60" y="122.00" font-size="3.7" fill="#3a3a3a">Q4</text>
<text x="258.60" y="127.00" font-size="3.7" fill="#3a3a3a">99.0</text>
<text x="334.70" y="122.00" font-size="3.7" text-anchor="end" fill="#3a3a3a">Q1</text>
<text x="334.70" y="127.00" font-size="3.7" text-anchor="end" fill="#3a3a3a">0.20</text>
<text x="251.90" y="64.10" font-size="3.3" text-anchor="middle" fill="#555">10<tspan font-size="2.5" dy="-1.3">5</tspan></text>
<text x="251.90" y="83.40" font-size="3.3" text-anchor="middle" fill="#555">10<tspan font-size="2.5" dy="-1.3">4</tspan></text>
<text x="251.90" y="102.70" font-size="3.3" text-anchor="middle" fill="#555">10<tspan font-size="2.5" dy="-1.3">3</tspan></text>
<text x="251.40" y="114.10" font-size="3.3" text-anchor="middle" fill="#555">0</text>
<text x="251.90" y="127.60" font-size="3.3" text-anchor="middle" fill="#555">-10<tspan font-size="2.5" dy="-1.3">3</tspan></text>
<text x="272.40" y="138.30" font-size="3.3" text-anchor="middle" fill="#555">0</text>
<text x="291.80" y="138.30" font-size="3.3" text-anchor="middle" fill="#555">10<tspan font-size="2.5" dy="-1.3">3</tspan></text>
<text x="311.90" y="138.30" font-size="3.3" text-anchor="middle" fill="#555">10<tspan font-size="2.5" dy="-1.3">4</tspan></text>
<text x="330.10" y="138.30" font-size="3.3" text-anchor="middle" fill="#555">10<tspan font-size="2.5" dy="-1.3">5</tspan></text>
<path d="M255.50 49.60h1.2M255.50 53.30h1.2M255.50 57.00h1.2M255.50 60.70h1.2M255.50 64.40h1.2M255.50 68.10h1.2M255.50 71.80h1.2M255.50 75.50h1.2M255.50 79.20h1.2M255.50 82.90h1.2M255.50 86.60h1.2M255.50 90.30h1.2M255.50 94.00h1.2M255.50 97.70h1.2M255.50 101.40h1.2M255.50 105.10h1.2M255.50 108.80h1.2M255.50 112.50h1.2M255.50 116.20h1.2M255.50 119.90h1.2M255.50 123.60h1.2M255.50 127.30h1.2M259.40 130.40v1.2M263.10 130.40v1.2M266.80 130.40v1.2M270.50 130.40v1.2M274.20 130.40v1.2M277.90 130.40v1.2M281.60 130.40v1.2M285.30 130.40v1.2M289.00 130.40v1.2M292.70 130.40v1.2M296.40 130.40v1.2M300.10 130.40v1.2M303.80 130.40v1.2M307.50 130.40v1.2M311.20 130.40v1.2M314.90 130.40v1.2M318.60 130.40v1.2M322.30 130.40v1.2M326.00 130.40v1.2M329.70 130.40v1.2M333.40 130.40v1.2M337.10 130.40v1.2" stroke="#555" stroke-width="0.6" fill="none"/>
<path d="M254.20 62.80h2.2M254.20 82.10h2.2M254.20 101.40h2.2M254.20 126.30h2.2M291.80 131.00v2.0M311.90 131.00v2.0M330.10 131.00v2.0" stroke="#333" stroke-width="0.8" fill="none"/>
<rect x="255.50" y="110.80" width="1.8" height="3.8" fill="#222"/>
<rect x="270.20" y="130.30" width="4.2" height="1.5" fill="#222"/>
<rect x="355.70" y="46.70" width="85.10" height="84.50" fill="none" stroke="#9a9a9a" stroke-width="1"/>
<path d="M401.5 46.7 V131.2 M355.7 86.8 H440.8" stroke="#6e6e6e" stroke-width="1" fill="none"/>
<text x="436.50" y="55.90" font-size="8.1" text-anchor="end" font-weight="bold" textLength="21.00" lengthAdjust="spacingAndGlyphs" >0.15%</text>
<text x="357.50" y="52.30" font-size="3.7" fill="#3a3a3a">Q3</text>
<text x="357.50" y="57.30" font-size="3.7" fill="#3a3a3a">0.57</text>
<text x="357.90" y="122.20" font-size="3.7" fill="#3a3a3a">Q4</text>
<text x="357.90" y="127.20" font-size="3.7" fill="#3a3a3a">99.1</text>
<text x="434.20" y="122.20" font-size="3.7" text-anchor="end" fill="#3a3a3a">Q1</text>
<text x="434.20" y="127.20" font-size="3.7" text-anchor="end" fill="#3a3a3a">0.21</text>
<text x="351.20" y="64.20" font-size="3.3" text-anchor="middle" fill="#555">10<tspan font-size="2.5" dy="-1.3">5</tspan></text>
<text x="351.20" y="83.50" font-size="3.3" text-anchor="middle" fill="#555">10<tspan font-size="2.5" dy="-1.3">4</tspan></text>
<text x="351.20" y="102.80" font-size="3.3" text-anchor="middle" fill="#555">10<tspan font-size="2.5" dy="-1.3">3</tspan></text>
<text x="350.70" y="114.20" font-size="3.3" text-anchor="middle" fill="#555">0</text>
<text x="351.20" y="127.70" font-size="3.3" text-anchor="middle" fill="#555">-10<tspan font-size="2.5" dy="-1.3">3</tspan></text>
<text x="371.70" y="138.50" font-size="3.3" text-anchor="middle" fill="#555">0</text>
<text x="391.10" y="138.50" font-size="3.3" text-anchor="middle" fill="#555">10<tspan font-size="2.5" dy="-1.3">3</tspan></text>
<text x="411.20" y="138.50" font-size="3.3" text-anchor="middle" fill="#555">10<tspan font-size="2.5" dy="-1.3">4</tspan></text>
<text x="429.40" y="138.50" font-size="3.3" text-anchor="middle" fill="#555">10<tspan font-size="2.5" dy="-1.3">5</tspan></text>
<path d="M354.80 49.70h1.2M354.80 53.40h1.2M354.80 57.10h1.2M354.80 60.80h1.2M354.80 64.50h1.2M354.80 68.20h1.2M354.80 71.90h1.2M354.80 75.60h1.2M354.80 79.30h1.2M354.80 83.00h1.2M354.80 86.70h1.2M354.80 90.40h1.2M354.80 94.10h1.2M354.80 97.80h1.2M354.80 101.50h1.2M354.80 105.20h1.2M354.80 108.90h1.2M354.80 112.60h1.2M354.80 116.30h1.2M354.80 120.00h1.2M354.80 123.70h1.2M354.80 127.40h1.2M358.70 130.60v1.2M362.40 130.60v1.2M366.10 130.60v1.2M369.80 130.60v1.2M373.50 130.60v1.2M377.20 130.60v1.2M380.90 130.60v1.2M384.60 130.60v1.2M388.30 130.60v1.2M392.00 130.60v1.2M395.70 130.60v1.2M399.40 130.60v1.2M403.10 130.60v1.2M406.80 130.60v1.2M410.50 130.60v1.2M414.20 130.60v1.2M417.90 130.60v1.2M421.60 130.60v1.2M425.30 130.60v1.2M429.00 130.60v1.2M432.70 130.60v1.2M436.40 130.60v1.2" stroke="#555" stroke-width="0.6" fill="none"/>
<path d="M353.50 62.90h2.2M353.50 82.20h2.2M353.50 101.50h2.2M353.50 126.40h2.2M391.10 131.20v2.0M411.20 131.20v2.0M429.40 131.20v2.0" stroke="#333" stroke-width="0.8" fill="none"/>
<rect x="354.80" y="110.90" width="1.8" height="3.8" fill="#222"/>
<rect x="369.50" y="130.50" width="4.2" height="1.5" fill="#222"/>
<rect x="54.20" y="146.60" width="84.20" height="84.70" fill="none" stroke="#9a9a9a" stroke-width="1"/>
<path d="M96.4 146.6 V231.3 M54.2 192.8 H138.4" stroke="#6e6e6e" stroke-width="1" fill="none"/>
<text x="130.80" y="155.80" font-size="8.1" text-anchor="end" font-weight="bold" textLength="16.40" lengthAdjust="spacingAndGlyphs" >0.0%</text>
<text x="56.00" y="152.20" font-size="3.7" fill="#3a3a3a">Q3</text>
<text x="56.00" y="157.20" font-size="3.7" fill="#3a3a3a">0.17</text>
<text x="56.40" y="222.30" font-size="3.7" fill="#3a3a3a">Q4</text>
<text x="56.40" y="227.30" font-size="3.7" fill="#3a3a3a">98.6</text>
<text x="131.80" y="222.30" font-size="3.7" text-anchor="end" fill="#3a3a3a">Q1</text>
<text x="131.80" y="227.30" font-size="3.7" text-anchor="end" fill="#3a3a3a">1.21</text>
<text x="49.70" y="164.10" font-size="3.3" text-anchor="middle" fill="#555">10<tspan font-size="2.5" dy="-1.3">5</tspan></text>
<text x="49.70" y="183.40" font-size="3.3" text-anchor="middle" fill="#555">10<tspan font-size="2.5" dy="-1.3">4</tspan></text>
<text x="49.70" y="202.70" font-size="3.3" text-anchor="middle" fill="#555">10<tspan font-size="2.5" dy="-1.3">3</tspan></text>
<text x="49.20" y="214.10" font-size="3.3" text-anchor="middle" fill="#555">0</text>
<text x="49.70" y="227.60" font-size="3.3" text-anchor="middle" fill="#555">-10<tspan font-size="2.5" dy="-1.3">3</tspan></text>
<text x="70.20" y="238.60" font-size="3.3" text-anchor="middle" fill="#555">0</text>
<text x="89.60" y="238.60" font-size="3.3" text-anchor="middle" fill="#555">10<tspan font-size="2.5" dy="-1.3">3</tspan></text>
<text x="109.70" y="238.60" font-size="3.3" text-anchor="middle" fill="#555">10<tspan font-size="2.5" dy="-1.3">4</tspan></text>
<text x="127.90" y="238.60" font-size="3.3" text-anchor="middle" fill="#555">10<tspan font-size="2.5" dy="-1.3">5</tspan></text>
<path d="M53.30 149.60h1.2M53.30 153.30h1.2M53.30 157.00h1.2M53.30 160.70h1.2M53.30 164.40h1.2M53.30 168.10h1.2M53.30 171.80h1.2M53.30 175.50h1.2M53.30 179.20h1.2M53.30 182.90h1.2M53.30 186.60h1.2M53.30 190.30h1.2M53.30 194.00h1.2M53.30 197.70h1.2M53.30 201.40h1.2M53.30 205.10h1.2M53.30 208.80h1.2M53.30 212.50h1.2M53.30 216.20h1.2M53.30 219.90h1.2M53.30 223.60h1.2M53.30 227.30h1.2M57.20 230.70v1.2M60.90 230.70v1.2M64.60 230.70v1.2M68.30 230.70v1.2M72.00 230.70v1.2M75.70 230.70v1.2M79.40 230.70v1.2M83.10 230.70v1.2M86.80 230.70v1.2M90.50 230.70v1.2M94.20 230.70v1.2M97.90 230.70v1.2M101.60 230.70v1.2M105.30 230.70v1.2M109.00 230.70v1.2M112.70 230.70v1.2M116.40 230.70v1.2M120.10 230.70v1.2M123.80 230.70v1.2M127.50 230.70v1.2M131.20 230.70v1.2M134.90 230.70v1.2" stroke="#555" stroke-width="0.6" fill="none"/>
<path d="M52.00 162.80h2.2M52.00 182.10h2.2M52.00 201.40h2.2M52.00 226.30h2.2M89.60 231.30v2.0M109.70 231.30v2.0M127.90 231.30v2.0" stroke="#333" stroke-width="0.8" fill="none"/>
<rect x="53.30" y="210.80" width="1.8" height="3.8" fill="#222"/>
<rect x="68.00" y="230.60" width="4.2" height="1.5" fill="#222"/>
<rect x="152.10" y="146.60" width="85.20" height="84.90" fill="none" stroke="#9a9a9a" stroke-width="1"/>
<path d="M194.6 146.6 V231.5 M152.1 192.8 H237.3" stroke="#6e6e6e" stroke-width="1" fill="none"/>
<text x="230.20" y="156.80" font-size="8.1" text-anchor="end" font-weight="bold" textLength="20.60" lengthAdjust="spacingAndGlyphs" >0.03%</text>
<text x="153.90" y="152.20" font-size="3.7" fill="#3a3a3a">Q3</text>
<text x="153.90" y="157.20" font-size="3.7" fill="#3a3a3a">0.20</text>
<text x="154.30" y="222.50" font-size="3.7" fill="#3a3a3a">Q4</text>
<text x="154.30" y="227.50" font-size="3.7" fill="#3a3a3a">98.6</text>
<text x="230.70" y="222.50" font-size="3.7" text-anchor="end" fill="#3a3a3a">Q1</text>
<text x="230.70" y="227.50" font-size="3.7" text-anchor="end" fill="#3a3a3a">1.17</text>
<text x="147.60" y="164.10" font-size="3.3" text-anchor="middle" fill="#555">10<tspan font-size="2.5" dy="-1.3">5</tspan></text>
<text x="147.60" y="183.40" font-size="3.3" text-anchor="middle" fill="#555">10<tspan font-size="2.5" dy="-1.3">4</tspan></text>
<text x="147.60" y="202.70" font-size="3.3" text-anchor="middle" fill="#555">10<tspan font-size="2.5" dy="-1.3">3</tspan></text>
<text x="147.10" y="214.10" font-size="3.3" text-anchor="middle" fill="#555">0</text>
<text x="147.60" y="227.60" font-size="3.3" text-anchor="middle" fill="#555">-10<tspan font-size="2.5" dy="-1.3">3</tspan></text>
<text x="168.10" y="238.80" font-size="3.3" text-anchor="middle" fill="#555">0</text>
<text x="187.50" y="238.80" font-size="3.3" text-anchor="middle" fill="#555">10<tspan font-size="2.5" dy="-1.3">3</tspan></text>
<text x="207.60" y="238.80" font-size="3.3" text-anchor="middle" fill="#555">10<tspan font-size="2.5" dy="-1.3">4</tspan></text>
<text x="225.80" y="238.80" font-size="3.3" text-anchor="middle" fill="#555">10<tspan font-size="2.5" dy="-1.3">5</tspan></text>
<path d="M151.20 149.60h1.2M151.20 153.30h1.2M151.20 157.00h1.2M151.20 160.70h1.2M151.20 164.40h1.2M151.20 168.10h1.2M151.20 171.80h1.2M151.20 175.50h1.2M151.20 179.20h1.2M151.20 182.90h1.2M151.20 186.60h1.2M151.20 190.30h1.2M151.20 194.00h1.2M151.20 197.70h1.2M151.20 201.40h1.2M151.20 205.10h1.2M151.20 208.80h1.2M151.20 212.50h1.2M151.20 216.20h1.2M151.20 219.90h1.2M151.20 223.60h1.2M151.20 227.30h1.2M155.10 230.90v1.2M158.80 230.90v1.2M162.50 230.90v1.2M166.20 230.90v1.2M169.90 230.90v1.2M173.60 230.90v1.2M177.30 230.90v1.2M181.00 230.90v1.2M184.70 230.90v1.2M188.40 230.90v1.2M192.10 230.90v1.2M195.80 230.90v1.2M199.50 230.90v1.2M203.20 230.90v1.2M206.90 230.90v1.2M210.60 230.90v1.2M214.30 230.90v1.2M218.00 230.90v1.2M221.70 230.90v1.2M225.40 230.90v1.2M229.10 230.90v1.2M232.80 230.90v1.2" stroke="#555" stroke-width="0.6" fill="none"/>
<path d="M149.90 162.80h2.2M149.90 182.10h2.2M149.90 201.40h2.2M149.90 226.30h2.2M187.50 231.50v2.0M207.60 231.50v2.0M225.80 231.50v2.0" stroke="#333" stroke-width="0.8" fill="none"/>
<rect x="151.20" y="210.80" width="1.8" height="3.8" fill="#222"/>
<rect x="165.90" y="230.80" width="4.2" height="1.5" fill="#222"/>
<rect x="256.30" y="147.20" width="86.40" height="85.80" fill="none" stroke="#9a9a9a" stroke-width="1"/>
<path d="M299.2 147.2 V233.0 M256.3 194.2 H342.7" stroke="#6e6e6e" stroke-width="1" fill="none"/>
<text x="337.70" y="157.30" font-size="8.1" text-anchor="end" font-weight="bold" textLength="20.80" lengthAdjust="spacingAndGlyphs" >0.05%</text>
<text x="258.10" y="152.80" font-size="3.7" fill="#3a3a3a">Q3</text>
<text x="258.10" y="157.80" font-size="3.7" fill="#3a3a3a">0.24</text>
<text x="258.50" y="224.00" font-size="3.7" fill="#3a3a3a">Q4</text>
<text x="258.50" y="229.00" font-size="3.7" fill="#3a3a3a">98.5</text>
<text x="336.10" y="224.00" font-size="3.7" text-anchor="end" fill="#3a3a3a">Q1</text>
<text x="336.10" y="229.00" font-size="3.7" text-anchor="end" fill="#3a3a3a">1.26</text>
<text x="251.80" y="164.70" font-size="3.3" text-anchor="middle" fill="#555">10<tspan font-size="2.5" dy="-1.3">5</tspan></text>
<text x="251.80" y="184.00" font-size="3.3" text-anchor="middle" fill="#555">10<tspan font-size="2.5" dy="-1.3">4</tspan></text>
<text x="251.80" y="203.30" font-size="3.3" text-anchor="middle" fill="#555">10<tspan font-size="2.5" dy="-1.3">3</tspan></text>
<text x="251.30" y="214.70" font-size="3.3" text-anchor="middle" fill="#555">0</text>
<text x="251.80" y="228.20" font-size="3.3" text-anchor="middle" fill="#555">-10<tspan font-size="2.5" dy="-1.3">3</tspan></text>
<text x="272.30" y="240.30" font-size="3.3" text-anchor="middle" fill="#555">0</text>
<text x="291.70" y="240.30" font-size="3.3" text-anchor="middle" fill="#555">10<tspan font-size="2.5" dy="-1.3">3</tspan></text>
<text x="311.80" y="240.30" font-size="3.3" text-anchor="middle" fill="#555">10<tspan font-size="2.5" dy="-1.3">4</tspan></text>
<text x="330.00" y="240.30" font-size="3.3" text-anchor="middle" fill="#555">10<tspan font-size="2.5" dy="-1.3">5</tspan></text>
<path d="M255.40 150.20h1.2M255.40 153.90h1.2M255.40 157.60h1.2M255.40 161.30h1.2M255.40 165.00h1.2M255.40 168.70h1.2M255.40 172.40h1.2M255.40 176.10h1.2M255.40 179.80h1.2M255.40 183.50h1.2M255.40 187.20h1.2M255.40 190.90h1.2M255.40 194.60h1.2M255.40 198.30h1.2M255.40 202.00h1.2M255.40 205.70h1.2M255.40 209.40h1.2M255.40 213.10h1.2M255.40 216.80h1.2M255.40 220.50h1.2M255.40 224.20h1.2M255.40 227.90h1.2M259.30 232.40v1.2M263.00 232.40v1.2M266.70 232.40v1.2M270.40 232.40v1.2M274.10 232.40v1.2M277.80 232.40v1.2M281.50 232.40v1.2M285.20 232.40v1.2M288.90 232.40v1.2M292.60 232.40v1.2M296.30 232.40v1.2M300.00 232.40v1.2M303.70 232.40v1.2M307.40 232.40v1.2M311.10 232.40v1.2M314.80 232.40v1.2M318.50 232.40v1.2M322.20 232.40v1.2M325.90 232.40v1.2M329.60 232.40v1.2M333.30 232.40v1.2M337.00 232.40v1.2" stroke="#555" stroke-width="0.6" fill="none"/>
<path d="M254.10 163.40h2.2M254.10 182.70h2.2M254.10 202.00h2.2M254.10 226.90h2.2M291.70 233.00v2.0M311.80 233.00v2.0M330.00 233.00v2.0" stroke="#333" stroke-width="0.8" fill="none"/>
<rect x="255.40" y="211.40" width="1.8" height="3.8" fill="#222"/>
<rect x="270.10" y="232.30" width="4.2" height="1.5" fill="#222"/>
<rect x="356.20" y="148.40" width="86.70" height="85.60" fill="none" stroke="#9a9a9a" stroke-width="1"/>
<path d="M399.7 148.4 V234.0 M356.2 195.3 H442.9" stroke="#6e6e6e" stroke-width="1" fill="none"/>
<text x="437.70" y="157.60" font-size="8.1" text-anchor="end" font-weight="bold" textLength="21.00" lengthAdjust="spacingAndGlyphs" >0.06%</text>
<text x="358.00" y="154.00" font-size="3.7" fill="#3a3a3a">Q3</text>
<text x="358.00" y="159.00" font-size="3.7" fill="#3a3a3a">0.20</text>
<text x="358.40" y="225.00" font-size="3.7" fill="#3a3a3a">Q4</text>
<text x="358.40" y="230.00" font-size="3.7" fill="#3a3a3a">98.4</text>
<text x="436.30" y="225.00" font-size="3.7" text-anchor="end" fill="#3a3a3a">Q1</text>
<text x="436.30" y="230.00" font-size="3.7" text-anchor="end" fill="#3a3a3a">1.36</text>
<text x="351.70" y="165.90" font-size="3.3" text-anchor="middle" fill="#555">10<tspan font-size="2.5" dy="-1.3">5</tspan></text>
<text x="351.70" y="185.20" font-size="3.3" text-anchor="middle" fill="#555">10<tspan font-size="2.5" dy="-1.3">4</tspan></text>
<text x="351.70" y="204.50" font-size="3.3" text-anchor="middle" fill="#555">10<tspan font-size="2.5" dy="-1.3">3</tspan></text>
<text x="351.20" y="215.90" font-size="3.3" text-anchor="middle" fill="#555">0</text>
<text x="351.70" y="229.40" font-size="3.3" text-anchor="middle" fill="#555">-10<tspan font-size="2.5" dy="-1.3">3</tspan></text>
<text x="372.20" y="241.30" font-size="3.3" text-anchor="middle" fill="#555">0</text>
<text x="391.60" y="241.30" font-size="3.3" text-anchor="middle" fill="#555">10<tspan font-size="2.5" dy="-1.3">3</tspan></text>
<text x="411.70" y="241.30" font-size="3.3" text-anchor="middle" fill="#555">10<tspan font-size="2.5" dy="-1.3">4</tspan></text>
<text x="429.90" y="241.30" font-size="3.3" text-anchor="middle" fill="#555">10<tspan font-size="2.5" dy="-1.3">5</tspan></text>
<path d="M355.30 151.40h1.2M355.30 155.10h1.2M355.30 158.80h1.2M355.30 162.50h1.2M355.30 166.20h1.2M355.30 169.90h1.2M355.30 173.60h1.2M355.30 177.30h1.2M355.30 181.00h1.2M355.30 184.70h1.2M355.30 188.40h1.2M355.30 192.10h1.2M355.30 195.80h1.2M355.30 199.50h1.2M355.30 203.20h1.2M355.30 206.90h1.2M355.30 210.60h1.2M355.30 214.30h1.2M355.30 218.00h1.2M355.30 221.70h1.2M355.30 225.40h1.2M355.30 229.10h1.2M359.20 233.40v1.2M362.90 233.40v1.2M366.60 233.40v1.2M370.30 233.40v1.2M374.00 233.40v1.2M377.70 233.40v1.2M381.40 233.40v1.2M385.10 233.40v1.2M388.80 233.40v1.2M392.50 233.40v1.2M396.20 233.40v1.2M399.90 233.40v1.2M403.60 233.40v1.2M407.30 233.40v1.2M411.00 233.40v1.2M414.70 233.40v1.2M418.40 233.40v1.2M422.10 233.40v1.2M425.80 233.40v1.2M429.50 233.40v1.2M433.20 233.40v1.2M436.90 233.40v1.2" stroke="#555" stroke-width="0.6" fill="none"/>
<path d="M354.00 164.60h2.2M354.00 183.90h2.2M354.00 203.20h2.2M354.00 228.10h2.2M391.60 234.00v2.0M411.70 234.00v2.0M429.90 234.00v2.0" stroke="#333" stroke-width="0.8" fill="none"/>
<rect x="355.30" y="212.60" width="1.8" height="3.8" fill="#222"/>
<rect x="370.00" y="233.30" width="4.2" height="1.5" fill="#222"/>
<text x="11.70" y="299.40" font-size="15.6" font-weight="bold" textLength="10.00" lengthAdjust="spacingAndGlyphs" stroke="#000" stroke-width="0.6">B</text>
<path d="M286.3 289.1 A5.25 5.25 0 1 0 286.3 297.1" fill="none" stroke="#000" stroke-width="2.7"/>
<rect x="57.35" y="421.80" width="8.30" height="7.20" fill="#ecc0b0"/>
<rect x="71.25" y="407.30" width="8.30" height="21.70" fill="#f5d19c"/>
<rect x="85.15" y="427.30" width="8.30" height="1.70" fill="#929dcb"/>
<rect x="108.45" y="414.70" width="8.30" height="14.30" fill="#ecc0b0"/>
<rect x="122.45" y="389.60" width="8.30" height="39.40" fill="#f5d19c"/>
<rect x="136.45" y="403.20" width="8.30" height="25.80" fill="#929dcb"/>
<rect x="159.65" y="428.00" width="8.30" height="1.00" fill="#ecc0b0"/>
<rect x="173.65" y="403.90" width="8.30" height="25.10" fill="#f5d19c"/>
<rect x="187.45" y="427.00" width="8.30" height="2.00" fill="#929dcb"/>
<rect x="210.95" y="419.80" width="8.30" height="9.20" fill="#ecc0b0"/>
<rect x="224.75" y="397.80" width="8.30" height="31.20" fill="#f5d19c"/>
<rect x="238.75" y="423.00" width="8.30" height="6.00" fill="#929dcb"/>
<path d="M61.50 421.80V407.80M59.00 407.80H64.00" stroke="#b90a3a" stroke-width="1.3" fill="none"/>
<path d="M75.40 407.30V386.80M72.90 386.80H77.90" stroke="#e8961e" stroke-width="1.3" fill="none"/>
<path d="M89.30 427.30V425.00M86.80 425.00H91.80" stroke="#2a4a88" stroke-width="1.3" fill="none"/>
<path d="M112.60 414.70V397.80M110.10 397.80H115.10" stroke="#b90a3a" stroke-width="1.3" fill="none"/>
<path d="M126.60 389.60V362.50M124.10 362.50H129.10" stroke="#e8961e" stroke-width="1.3" fill="none"/>
<path d="M140.60 403.20V373.50M138.10 373.50H143.10" stroke="#2a4a88" stroke-width="1.3" fill="none"/>
<path d="M163.80 428.00V421.50M161.30 421.50H166.30" stroke="#b90a3a" stroke-width="1.3" fill="none"/>
<path d="M177.80 403.90V393.00M175.30 393.00H180.30" stroke="#e8961e" stroke-width="1.3" fill="none"/>
<path d="M191.60 427.00V419.50M189.10 419.50H194.10" stroke="#2a4a88" stroke-width="1.3" fill="none"/>
<path d="M215.10 419.80V405.50M212.60 405.50H217.60" stroke="#b90a3a" stroke-width="1.3" fill="none"/>
<path d="M228.90 397.80V380.40M226.40 380.40H231.40" stroke="#e8961e" stroke-width="1.3" fill="none"/>
<path d="M242.90 423.00V416.00M240.40 416.00H245.40" stroke="#2a4a88" stroke-width="1.3" fill="none"/>
<path d="M73.55 341.22H77.25L75.40 344.46ZM71.65 404.72H75.35L73.50 407.96ZM75.45 404.72H79.15L77.30 407.96ZM71.65 410.62H75.35L73.50 413.86ZM75.45 410.62H79.15L77.30 413.86ZM71.65 415.52H75.35L73.50 418.76ZM75.45 415.52H79.15L77.30 418.76ZM73.55 421.42H77.25L75.40 424.66ZM124.65 340.32H128.35L126.50 343.56ZM124.65 346.02H128.35L126.50 349.26ZM122.45 369.52H126.15L124.30 372.76ZM124.65 372.32H128.35L126.50 375.56ZM124.65 377.52H128.35L126.50 380.76ZM124.65 383.52H128.35L126.50 386.76ZM127.65 395.52H131.35L129.50 398.76ZM124.65 398.52H128.35L126.50 401.76ZM124.65 404.12H128.35L126.50 407.36ZM124.65 411.42H128.35L126.50 414.66ZM121.65 415.72H125.35L123.50 418.96ZM124.65 415.72H128.35L126.50 418.96ZM127.65 415.72H131.35L129.50 418.96ZM173.45 392.02H177.15L175.30 395.26ZM178.45 392.02H182.15L180.30 395.26ZM175.95 397.72H179.65L177.80 400.96ZM175.95 403.82H179.65L177.80 407.06ZM175.95 418.52H179.65L177.80 421.76ZM227.05 349.32H230.75L228.90 352.56ZM229.65 388.42H233.35L231.50 391.66ZM224.65 392.32H228.35L226.50 395.56ZM227.65 393.02H231.35L229.50 396.26ZM225.15 397.92H228.85L227.00 401.16ZM229.65 397.92H233.35L231.50 401.16ZM229.65 401.12H233.35L231.50 404.36ZM227.15 404.52H230.85L229.00 407.76ZM223.65 408.72H227.35L225.50 411.96ZM227.15 412.72H230.85L229.00 415.96ZM227.15 417.02H230.85L229.00 420.26Z" fill="#e38c12"/>
<path d="M87.45 424.98H91.15L89.30 421.74ZM85.65 428.48H89.35L87.50 425.24ZM89.15 428.48H92.85L91.00 425.24ZM87.45 429.98H91.15L89.30 426.74ZM138.65 343.48H142.35L140.50 340.24ZM138.65 355.88H142.35L140.50 352.64ZM138.65 388.88H142.35L140.50 385.64ZM138.65 408.38H142.35L140.50 405.14ZM138.65 416.68H142.35L140.50 413.44ZM141.65 416.68H145.35L143.50 413.44ZM135.65 419.28H139.35L137.50 416.04ZM138.65 423.28H142.35L140.50 420.04ZM135.65 425.58H139.35L137.50 422.34ZM141.65 425.58H145.35L143.50 422.34ZM136.65 430.48H140.35L138.50 427.24ZM140.65 430.48H144.35L142.50 427.24ZM189.55 419.08H193.25L191.40 415.84ZM187.15 426.98H190.85L189.00 423.74ZM192.15 426.98H195.85L194.00 423.74ZM189.65 429.48H193.35L191.50 426.24ZM241.15 416.48H244.85L243.00 413.24ZM239.15 420.98H242.85L241.00 417.74ZM243.15 420.98H246.85L245.00 417.74ZM241.15 423.48H244.85L243.00 420.24ZM238.15 425.48H241.85L240.00 422.24ZM241.15 425.98H244.85L243.00 422.74ZM244.15 425.48H247.85L246.00 422.24ZM239.15 428.48H242.85L241.00 425.24ZM243.15 428.48H246.85L245.00 425.24ZM241.15 430.48H244.85L243.00 427.24Z" fill="#1d3b7c"/>
<path d="M59.90 383.10a1.8 1.8 0 1 0 3.6 0a1.8 1.8 0 1 0 -3.6 0ZM59.90 401.40a1.8 1.8 0 1 0 3.6 0a1.8 1.8 0 1 0 -3.6 0ZM57.20 423.50a1.8 1.8 0 1 0 3.6 0a1.8 1.8 0 1 0 -3.6 0ZM60.20 423.00a1.8 1.8 0 1 0 3.6 0a1.8 1.8 0 1 0 -3.6 0ZM62.70 423.50a1.8 1.8 0 1 0 3.6 0a1.8 1.8 0 1 0 -3.6 0ZM56.70 426.00a1.8 1.8 0 1 0 3.6 0a1.8 1.8 0 1 0 -3.6 0ZM62.20 426.50a1.8 1.8 0 1 0 3.6 0a1.8 1.8 0 1 0 -3.6 0ZM57.20 429.00a1.8 1.8 0 1 0 3.6 0a1.8 1.8 0 1 0 -3.6 0ZM59.70 429.50a1.8 1.8 0 1 0 3.6 0a1.8 1.8 0 1 0 -3.6 0ZM62.20 429.00a1.8 1.8 0 1 0 3.6 0a1.8 1.8 0 1 0 -3.6 0ZM113.70 383.40a1.8 1.8 0 1 0 3.6 0a1.8 1.8 0 1 0 -3.6 0ZM110.80 386.10a1.8 1.8 0 1 0 3.6 0a1.8 1.8 0 1 0 -3.6 0ZM110.80 395.70a1.8 1.8 0 1 0 3.6 0a1.8 1.8 0 1 0 -3.6 0ZM110.80 409.30a1.8 1.8 0 1 0 3.6 0a1.8 1.8 0 1 0 -3.6 0ZM110.80 414.50a1.8 1.8 0 1 0 3.6 0a1.8 1.8 0 1 0 -3.6 0ZM107.60 416.20a1.8 1.8 0 1 0 3.6 0a1.8 1.8 0 1 0 -3.6 0ZM113.50 418.00a1.8 1.8 0 1 0 3.6 0a1.8 1.8 0 1 0 -3.6 0ZM107.60 420.50a1.8 1.8 0 1 0 3.6 0a1.8 1.8 0 1 0 -3.6 0ZM110.70 423.40a1.8 1.8 0 1 0 3.6 0a1.8 1.8 0 1 0 -3.6 0ZM113.70 423.40a1.8 1.8 0 1 0 3.6 0a1.8 1.8 0 1 0 -3.6 0ZM107.70 427.00a1.8 1.8 0 1 0 3.6 0a1.8 1.8 0 1 0 -3.6 0ZM106.70 429.40a1.8 1.8 0 1 0 3.6 0a1.8 1.8 0 1 0 -3.6 0ZM109.70 429.40a1.8 1.8 0 1 0 3.6 0a1.8 1.8 0 1 0 -3.6 0ZM112.70 429.40a1.8 1.8 0 1 0 3.6 0a1.8 1.8 0 1 0 -3.6 0ZM115.20 429.40a1.8 1.8 0 1 0 3.6 0a1.8 1.8 0 1 0 -3.6 0ZM159.10 420.40a1.8 1.8 0 1 0 3.6 0a1.8 1.8 0 1 0 -3.6 0ZM158.90 429.00a1.8 1.8 0 1 0 3.6 0a1.8 1.8 0 1 0 -3.6 0ZM162.00 429.00a1.8 1.8 0 1 0 3.6 0a1.8 1.8 0 1 0 -3.6 0ZM165.00 429.00a1.8 1.8 0 1 0 3.6 0a1.8 1.8 0 1 0 -3.6 0ZM213.40 379.80a1.8 1.8 0 1 0 3.6 0a1.8 1.8 0 1 0 -3.6 0ZM213.40 401.00a1.8 1.8 0 1 0 3.6 0a1.8 1.8 0 1 0 -3.6 0ZM213.40 418.00a1.8 1.8 0 1 0 3.6 0a1.8 1.8 0 1 0 -3.6 0ZM211.20 421.00a1.8 1.8 0 1 0 3.6 0a1.8 1.8 0 1 0 -3.6 0ZM215.70 421.00a1.8 1.8 0 1 0 3.6 0a1.8 1.8 0 1 0 -3.6 0ZM210.20 424.00a1.8 1.8 0 1 0 3.6 0a1.8 1.8 0 1 0 -3.6 0ZM213.20 424.00a1.8 1.8 0 1 0 3.6 0a1.8 1.8 0 1 0 -3.6 0ZM216.20 424.00a1.8 1.8 0 1 0 3.6 0a1.8 1.8 0 1 0 -3.6 0ZM210.20 427.00a1.8 1.8 0 1 0 3.6 0a1.8 1.8 0 1 0 -3.6 0ZM213.20 427.00a1.8 1.8 0 1 0 3.6 0a1.8 1.8 0 1 0 -3.6 0ZM216.20 427.00a1.8 1.8 0 1 0 3.6 0a1.8 1.8 0 1 0 -3.6 0ZM211.20 429.50a1.8 1.8 0 1 0 3.6 0a1.8 1.8 0 1 0 -3.6 0ZM215.20 429.50a1.8 1.8 0 1 0 3.6 0a1.8 1.8 0 1 0 -3.6 0Z" fill="#b5002f"/>
<path d="M52.1 309.1 V429.85 M51.25 429.0 H253.0" stroke="#000" stroke-width="1.7" fill="none"/>
<path d="M47.20 313.90H52.1M47.20 342.70H52.1M47.20 371.50H52.1M47.20 400.30H52.1M47.20 429.10H52.1M75.40 429.0V433.40M126.50 429.0V433.40M177.80 429.0V433.40M228.90 429.0V433.40" stroke="#000" stroke-width="1.5" fill="none"/>
<text x="43.20" y="317.20" font-size="10" text-anchor="end" fill="#222" >2.0</text>
<text x="43.20" y="346.00" font-size="10" text-anchor="end" fill="#222" >1.5</text>
<text x="43.20" y="374.80" font-size="10" text-anchor="end" fill="#222" >1.0</text>
<text x="43.20" y="403.60" font-size="10" text-anchor="end" fill="#222" >0.5</text>
<text x="43.20" y="432.40" font-size="10" text-anchor="end" fill="#222" >0.0</text>
<text x="79.30" y="444.60" font-size="10.8" text-anchor="end" fill="#111" textLength="22.50" lengthAdjust="spacingAndGlyphs" transform="rotate(-45 79.30 444.60)" >Actin</text>
<text x="130.40" y="444.60" font-size="10.8" text-anchor="end" fill="#111" textLength="44.50" lengthAdjust="spacingAndGlyphs" transform="rotate(-45 130.40 444.60)" >Membrane</text>
<text x="181.70" y="444.60" font-size="10.8" text-anchor="end" fill="#111" textLength="58.00" lengthAdjust="spacingAndGlyphs" transform="rotate(-45 181.70 444.60)" >Nucleocapsid</text>
<text x="232.80" y="444.60" font-size="10.8" text-anchor="end" fill="#111" textLength="24.00" lengthAdjust="spacingAndGlyphs" transform="rotate(-45 232.80 444.60)" >Spike</text>
<rect x="314.35" y="410.10" width="8.30" height="19.10" fill="#d59590"/>
<rect x="327.35" y="425.50" width="8.30" height="3.70" fill="#f5d19c"/>
<rect x="341.05" y="427.80" width="8.30" height="1.40" fill="#929dcb"/>
<rect x="363.45" y="410.00" width="8.30" height="19.20" fill="#d59590"/>
<rect x="376.45" y="425.50" width="8.30" height="3.70" fill="#f5d19c"/>
<rect x="390.25" y="427.80" width="8.30" height="1.40" fill="#929dcb"/>
<rect x="412.75" y="417.90" width="8.30" height="11.30" fill="#d59590"/>
<rect x="425.95" y="427.00" width="8.30" height="2.20" fill="#f5d19c"/>
<rect x="439.35" y="428.00" width="8.30" height="1.20" fill="#929dcb"/>
<rect x="462.05" y="410.30" width="8.30" height="18.90" fill="#d59590"/>
<rect x="475.45" y="422.90" width="8.30" height="6.30" fill="#f5d19c"/>
<rect x="488.85" y="427.80" width="8.30" height="1.40" fill="#929dcb"/>
<path d="M318.50 410.10V383.40M316.00 383.40H321.00" stroke="#b90a3a" stroke-width="1.3" fill="none"/>
<path d="M331.50 425.50V412.80M329.00 412.80H334.00" stroke="#e8961e" stroke-width="1.3" fill="none"/>
<path d="M345.20 427.80V423.50M342.70 423.50H347.70" stroke="#2a4a88" stroke-width="1.3" fill="none"/>
<path d="M367.60 410.00V385.00M365.10 385.00H370.10" stroke="#b90a3a" stroke-width="1.3" fill="none"/>
<path d="M380.60 425.50V411.20M378.10 411.20H383.10" stroke="#e8961e" stroke-width="1.3" fill="none"/>
<path d="M394.40 427.80V423.50M391.90 423.50H396.90" stroke="#2a4a88" stroke-width="1.3" fill="none"/>
<path d="M416.90 417.90V393.90M414.40 393.90H419.40" stroke="#b90a3a" stroke-width="1.3" fill="none"/>
<path d="M430.10 427.00V420.50M427.60 420.50H432.60" stroke="#e8961e" stroke-width="1.3" fill="none"/>
<path d="M443.50 428.00V425.50M441.00 425.50H446.00" stroke="#2a4a88" stroke-width="1.3" fill="none"/>
<path d="M466.20 410.30V381.30M463.70 381.30H468.70" stroke="#b90a3a" stroke-width="1.3" fill="none"/>
<path d="M479.60 422.90V410.60M477.10 410.60H482.10" stroke="#e8961e" stroke-width="1.3" fill="none"/>
<path d="M493.00 427.80V423.50M490.50 423.50H495.50" stroke="#2a4a88" stroke-width="1.3" fill="none"/>
<path d="M330.00 385.96H333.60L331.80 389.11ZM329.70 412.56H333.30L331.50 415.71ZM329.70 416.56H333.30L331.50 419.71ZM327.20 421.56H330.80L329.00 424.71ZM332.20 421.56H335.80L334.00 424.71ZM326.20 425.06H329.80L328.00 428.21ZM329.70 425.06H333.30L331.50 428.21ZM333.20 425.06H336.80L335.00 428.21ZM327.70 427.56H331.30L329.50 430.71ZM331.70 427.56H335.30L333.50 430.71ZM379.50 384.26H383.10L381.30 387.41ZM378.80 412.56H382.40L380.60 415.71ZM378.80 416.56H382.40L380.60 419.71ZM376.20 421.56H379.80L378.00 424.71ZM381.20 421.56H384.80L383.00 424.71ZM375.70 425.06H379.30L377.50 428.21ZM378.80 425.06H382.40L380.60 428.21ZM382.00 425.06H385.60L383.80 428.21ZM377.20 427.56H380.80L379.00 430.71ZM380.70 427.56H384.30L382.50 430.71ZM428.30 417.56H431.90L430.10 420.71ZM425.20 426.06H428.80L427.00 429.21ZM431.70 426.06H435.30L433.50 429.21ZM428.30 427.56H431.90L430.10 430.71ZM477.80 386.56H481.40L479.60 389.71ZM477.80 411.56H481.40L479.60 414.71ZM477.80 416.56H481.40L479.60 419.71ZM475.20 420.06H478.80L477.00 423.21ZM480.20 420.06H483.80L482.00 423.21ZM474.70 423.56H478.30L476.50 426.71ZM477.80 423.56H481.40L479.60 426.71ZM480.90 423.56H484.50L482.70 426.71ZM476.20 427.06H479.80L478.00 430.21ZM479.70 427.06H483.30L481.50 430.21Z" fill="#e38c12"/>
<path d="M343.40 423.34H347.00L345.20 420.19ZM341.40 428.64H345.00L343.20 425.49ZM345.40 428.64H349.00L347.20 425.49ZM392.70 423.64H396.30L394.50 420.49ZM390.70 428.64H394.30L392.50 425.49ZM394.70 428.64H398.30L396.50 425.49ZM439.70 427.24H443.30L441.50 424.09ZM443.70 428.94H447.30L445.50 425.79ZM491.20 423.64H494.80L493.00 420.49ZM489.20 428.64H492.80L491.00 425.49ZM493.20 428.64H496.80L495.00 425.49Z" fill="#1d3b7c"/>
<path d="M316.75 336.40a1.75 1.75 0 1 0 3.5 0a1.75 1.75 0 1 0 -3.5 0ZM316.75 383.40a1.75 1.75 0 1 0 3.5 0a1.75 1.75 0 1 0 -3.5 0ZM313.75 398.00a1.75 1.75 0 1 0 3.5 0a1.75 1.75 0 1 0 -3.5 0ZM317.25 400.50a1.75 1.75 0 1 0 3.5 0a1.75 1.75 0 1 0 -3.5 0ZM313.75 403.00a1.75 1.75 0 1 0 3.5 0a1.75 1.75 0 1 0 -3.5 0ZM314.75 417.60a1.75 1.75 0 1 0 3.5 0a1.75 1.75 0 1 0 -3.5 0ZM317.75 417.60a1.75 1.75 0 1 0 3.5 0a1.75 1.75 0 1 0 -3.5 0ZM313.75 425.00a1.75 1.75 0 1 0 3.5 0a1.75 1.75 0 1 0 -3.5 0ZM316.75 425.00a1.75 1.75 0 1 0 3.5 0a1.75 1.75 0 1 0 -3.5 0ZM319.75 425.00a1.75 1.75 0 1 0 3.5 0a1.75 1.75 0 1 0 -3.5 0ZM313.75 428.50a1.75 1.75 0 1 0 3.5 0a1.75 1.75 0 1 0 -3.5 0ZM316.75 429.50a1.75 1.75 0 1 0 3.5 0a1.75 1.75 0 1 0 -3.5 0ZM319.75 428.50a1.75 1.75 0 1 0 3.5 0a1.75 1.75 0 1 0 -3.5 0ZM365.95 345.80a1.75 1.75 0 1 0 3.5 0a1.75 1.75 0 1 0 -3.5 0ZM364.25 385.10a1.75 1.75 0 1 0 3.5 0a1.75 1.75 0 1 0 -3.5 0ZM367.45 385.10a1.75 1.75 0 1 0 3.5 0a1.75 1.75 0 1 0 -3.5 0ZM365.95 400.20a1.75 1.75 0 1 0 3.5 0a1.75 1.75 0 1 0 -3.5 0ZM365.95 404.60a1.75 1.75 0 1 0 3.5 0a1.75 1.75 0 1 0 -3.5 0ZM365.95 408.40a1.75 1.75 0 1 0 3.5 0a1.75 1.75 0 1 0 -3.5 0ZM365.95 417.20a1.75 1.75 0 1 0 3.5 0a1.75 1.75 0 1 0 -3.5 0ZM363.25 422.40a1.75 1.75 0 1 0 3.5 0a1.75 1.75 0 1 0 -3.5 0ZM368.25 422.40a1.75 1.75 0 1 0 3.5 0a1.75 1.75 0 1 0 -3.5 0ZM365.95 425.40a1.75 1.75 0 1 0 3.5 0a1.75 1.75 0 1 0 -3.5 0ZM363.75 428.50a1.75 1.75 0 1 0 3.5 0a1.75 1.75 0 1 0 -3.5 0ZM367.75 428.50a1.75 1.75 0 1 0 3.5 0a1.75 1.75 0 1 0 -3.5 0ZM415.15 375.90a1.75 1.75 0 1 0 3.5 0a1.75 1.75 0 1 0 -3.5 0ZM415.15 423.20a1.75 1.75 0 1 0 3.5 0a1.75 1.75 0 1 0 -3.5 0ZM411.75 427.90a1.75 1.75 0 1 0 3.5 0a1.75 1.75 0 1 0 -3.5 0ZM418.25 427.90a1.75 1.75 0 1 0 3.5 0a1.75 1.75 0 1 0 -3.5 0ZM415.15 429.50a1.75 1.75 0 1 0 3.5 0a1.75 1.75 0 1 0 -3.5 0ZM464.55 342.20a1.75 1.75 0 1 0 3.5 0a1.75 1.75 0 1 0 -3.5 0ZM464.55 381.30a1.75 1.75 0 1 0 3.5 0a1.75 1.75 0 1 0 -3.5 0ZM464.55 383.80a1.75 1.75 0 1 0 3.5 0a1.75 1.75 0 1 0 -3.5 0ZM464.55 390.40a1.75 1.75 0 1 0 3.5 0a1.75 1.75 0 1 0 -3.5 0ZM465.75 399.30a1.75 1.75 0 1 0 3.5 0a1.75 1.75 0 1 0 -3.5 0ZM464.25 402.50a1.75 1.75 0 1 0 3.5 0a1.75 1.75 0 1 0 -3.5 0ZM461.25 421.50a1.75 1.75 0 1 0 3.5 0a1.75 1.75 0 1 0 -3.5 0ZM467.25 421.50a1.75 1.75 0 1 0 3.5 0a1.75 1.75 0 1 0 -3.5 0ZM464.25 424.50a1.75 1.75 0 1 0 3.5 0a1.75 1.75 0 1 0 -3.5 0ZM461.25 427.50a1.75 1.75 0 1 0 3.5 0a1.75 1.75 0 1 0 -3.5 0ZM467.75 427.50a1.75 1.75 0 1 0 3.5 0a1.75 1.75 0 1 0 -3.5 0ZM464.25 430.00a1.75 1.75 0 1 0 3.5 0a1.75 1.75 0 1 0 -3.5 0Z" fill="#b5002f"/>
<path d="M309.0 313.3 V430.05 M308.15 429.2 H499.0" stroke="#000" stroke-width="1.7" fill="none"/>
<path d="M304.10 317.50H309.0M304.10 354.80H309.0M304.10 392.10H309.0M304.10 429.40H309.0M331.60 429.2V433.60M380.70 429.2V433.60M430.20 429.2V433.60M479.70 429.2V433.60" stroke="#000" stroke-width="1.5" fill="none"/>
<text x="300.00" y="320.80" font-size="10" text-anchor="end" fill="#222" >3</text>
<text x="300.00" y="358.10" font-size="10" text-anchor="end" fill="#222" >2</text>
<text x="300.00" y="395.40" font-size="10" text-anchor="end" fill="#222" >1</text>
<text x="300.00" y="432.70" font-size="10" text-anchor="end" fill="#222" >0</text>
<text x="335.50" y="444.60" font-size="10.8" text-anchor="end" fill="#111" textLength="22.50" lengthAdjust="spacingAndGlyphs" transform="rotate(-45 335.50 444.60)" >Actin</text>
<text x="384.60" y="444.60" font-size="10.8" text-anchor="end" fill="#111" textLength="44.50" lengthAdjust="spacingAndGlyphs" transform="rotate(-45 384.60 444.60)" >Membrane</text>
<text x="434.10" y="444.60" font-size="10.8" text-anchor="end" fill="#111" textLength="58.00" lengthAdjust="spacingAndGlyphs" transform="rotate(-45 434.10 444.60)" >Nucleocapsid</text>
<text x="483.60" y="444.60" font-size="10.8" text-anchor="end" fill="#111" textLength="24.00" lengthAdjust="spacingAndGlyphs" transform="rotate(-45 483.60 444.60)" >Spike</text>
<path d="M89 327.5V321.8H140.6V327.5 M88.7 340.6V335.2H242.7V340.6" stroke="#111" stroke-width="1.3" fill="none"/>
<text x="114.70" y="321.20" font-size="8" text-anchor="middle" font-weight="bold" >*</text>
<text x="165.80" y="333.60" font-size="8" text-anchor="middle" font-weight="bold" >**</text>
<text x="21.20" y="398.90" font-size="12" fill="#111" textLength="59.00" lengthAdjust="spacingAndGlyphs" transform="rotate(-90 21.20 398.90)" >% CD4 T-cells</text>
<text x="286.60" y="400.40" font-size="12" fill="#111" textLength="58.20" lengthAdjust="spacingAndGlyphs" transform="rotate(-90 286.60 400.40)" >% CD8 T-cells</text>
<text x="130.40" y="502.20" font-size="12.6" fill="#111" textLength="43.80" lengthAdjust="spacingAndGlyphs" >Condition</text>
<text x="387.20" y="502.30" font-size="12.6" fill="#111" textLength="43.90" lengthAdjust="spacingAndGlyphs" >Condition</text>
<circle cx="207.8" cy="513.7" r="2.2" fill="#b5002f"/>
<path d="M253.20 511.64H257.60L255.40 515.49Z" fill="#e38c12"/>
<path d="M296.40 515.36H300.80L298.60 511.51Z" fill="#1d3b7c"/>
<text x="214.70" y="516.40" font-size="8" fill="#111" textLength="25.10" lengthAdjust="spacingAndGlyphs" >IFN-g+</text>
<text x="262.30" y="516.40" font-size="8" fill="#111" textLength="19.90" lengthAdjust="spacingAndGlyphs" >TFN+</text>
<text x="305.20" y="516.40" font-size="8" fill="#111" textLength="44.60" lengthAdjust="spacingAndGlyphs" >IFN-g/TNF+</text>
</svg>
</body></html>
